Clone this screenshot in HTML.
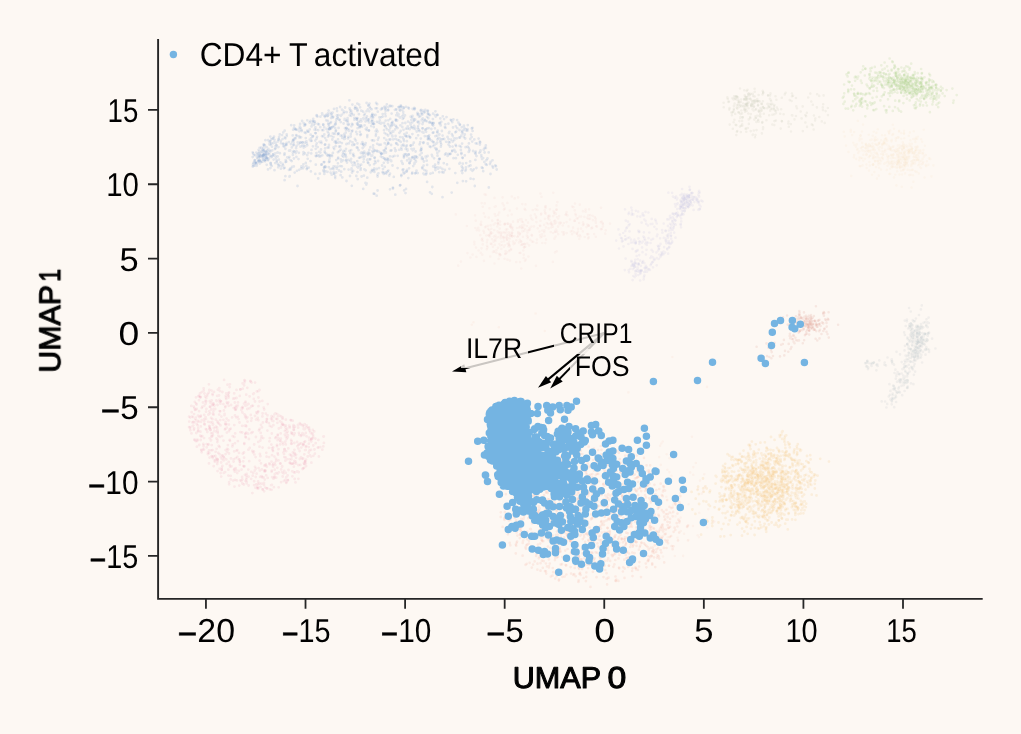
<!DOCTYPE html>
<html><head><meta charset="utf-8"><title>UMAP</title>
<style>html,body{margin:0;padding:0;background:#fdf8f3;}svg{display:block}text{font-family:"Liberation Sans",sans-serif;fill:#000000}</style>
</head><body>
<svg width="1021" height="734" viewBox="0 0 1021 734">
<rect width="1021" height="734" fill="#fdf8f3"/>
<g opacity="0.999">
<g id="faint">
<path d="M392.2 123.0h0M406.2 146.6h0M344.2 138.0h0M421.5 113.8h0M358.3 124.9h0M350.8 133.9h0M336.9 115.5h0M414.3 107.9h0M334.3 173.9h0M255.8 162.3h0M435.1 164.6h0M363.7 153.3h0M293.2 139.7h0M401.6 149.7h0M370.4 159.2h0M357.2 161.2h0M348.6 124.1h0M299.8 126.7h0M356.7 119.5h0M439.6 158.8h0M295.9 129.6h0M293.9 158.5h0M325.2 144.4h0M360.1 121.4h0M269.9 150.4h0M449.9 142.3h0M462.8 158.1h0M472.2 141.6h0M347.6 118.2h0M337.1 111.1h0M435.4 168.4h0M345.8 160.6h0M438.4 161.8h0M315.3 140.6h0M402.4 163.4h0M461.4 154.0h0M427.1 164.9h0M320.3 127.2h0M328.8 129.4h0M427.9 110.7h0M390.1 133.4h0M323.7 162.2h0M316.7 143.4h0M363.3 144.5h0M428.3 118.2h0M385.0 159.0h0M333.7 172.0h0M354.4 117.8h0M332.5 127.1h0M366.9 116.5h0M384.8 173.0h0M362.9 156.5h0M366.9 130.1h0M291.8 147.4h0M347.7 124.3h0M440.2 141.0h0M411.1 127.4h0M381.3 153.8h0M344.1 139.0h0M415.8 172.9h0M309.6 122.5h0M447.6 155.9h0M431.4 129.0h0M266.6 151.4h0M329.9 128.5h0M337.6 166.6h0M466.2 163.1h0M263.2 155.1h0M320.5 156.3h0M381.9 108.2h0M386.0 152.5h0M444.9 127.1h0M271.1 139.5h0M362.0 126.8h0M435.4 111.3h0M406.7 133.0h0M395.6 135.9h0M459.2 137.6h0M389.9 160.0h0M359.8 126.9h0M376.0 134.1h0M302.7 142.4h0M464.8 155.4h0M271.5 157.0h0M301.4 166.5h0M305.3 146.5h0M311.5 126.4h0M279.1 136.9h0M412.5 116.0h0M298.9 152.8h0M452.2 150.7h0M465.4 170.8h0M495.3 165.4h0M404.0 173.6h0M351.2 110.9h0M333.5 168.8h0M253.5 165.9h0M345.1 107.5h0M372.4 151.2h0M305.0 153.4h0M429.0 114.9h0M386.2 172.3h0M340.8 122.1h0M307.1 168.2h0M378.6 137.7h0M388.1 159.5h0M418.1 135.3h0M330.6 172.6h0M409.5 128.7h0M422.7 118.5h0M270.9 157.0h0M384.1 123.0h0M315.4 127.3h0M441.3 121.8h0M399.1 140.5h0M361.6 156.9h0M406.0 128.6h0M262.6 149.6h0M423.6 142.4h0M291.8 161.1h0M410.6 124.7h0M440.4 123.2h0M313.2 121.1h0M283.8 168.3h0M305.8 138.1h0M353.3 153.8h0M314.9 121.6h0M278.9 159.7h0M324.0 171.7h0M328.1 136.5h0M340.7 149.7h0M377.6 176.5h0M426.9 121.3h0M423.9 161.5h0M303.7 147.6h0M384.5 125.6h0M364.6 125.3h0M373.2 117.4h0M268.1 140.2h0M307.3 145.3h0M328.7 124.4h0M436.4 150.0h0M427.1 128.3h0M302.2 145.6h0M402.8 118.9h0M289.0 169.9h0M473.5 179.1h0M404.0 141.0h0M274.0 136.6h0M328.6 110.6h0M463.9 125.6h0M402.8 163.9h0M312.9 146.3h0M461.3 135.6h0M330.6 169.2h0M352.4 104.6h0M455.3 132.3h0M332.7 117.4h0M441.2 144.5h0M265.9 157.5h0M353.2 170.9h0M367.3 177.7h0M284.6 180.2h0M268.4 149.0h0M270.7 163.5h0M282.1 135.1h0M374.5 193.8h0M273.0 154.7h0M360.9 153.0h0M420.8 138.6h0M414.1 120.5h0M351.1 158.9h0M377.5 131.5h0M333.4 137.1h0M439.2 172.2h0M422.3 128.3h0M451.2 139.7h0M267.9 153.7h0M274.5 170.2h0M456.7 138.3h0M492.5 166.2h0M379.8 120.4h0M275.3 148.3h0M424.4 111.8h0M391.3 161.2h0M355.5 108.3h0M384.7 143.2h0M335.7 124.2h0M462.1 143.6h0M457.1 120.1h0M262.9 156.8h0M451.7 192.6h0M448.4 123.7h0M296.5 145.9h0M374.4 171.9h0M360.1 107.3h0M476.4 168.0h0M410.1 122.8h0M345.0 138.7h0M424.9 119.7h0M384.8 166.9h0M361.6 176.5h0M388.4 143.6h0M382.1 165.5h0M333.6 147.4h0M472.4 170.8h0M462.6 169.8h0M430.6 147.1h0M400.1 110.7h0M403.9 155.0h0M417.7 121.7h0M490.5 174.0h0M361.4 121.3h0M267.8 159.7h0M429.4 122.7h0M449.9 154.2h0M315.7 148.8h0M311.7 140.8h0M415.1 159.4h0M312.7 136.4h0M467.6 146.7h0M340.8 159.4h0M341.3 161.7h0M372.8 170.5h0M265.4 151.8h0M319.0 124.4h0M392.2 135.6h0M368.6 105.1h0M347.8 122.5h0M262.8 155.2h0M410.5 145.6h0M338.2 133.4h0M325.7 115.6h0M369.0 122.4h0M312.4 136.6h0M363.2 188.9h0M369.9 154.0h0M276.0 148.1h0M293.8 144.6h0M429.6 138.6h0M427.6 156.0h0M278.5 147.1h0M391.9 125.1h0M391.2 160.7h0M392.5 136.4h0M259.5 160.3h0M388.3 120.3h0M335.2 128.2h0M432.9 142.0h0M470.9 169.4h0M346.2 128.2h0M265.3 157.0h0M390.0 173.6h0M475.7 153.9h0M286.7 134.3h0M297.5 186.0h0M359.2 104.7h0M254.9 160.3h0M275.2 163.1h0M363.6 161.9h0M439.4 123.5h0M325.0 166.5h0M414.1 119.1h0M328.8 167.2h0M435.4 170.0h0M342.3 135.6h0M377.2 143.8h0M315.7 156.0h0M461.0 146.8h0M377.0 108.3h0M391.6 113.6h0M388.4 170.6h0M371.9 140.3h0M433.4 123.4h0M439.4 134.5h0M469.6 150.0h0M279.8 134.4h0M420.3 116.1h0M300.6 127.8h0M266.1 154.6h0M445.0 154.6h0M475.4 159.9h0M335.6 166.7h0M362.2 152.4h0M393.2 139.4h0M372.0 115.2h0M409.8 129.2h0M340.3 146.4h0M263.6 144.5h0M335.6 146.2h0M332.3 139.5h0M356.8 147.4h0M442.4 169.0h0M395.3 194.7h0M380.9 109.4h0" stroke="#4f7fc0" stroke-opacity="0.145" stroke-width="2.76" stroke-linecap="round" fill="none"/>
<path d="M412.1 173.7h0M289.4 156.9h0M263.3 154.6h0M426.5 173.2h0M393.9 124.6h0M328.4 114.9h0M427.8 113.7h0M409.0 135.9h0M332.4 127.1h0M401.1 106.3h0M357.5 172.1h0M270.4 168.1h0M351.8 185.8h0M365.6 121.4h0M272.0 146.7h0M324.9 144.8h0M280.8 140.8h0M432.3 187.0h0M406.3 154.5h0M390.6 106.0h0M403.4 169.4h0M276.8 161.8h0M368.0 119.4h0M482.1 159.0h0M425.5 120.9h0M312.0 123.9h0M355.2 106.7h0M368.3 163.1h0M372.3 155.4h0M469.0 151.8h0M374.1 140.6h0M286.3 144.3h0M318.2 178.5h0M353.8 114.8h0M370.4 147.2h0M319.8 173.7h0M269.3 154.7h0M431.8 193.8h0M301.4 129.9h0M275.3 153.4h0M414.6 156.5h0M349.6 108.3h0M328.8 133.6h0M485.8 145.5h0M270.2 141.4h0M316.4 153.1h0M332.5 168.3h0M385.2 113.7h0M357.0 123.4h0M310.5 121.0h0M380.9 156.4h0M321.1 141.6h0M327.6 147.6h0M376.1 103.0h0M483.2 158.1h0M397.5 139.9h0M438.2 138.0h0M303.6 167.2h0M455.5 151.9h0M451.3 120.5h0M431.5 123.0h0M410.9 160.5h0M352.7 124.6h0M354.9 139.0h0M371.2 126.1h0M418.1 126.1h0M327.9 115.7h0M323.3 124.9h0M283.2 165.6h0M316.7 115.9h0M346.7 143.8h0M386.3 173.6h0M373.1 140.3h0M264.7 159.0h0M333.4 133.6h0M468.7 151.9h0M341.2 171.7h0M327.5 171.8h0M303.0 168.3h0M423.4 173.6h0M481.8 167.5h0M268.0 169.4h0M329.3 128.9h0M296.6 151.3h0M460.9 149.9h0M317.7 147.1h0M289.7 176.2h0M394.5 155.9h0M424.1 174.3h0M480.4 151.5h0M347.7 120.4h0M413.6 157.0h0M424.8 136.2h0M252.7 166.6h0M412.7 144.8h0M374.2 170.1h0M373.2 152.4h0M284.7 167.8h0M372.3 119.7h0M312.7 121.7h0M399.6 109.7h0M289.5 176.7h0M294.0 128.0h0M372.0 170.0h0M261.6 155.0h0M387.0 129.3h0M423.6 165.6h0M255.3 163.1h0M421.9 158.9h0M342.2 155.6h0M403.5 172.2h0M329.3 155.9h0M381.8 153.8h0M336.0 130.4h0M392.8 131.1h0M405.3 123.0h0M270.9 145.0h0M403.2 111.9h0M346.4 144.2h0M384.6 150.6h0M326.2 120.3h0M407.7 126.5h0M264.2 155.9h0M351.6 168.4h0M466.2 130.4h0M486.8 164.9h0M337.6 117.3h0M465.9 169.3h0M462.8 167.9h0M422.6 159.2h0M325.1 148.4h0M310.5 161.1h0M333.8 173.6h0M399.9 185.5h0M294.0 139.8h0M363.8 159.1h0M472.6 130.9h0M266.2 153.7h0M392.5 121.8h0M458.5 122.7h0M459.9 124.4h0M355.1 165.1h0M336.1 142.6h0M299.5 128.6h0M273.3 138.2h0M319.6 142.0h0M481.6 157.2h0M364.4 169.3h0M293.6 151.1h0M293.8 166.4h0M407.7 128.7h0M275.5 146.1h0M316.1 129.6h0M403.5 129.8h0M352.7 165.3h0M272.2 150.4h0M420.2 142.2h0M315.8 133.2h0M375.6 108.3h0M371.5 155.9h0M266.1 152.2h0M303.4 164.5h0M360.9 134.2h0M419.9 154.9h0M344.2 111.7h0M387.6 159.8h0M328.0 155.5h0M385.6 110.8h0M395.6 109.6h0M465.9 167.4h0M354.5 144.4h0M258.4 161.5h0M389.2 139.6h0M319.2 156.4h0M263.3 150.3h0M465.8 129.3h0M338.5 115.1h0M382.6 172.2h0M448.7 142.1h0M347.7 129.1h0M421.7 112.5h0M455.3 173.1h0M294.9 129.0h0M259.1 156.9h0M322.0 136.2h0M330.9 128.5h0M253.2 153.5h0M358.2 164.2h0M391.1 145.0h0M424.7 120.5h0M439.5 138.2h0M351.4 169.8h0M282.0 166.1h0M340.9 115.8h0M400.8 141.9h0M341.6 114.8h0M477.1 143.6h0M440.7 125.4h0M305.8 162.9h0M413.4 128.4h0M421.1 109.9h0M302.1 121.0h0M350.3 153.2h0M264.2 145.0h0M376.7 195.7h0M416.1 156.4h0M332.8 133.3h0M345.5 155.3h0M296.8 136.0h0M437.5 155.7h0M403.3 144.7h0M286.3 161.7h0M270.1 155.6h0M266.6 147.1h0M480.5 150.3h0M393.3 131.7h0M371.9 115.6h0M324.1 167.2h0M455.8 126.3h0M456.2 131.6h0M366.5 119.8h0M384.4 158.6h0M416.7 131.5h0M302.3 142.5h0M262.6 154.9h0M268.8 158.7h0M298.6 144.2h0M331.4 114.1h0M480.2 142.4h0M359.8 165.9h0M486.4 160.2h0M394.9 109.8h0M365.7 170.3h0M305.3 125.1h0M417.4 113.0h0M358.9 114.2h0M462.4 157.6h0M391.5 150.3h0M357.6 128.2h0M253.4 162.9h0M316.0 145.7h0M319.4 155.5h0M263.0 159.7h0M399.4 132.8h0M388.1 135.5h0M483.2 171.2h0M405.7 148.9h0M260.2 161.4h0M442.1 172.2h0M463.9 130.1h0M266.0 159.8h0M343.0 152.9h0M273.2 154.2h0M367.9 152.6h0M446.5 117.1h0M493.1 167.7h0M408.8 154.3h0M462.9 181.1h0M484.3 161.9h0M295.7 153.0h0M404.9 172.6h0M357.3 103.6h0M410.9 145.5h0M331.4 155.2h0M380.7 123.7h0M403.9 157.5h0M325.9 171.4h0M295.6 138.3h0M446.1 141.8h0M350.2 141.2h0M406.0 136.1h0M341.9 166.3h0M292.1 167.0h0M268.1 160.3h0M437.1 135.6h0M342.5 110.1h0M428.3 136.5h0M444.2 139.0h0M276.4 145.6h0M488.8 187.5h0M297.7 142.5h0M342.0 109.7h0M401.3 176.0h0M406.9 141.2h0M313.8 124.9h0M381.6 123.0h0M331.7 174.7h0M455.6 145.0h0M280.9 168.7h0M307.3 130.7h0M354.9 163.4h0M374.8 157.6h0M485.9 148.0h0M385.7 108.6h0M404.3 134.2h0" stroke="#4f7fc0" stroke-opacity="0.145" stroke-width="2.76" stroke-linecap="round" fill="none"/>
<path d="M355.9 140.6h0M252.7 152.3h0M300.4 142.6h0M259.9 155.0h0M492.5 160.3h0M329.8 158.1h0M270.3 151.7h0M434.9 128.3h0M361.3 110.7h0M396.4 127.0h0M293.0 140.4h0M335.8 141.1h0M438.0 168.7h0M279.6 165.6h0M449.4 168.8h0M454.4 138.3h0M410.2 137.6h0M442.6 135.6h0M456.1 146.1h0M428.9 128.2h0M407.0 156.2h0M452.6 146.6h0M430.0 192.3h0M301.1 137.3h0M414.6 163.0h0M269.1 153.0h0M308.4 152.8h0M368.9 130.6h0M414.0 120.2h0M402.3 127.0h0M408.3 107.6h0M359.8 127.4h0M315.3 173.9h0M392.5 165.5h0M352.0 172.5h0M323.3 170.4h0M406.0 188.9h0M349.5 150.9h0M367.2 137.0h0M304.2 125.7h0M437.7 167.5h0M330.2 123.2h0M291.2 125.2h0M255.5 164.0h0M386.4 139.9h0M467.4 130.7h0M299.2 169.8h0M432.1 123.1h0M338.2 157.7h0M295.3 128.9h0M348.8 143.4h0M395.4 151.0h0M461.4 153.0h0M291.0 144.2h0M274.5 139.8h0M450.7 119.8h0M328.8 147.5h0M414.1 126.0h0M254.2 161.9h0M360.0 157.6h0M335.2 176.3h0M294.7 172.6h0M372.9 116.7h0M378.4 173.3h0M465.6 147.2h0M306.8 143.5h0M407.1 136.7h0M374.5 150.6h0M389.2 130.2h0M343.0 160.3h0M474.8 186.0h0M374.5 157.8h0M415.6 151.5h0M348.6 124.8h0M433.5 132.5h0M478.6 138.6h0M289.0 142.1h0M369.2 149.9h0M334.0 108.9h0M344.7 118.9h0M345.5 120.0h0M287.2 157.3h0M356.3 118.1h0M428.8 137.4h0M422.5 168.4h0M284.6 153.4h0M395.5 138.8h0M373.4 123.8h0M360.6 169.9h0M276.7 160.5h0M331.3 136.1h0M487.5 158.5h0M346.6 112.2h0M252.7 157.1h0M334.2 149.1h0M267.2 150.3h0M303.3 154.4h0M437.6 132.3h0M400.4 125.3h0M354.1 162.3h0M368.3 105.8h0M297.0 170.8h0M292.7 135.4h0M427.1 181.9h0M307.7 131.8h0M373.6 114.9h0M377.2 104.2h0M391.2 132.9h0M324.3 134.5h0M392.9 187.6h0M268.0 151.1h0M479.3 152.8h0M285.4 138.4h0M263.9 154.5h0M484.7 147.9h0M388.0 142.4h0M336.4 119.5h0M344.6 119.9h0M403.6 108.3h0M417.9 128.0h0M476.5 156.1h0M432.9 119.1h0M415.2 129.1h0M296.1 135.1h0M462.8 163.7h0M361.2 164.7h0M402.1 109.7h0M401.8 145.6h0M264.8 160.0h0M462.0 132.2h0M311.5 149.9h0M339.7 119.8h0M479.8 141.7h0M349.7 115.4h0M384.0 130.2h0M323.9 170.2h0M288.6 158.2h0M336.2 172.4h0M266.5 156.0h0M363.6 119.1h0M432.8 172.9h0M296.4 156.9h0M385.8 147.7h0M255.6 162.9h0M454.3 150.0h0M433.2 125.6h0M374.3 168.4h0M257.7 159.2h0M352.4 130.6h0M383.7 173.9h0M414.4 109.4h0M415.2 119.6h0M315.1 123.4h0M338.0 139.3h0M365.6 153.6h0M350.4 161.1h0M357.0 134.2h0M351.6 113.0h0M427.1 136.3h0M395.8 119.4h0M369.8 106.8h0M357.7 148.0h0M330.6 127.5h0M389.2 175.5h0M311.2 153.4h0M434.5 144.9h0M357.7 179.2h0M463.9 137.0h0M352.5 142.3h0M329.3 160.1h0M471.8 128.5h0M437.7 130.6h0M321.0 149.5h0M423.2 143.0h0M385.2 109.0h0M386.8 104.3h0M409.1 158.7h0M284.4 146.5h0M453.0 127.5h0M367.8 120.8h0M396.5 143.7h0M447.5 137.0h0M340.1 107.0h0M278.5 139.7h0M468.8 166.2h0M336.2 160.1h0M444.9 170.0h0M332.1 156.1h0M329.6 161.6h0M395.9 150.5h0M330.0 156.0h0M323.3 136.3h0M407.1 160.4h0M442.5 197.2h0M445.5 127.9h0M410.7 116.7h0M261.1 162.2h0M454.3 140.0h0M261.7 156.2h0M452.2 151.2h0M277.6 152.5h0M390.4 139.5h0M445.4 124.3h0M406.0 106.8h0M346.4 159.9h0M304.8 124.6h0M440.7 142.6h0M369.1 106.4h0M294.2 125.3h0M282.6 139.1h0M357.4 143.4h0M414.4 163.9h0M377.9 139.8h0M315.3 133.1h0M496.0 166.3h0M300.1 123.9h0M371.7 109.3h0M266.7 164.8h0M364.8 156.5h0M401.5 161.2h0M354.4 119.7h0M316.5 156.1h0M424.4 170.1h0M259.2 157.6h0M479.9 144.5h0M348.1 138.4h0M259.8 157.2h0M443.8 163.2h0M325.8 167.0h0M387.5 158.3h0M457.3 182.8h0M277.6 156.5h0M257.9 158.1h0M351.7 162.6h0M383.1 172.8h0M421.6 149.5h0M387.6 171.5h0M275.9 158.6h0M334.1 125.8h0M259.1 151.6h0M350.3 112.6h0M425.1 130.0h0M444.1 119.1h0M371.7 121.3h0M385.8 106.7h0M385.7 120.6h0M328.9 135.3h0M379.4 117.5h0M363.2 118.3h0M436.3 143.7h0M299.4 131.3h0M340.6 175.2h0M267.4 157.8h0M396.3 115.2h0M343.7 154.2h0M496.7 169.5h0M323.2 124.5h0M414.6 127.4h0M440.3 118.4h0M376.8 169.0h0M417.8 173.1h0M416.0 161.5h0M338.7 133.7h0M271.2 143.4h0M356.3 176.0h0M375.6 162.7h0M396.4 109.5h0M401.2 147.9h0M324.2 127.3h0M409.5 163.1h0M377.5 174.6h0M356.2 132.0h0M457.8 154.8h0M343.6 113.2h0M399.2 107.0h0M344.9 136.0h0M357.4 111.0h0M332.6 112.6h0M389.3 130.9h0M467.8 125.1h0M468.8 148.0h0M426.1 131.8h0M261.2 147.7h0M403.8 145.8h0M402.8 107.3h0M283.0 143.9h0M257.0 163.8h0M324.4 115.9h0M324.3 173.9h0M301.1 168.5h0M339.0 170.5h0M437.2 142.6h0M259.8 163.5h0M277.8 163.9h0M286.6 142.9h0" stroke="#4f7fc0" stroke-opacity="0.145" stroke-width="2.76" stroke-linecap="round" fill="none"/>
<path d="M257.3 155.6h0M470.6 178.7h0M322.3 155.3h0M437.3 114.9h0M258.6 149.8h0M490.0 164.1h0M348.9 130.9h0M299.6 137.7h0M322.3 114.4h0M396.1 143.1h0M317.5 116.6h0M367.3 135.1h0M289.1 150.7h0M429.2 135.3h0M419.2 131.1h0M475.7 151.6h0M429.7 146.4h0M262.8 158.4h0M371.4 171.7h0M357.3 166.8h0M390.5 150.7h0M369.0 130.4h0M400.4 185.1h0M402.5 169.8h0M422.5 124.0h0M415.2 173.4h0M265.3 151.9h0M387.9 162.5h0M423.5 132.7h0M435.0 115.2h0M403.9 107.7h0M374.1 164.2h0M422.4 132.0h0M435.7 116.6h0M419.6 131.2h0M381.1 153.7h0M383.8 162.8h0M319.1 151.8h0M325.2 138.1h0M336.8 108.4h0M413.9 149.0h0M354.0 156.2h0M432.7 132.8h0M425.9 129.4h0M347.0 162.5h0M357.4 124.5h0M430.4 173.7h0M437.3 152.9h0M286.5 145.1h0M261.6 151.9h0M342.2 137.9h0M264.4 152.7h0M407.5 150.6h0M328.9 126.4h0M388.3 109.8h0M327.9 113.4h0M470.5 165.4h0M320.4 152.6h0M448.2 153.9h0M417.7 114.9h0M388.3 143.7h0M263.2 148.0h0M452.8 136.0h0M356.7 108.1h0M351.9 131.5h0M348.6 169.6h0M353.7 144.9h0M320.4 116.7h0M322.0 130.1h0M273.6 159.6h0M404.0 156.3h0M335.9 121.8h0M365.8 129.0h0M259.1 161.2h0M417.2 157.5h0M406.8 171.5h0M473.1 151.0h0M373.6 193.7h0M258.2 153.4h0M433.1 113.7h0M396.0 120.4h0M435.3 167.0h0M420.9 149.6h0M397.7 155.8h0M365.5 182.9h0M327.2 155.3h0M270.6 163.0h0M412.7 150.3h0M383.6 153.2h0M318.2 130.2h0M305.7 133.1h0M317.9 124.0h0M427.0 116.8h0M363.0 144.0h0M395.8 125.9h0M366.3 184.6h0M402.1 116.3h0M265.9 157.6h0M448.9 133.0h0M300.5 146.7h0M433.0 146.1h0M359.1 125.4h0M354.9 108.5h0M328.2 123.6h0M379.1 144.9h0M453.5 158.2h0M274.9 149.1h0M290.5 169.7h0M262.3 157.1h0M453.4 119.5h0M270.7 164.8h0M407.4 149.3h0M426.7 160.7h0M377.6 190.5h0M308.8 167.6h0M448.5 144.6h0M285.4 176.2h0M426.0 174.5h0M373.2 123.8h0M339.1 146.7h0M378.1 161.0h0M390.2 127.8h0M337.8 134.3h0M434.1 158.3h0M338.0 158.6h0M259.9 155.2h0M275.5 156.3h0M340.7 135.7h0M439.0 159.2h0M264.3 148.5h0M310.8 140.9h0M357.5 118.1h0M402.5 123.2h0M462.7 133.3h0M442.8 116.3h0M301.8 131.0h0M337.7 118.5h0M317.6 155.4h0M405.2 154.1h0M393.8 176.9h0M314.0 121.6h0M265.3 154.3h0M437.4 139.5h0M367.8 162.4h0M308.6 131.7h0M485.7 164.2h0M360.8 119.3h0M391.4 125.9h0M385.6 116.2h0M383.7 150.4h0M304.8 142.7h0M464.8 134.5h0M366.6 103.0h0M305.2 124.1h0M402.6 137.3h0M464.4 128.0h0M401.4 174.9h0M392.7 156.7h0M259.6 148.3h0M459.5 130.0h0M360.6 125.7h0M307.7 158.8h0M365.7 143.1h0M274.4 142.5h0M294.6 151.6h0M275.7 143.0h0M431.6 140.6h0M307.3 120.3h0M393.0 188.5h0M448.9 154.1h0M350.7 136.5h0M391.5 123.5h0M310.9 171.4h0M273.2 143.2h0M400.1 117.5h0M382.7 116.6h0M331.1 118.0h0M376.9 121.8h0M262.6 157.4h0M431.8 154.8h0M266.7 158.3h0M311.0 138.5h0M439.1 151.1h0M397.6 128.1h0M321.3 164.7h0M472.5 127.8h0M266.4 154.3h0M398.5 116.1h0M303.7 123.2h0M400.5 107.2h0M313.2 118.9h0M350.0 176.0h0M324.7 151.5h0M263.4 154.9h0M441.9 131.0h0M412.4 134.1h0M282.7 164.0h0M397.6 168.1h0M280.4 162.5h0M371.0 117.2h0M388.0 124.2h0M284.4 154.9h0M326.5 129.0h0M411.5 148.8h0M377.0 150.7h0M398.6 114.3h0M429.8 121.9h0M397.2 120.5h0M272.5 138.6h0M346.5 120.8h0M260.6 156.2h0M366.8 127.9h0M343.5 150.9h0M488.7 152.4h0M309.7 129.4h0M285.5 162.0h0M438.4 163.5h0M432.3 156.3h0M290.2 150.5h0M412.3 157.2h0M422.8 128.3h0M348.5 136.8h0M403.9 117.7h0M259.6 148.0h0M384.2 106.9h0M346.6 127.9h0M462.1 131.0h0M285.7 160.1h0M349.2 129.9h0M292.9 154.9h0M386.5 134.2h0M482.8 168.1h0M428.0 138.9h0M274.2 155.9h0M425.6 156.7h0M343.4 156.8h0M344.9 136.8h0M327.5 116.1h0M379.0 168.1h0M326.5 154.0h0M264.7 160.3h0M265.9 152.5h0M408.3 178.1h0M254.7 160.2h0M339.2 119.8h0M313.0 136.2h0M303.9 145.6h0M369.5 103.6h0M333.2 117.0h0M410.0 137.2h0M346.5 181.0h0M378.5 151.5h0M364.9 113.8h0M322.1 113.3h0M314.6 129.7h0M352.2 145.1h0M366.6 183.3h0M339.4 151.1h0M358.6 150.2h0M277.9 141.4h0M317.1 136.8h0M363.1 111.7h0M358.0 167.5h0M414.9 108.6h0M338.2 142.7h0M264.5 154.7h0M383.0 169.1h0M370.7 172.3h0M255.3 155.3h0M441.5 139.3h0M256.3 152.6h0M359.0 157.8h0M443.6 172.5h0M326.7 114.3h0M461.8 127.2h0M435.2 148.2h0M369.0 119.5h0M368.0 154.9h0M397.2 112.8h0M416.2 138.2h0M375.0 160.9h0M339.9 142.2h0M412.3 172.7h0M264.1 150.6h0M253.0 164.5h0M306.3 165.9h0M334.7 133.9h0M426.0 157.4h0M309.8 139.7h0M343.6 123.5h0M449.4 131.8h0M412.7 109.0h0M437.1 132.1h0M465.2 138.5h0M316.8 115.2h0" stroke="#4f7fc0" stroke-opacity="0.145" stroke-width="2.76" stroke-linecap="round" fill="none"/>
<path d="M276.5 145.3h0M407.0 170.3h0M325.0 117.0h0M330.1 129.0h0M389.6 125.9h0M372.3 114.0h0M316.5 138.7h0M383.1 157.7h0M433.2 166.5h0M490.6 162.0h0M385.9 127.4h0M271.8 165.9h0M428.0 139.2h0M422.2 167.4h0M385.8 160.2h0M471.7 137.1h0M459.4 163.7h0M400.7 131.0h0M285.4 144.9h0M259.8 160.2h0M369.6 159.4h0M338.6 127.9h0M421.9 157.2h0M419.2 123.4h0M259.3 155.9h0M296.1 148.2h0M297.2 129.9h0M269.5 144.4h0M365.9 118.1h0M262.5 151.9h0M306.4 141.3h0M346.1 157.0h0M470.1 161.4h0M272.0 156.3h0M363.8 146.5h0M368.1 154.0h0M334.7 142.0h0M256.9 165.8h0M380.4 152.6h0M461.7 166.5h0M265.4 140.2h0M256.2 162.9h0M373.2 148.4h0M261.7 150.6h0M445.9 153.5h0M299.2 136.2h0M403.4 114.5h0M373.1 145.5h0M286.8 136.1h0M263.9 145.6h0M411.9 157.9h0M457.2 128.2h0M342.3 177.4h0M384.2 138.1h0M344.4 134.0h0M371.8 123.6h0M330.5 112.8h0M450.6 153.7h0M346.0 148.8h0M470.2 139.0h0M321.8 164.5h0M421.7 120.0h0M365.2 145.1h0M351.2 150.2h0M419.1 116.8h0M466.1 181.3h0M432.3 124.7h0M328.9 162.1h0M471.1 134.7h0M321.5 143.1h0M367.9 109.4h0M390.0 156.3h0M437.4 114.9h0M418.1 114.2h0M385.1 126.4h0M345.3 154.2h0M424.4 112.4h0M349.4 100.3h0M400.1 137.1h0M284.8 137.4h0M278.8 139.1h0M298.5 159.1h0M475.7 143.3h0M474.3 139.4h0M326.4 140.3h0M357.1 119.5h0M364.1 115.3h0M396.0 120.4h0M260.0 152.8h0M284.7 130.7h0M264.3 154.6h0M283.6 143.8h0M425.3 109.8h0M351.8 114.2h0M386.7 144.8h0M412.3 122.4h0M421.7 153.0h0M394.8 148.3h0M413.9 158.6h0M388.3 107.1h0M257.6 153.8h0M421.9 157.3h0M409.6 163.2h0M390.2 118.9h0M324.4 162.1h0M407.0 169.9h0M367.7 159.6h0M448.6 139.2h0M300.3 142.7h0M369.3 111.3h0M461.6 171.1h0M348.5 159.9h0M362.7 148.0h0M382.6 157.5h0M382.2 108.9h0M351.9 124.0h0M408.7 154.7h0M358.3 122.0h0M420.6 150.8h0M419.1 130.1h0M435.4 136.2h0M351.3 126.3h0M367.6 159.7h0M375.5 115.0h0M433.8 142.2h0M329.0 144.9h0M460.1 137.5h0M345.0 128.2h0M427.9 143.9h0M442.8 139.1h0M395.1 129.4h0M399.2 149.8h0M375.7 131.2h0M419.1 121.9h0M462.3 173.0h0M426.4 170.9h0M439.7 122.8h0M361.6 143.9h0M293.5 142.3h0M366.6 111.2h0M262.7 161.5h0M422.9 158.6h0M378.9 122.7h0M447.0 164.4h0M292.8 152.6h0M335.9 143.0h0M262.0 161.8h0M345.7 132.7h0M422.4 114.5h0M333.6 166.3h0M329.2 128.9h0M340.1 166.1h0M406.6 171.1h0M408.9 108.5h0M293.1 129.8h0M362.8 153.5h0M427.5 111.2h0M337.9 152.2h0M409.7 162.0h0M483.7 149.7h0M427.7 143.5h0M323.3 130.2h0M418.6 114.2h0M259.9 160.1h0M363.9 175.7h0M278.5 165.5h0M412.1 118.0h0M279.9 153.2h0M468.9 143.4h0M335.2 124.0h0M266.7 157.8h0M307.2 155.2h0M374.9 150.6h0M315.8 164.7h0M384.6 133.1h0M372.1 121.3h0M411.3 119.8h0M398.4 107.1h0M360.3 135.1h0M400.8 105.4h0M387.9 110.4h0M373.4 121.9h0M413.2 166.1h0M459.6 145.9h0M364.3 151.6h0M433.5 122.9h0M418.6 129.5h0M263.1 155.7h0M331.0 122.1h0M440.9 146.7h0M473.8 169.3h0M428.2 113.6h0M258.2 161.1h0M257.0 157.6h0M293.4 145.3h0M422.7 121.3h0M404.1 190.4h0M331.7 115.5h0M336.8 168.7h0M397.9 144.8h0M344.3 169.2h0M409.1 168.3h0M377.8 111.7h0M290.4 168.5h0M405.5 135.9h0M262.5 150.9h0M419.6 144.3h0M452.3 122.2h0M436.8 148.9h0M380.8 144.7h0M405.5 193.1h0M413.8 142.7h0M341.9 143.1h0M345.2 151.0h0M310.7 134.7h0M294.8 138.1h0M303.5 152.1h0M460.0 162.9h0M420.6 110.6h0M278.2 167.3h0M429.9 139.6h0M475.1 153.0h0M263.4 155.7h0M269.5 143.2h0M350.1 110.1h0M346.0 130.1h0M265.2 161.3h0M408.0 121.6h0M376.6 129.6h0M369.1 152.8h0M257.8 154.4h0M360.8 168.1h0M390.0 189.3h0M335.7 131.5h0M367.1 159.9h0M283.3 132.4h0M467.5 129.1h0M374.2 124.1h0M455.9 158.2h0M269.7 141.6h0M285.4 148.8h0M306.8 169.2h0M361.1 125.4h0M381.1 117.3h0M440.3 167.6h0M389.6 106.0h0M327.9 120.9h0M484.6 152.5h0M415.6 156.9h0M369.8 165.1h0M382.7 114.1h0M281.0 143.2h0M329.1 154.8h0M332.9 153.0h0M337.9 163.3h0M325.0 152.8h0M421.3 147.8h0M449.9 146.5h0M411.9 127.2h0M403.6 139.2h0M430.0 115.1h0M283.4 146.2h0M405.0 115.4h0M451.9 134.2h0M254.0 155.1h0M439.7 159.0h0M392.3 106.2h0M335.2 178.1h0M359.9 131.8h0M481.3 155.2h0M423.1 110.7h0M423.2 121.8h0M292.3 141.9h0M264.0 150.8h0M362.4 142.2h0M376.9 151.3h0M373.8 127.1h0M418.1 122.4h0M255.0 165.7h0M385.8 149.1h0M452.7 141.5h0M264.8 145.4h0M459.8 124.8h0M353.1 155.3h0M406.8 145.3h0M351.2 115.8h0M290.5 160.1h0M270.3 136.6h0M304.7 132.4h0M370.4 108.4h0M375.8 135.8h0M327.7 131.8h0M357.6 109.7h0M416.5 170.7h0M324.2 168.0h0" stroke="#4f7fc0" stroke-opacity="0.145" stroke-width="2.76" stroke-linecap="round" fill="none"/>
<path d="M219.7 411.1h0M251.1 478.8h0M313.4 455.8h0M196.8 409.0h0M212.7 458.0h0M264.0 482.9h0M261.7 476.1h0M299.8 459.0h0M237.8 416.8h0M285.9 425.6h0M276.0 459.0h0M309.4 430.4h0M297.1 442.0h0M277.3 467.8h0M213.7 466.2h0M225.2 407.4h0M217.5 471.1h0M228.7 395.8h0M315.7 443.2h0M281.2 416.4h0M251.2 471.8h0M307.7 456.5h0M264.8 479.6h0M199.0 400.2h0M274.5 414.3h0M287.9 480.2h0M258.5 406.2h0M306.6 425.4h0M273.4 425.2h0M245.1 417.1h0M235.0 415.4h0M250.4 381.5h0M287.9 435.2h0M251.2 420.8h0M231.1 405.0h0M308.9 443.7h0M225.6 421.9h0M235.0 443.2h0M267.8 404.1h0M223.8 457.0h0M303.7 429.0h0M241.4 410.0h0M285.8 472.8h0M285.9 429.7h0M200.8 415.7h0M306.0 459.6h0M191.7 412.2h0M259.0 430.4h0M229.0 431.2h0M237.2 473.0h0M291.1 440.0h0M201.0 421.8h0M303.9 463.1h0M291.3 455.1h0M288.3 448.4h0M256.1 419.6h0M219.5 399.9h0M310.0 455.5h0M200.7 440.0h0M313.3 445.5h0M260.4 440.6h0M304.9 429.0h0M221.0 401.3h0M305.1 461.4h0M273.4 416.8h0M273.2 447.4h0M284.2 470.8h0M253.8 398.9h0M222.4 392.0h0M201.8 420.1h0M244.4 382.6h0M228.4 475.6h0M267.3 488.3h0M294.9 472.5h0M217.5 405.0h0M261.0 424.9h0M241.8 408.6h0M239.0 452.9h0M264.3 465.6h0M314.9 453.7h0M292.4 476.3h0M235.0 479.9h0M237.8 405.6h0M303.9 435.0h0M246.6 473.9h0M268.9 447.8h0M311.3 441.6h0M298.4 465.2h0M272.1 477.2h0M213.1 413.7h0M289.8 427.4h0M198.9 395.7h0M214.0 391.8h0M220.3 420.1h0M274.5 477.5h0M241.7 408.0h0M207.6 394.1h0M258.0 484.0h0M209.9 406.7h0M225.2 423.9h0M208.1 444.9h0M212.4 419.2h0M210.5 422.3h0M205.1 396.5h0M271.7 426.8h0M219.7 447.0h0M220.4 403.7h0M265.2 470.5h0M200.8 426.4h0M297.4 446.2h0M244.5 414.4h0M242.6 383.4h0M303.2 458.5h0M266.6 456.7h0M284.0 453.9h0M194.1 428.3h0M280.2 440.6h0M285.4 479.8h0M194.3 422.4h0M217.5 459.5h0M272.0 418.1h0M300.5 424.4h0M211.1 433.3h0M304.3 464.0h0M199.1 411.2h0M230.0 466.7h0M283.4 452.6h0M217.5 421.5h0M238.5 419.1h0M296.0 457.8h0M277.4 422.8h0M235.5 408.5h0M255.9 437.0h0M201.6 452.3h0M259.6 460.6h0M256.8 488.2h0M262.6 489.4h0M239.0 470.8h0M205.6 403.8h0M296.1 454.8h0M236.5 450.7h0M311.2 456.6h0M224.6 414.0h0M283.7 473.4h0M221.8 467.8h0M255.5 487.7h0M280.2 444.4h0M282.6 424.0h0M212.9 435.2h0M212.7 395.1h0M223.4 404.1h0M192.4 422.4h0M229.6 439.9h0M303.9 428.3h0M305.8 446.8h0M205.8 429.1h0M196.8 424.0h0M226.3 459.4h0M214.4 405.5h0M224.5 415.2h0M198.0 415.6h0M236.8 407.4h0M242.7 388.7h0M221.2 462.5h0M201.2 436.6h0M215.6 451.8h0M298.4 448.4h0M295.6 461.6h0M275.5 413.4h0M242.2 432.5h0" stroke="#ea88a8" stroke-opacity="0.135" stroke-width="2.8" stroke-linecap="round" fill="none"/>
<path d="M206.6 429.6h0M298.5 444.8h0M278.5 460.4h0M281.1 482.2h0M198.6 396.4h0M189.2 421.6h0M204.3 423.9h0M276.1 418.8h0M225.6 454.1h0M304.1 442.1h0M215.2 409.0h0M284.1 425.2h0M252.9 405.8h0M205.6 417.1h0M260.4 456.2h0M228.3 402.4h0M289.2 425.7h0M234.4 468.9h0M323.8 436.4h0M318.9 456.5h0M220.8 401.1h0M236.3 470.1h0M190.0 427.2h0M230.0 440.8h0M267.0 418.8h0M271.9 484.8h0M248.5 404.0h0M214.9 461.7h0M322.3 449.7h0M244.0 403.6h0M273.0 451.1h0M191.3 405.9h0M240.3 480.3h0M219.1 423.8h0M206.6 444.1h0M204.3 405.8h0M308.9 437.6h0M221.4 416.6h0M195.9 417.7h0M242.4 483.5h0M233.1 480.6h0M252.4 493.1h0M253.9 451.5h0M282.4 472.3h0M209.0 463.4h0M312.5 438.5h0M262.8 489.3h0M277.0 446.2h0M313.0 434.9h0M217.8 432.9h0M254.8 470.5h0M302.0 425.0h0M308.2 428.2h0M202.5 406.6h0M195.7 441.1h0M204.0 449.6h0M271.9 448.1h0M301.0 457.2h0M212.9 404.8h0M311.0 433.2h0M229.8 464.9h0M289.5 426.3h0M234.9 471.7h0M254.1 481.2h0M221.8 469.9h0M234.2 393.4h0M280.1 463.3h0M189.1 416.7h0M222.6 455.5h0M271.1 485.1h0M260.1 476.9h0M246.2 394.7h0M282.0 472.1h0M285.5 427.4h0M266.3 452.8h0M323.9 442.9h0M269.9 489.4h0M218.3 452.9h0M303.0 425.9h0M309.2 429.0h0M197.8 439.9h0M232.7 444.5h0M287.2 428.7h0M229.0 392.4h0M252.7 475.7h0M202.4 436.1h0M303.3 443.9h0M237.9 441.1h0M227.2 448.8h0M314.3 431.4h0M215.3 455.9h0M252.7 432.1h0M226.8 402.5h0M323.4 436.6h0M266.7 488.3h0M257.5 486.7h0M247.3 387.8h0M285.8 436.7h0M236.2 417.3h0M261.6 436.1h0M219.2 414.6h0M217.5 459.1h0M248.9 439.0h0M285.8 444.4h0M276.2 437.2h0M265.5 465.5h0M310.3 432.1h0M227.7 395.2h0M294.9 454.1h0M225.8 395.8h0M261.8 469.5h0M311.0 449.9h0M215.7 427.2h0M311.3 439.4h0M231.5 466.3h0M262.9 422.5h0M217.6 461.8h0M212.4 422.4h0M277.6 440.2h0M206.0 418.9h0M290.0 462.7h0M209.4 426.6h0M272.3 448.4h0M229.6 429.3h0M301.3 435.1h0M213.8 408.9h0M291.0 420.2h0M215.6 460.1h0M264.3 470.5h0M212.3 456.7h0M246.9 405.0h0M259.9 470.6h0M216.0 426.6h0M306.5 436.3h0M240.4 389.4h0M293.0 463.6h0M208.2 421.8h0M269.8 464.3h0M245.3 402.9h0M259.6 483.5h0M232.7 436.2h0M293.9 466.7h0M299.9 423.2h0M195.2 418.8h0M293.9 435.3h0M241.6 469.6h0M271.8 470.6h0M244.3 443.2h0M209.3 390.0h0M194.4 439.7h0M242.3 479.4h0M208.9 384.3h0M212.0 436.5h0M197.8 425.4h0M223.4 419.8h0M305.1 461.7h0M255.8 468.7h0M274.8 474.2h0M304.1 467.8h0M251.7 418.3h0M276.2 473.1h0M222.1 436.1h0M259.5 390.0h0M258.4 391.2h0M256.2 484.4h0M245.4 405.7h0M208.0 452.4h0M266.2 475.3h0M217.4 442.1h0M244.1 385.4h0" stroke="#ea88a8" stroke-opacity="0.135" stroke-width="2.8" stroke-linecap="round" fill="none"/>
<path d="M217.3 429.9h0M218.7 446.0h0M211.1 450.3h0M261.2 438.2h0M211.1 439.9h0M302.5 433.2h0M235.2 433.4h0M287.6 475.5h0M284.4 449.2h0M243.2 461.3h0M204.2 419.1h0M314.5 449.5h0M283.1 424.7h0M299.4 434.9h0M286.2 477.3h0M280.5 463.7h0M278.6 438.4h0M210.9 440.6h0M293.4 426.7h0M285.1 442.0h0M291.4 459.3h0M246.3 426.3h0M210.2 406.9h0M234.0 469.9h0M210.7 429.9h0M277.2 414.1h0M293.7 429.6h0M217.1 427.6h0M278.0 454.7h0M209.4 428.9h0M201.6 450.4h0M203.7 445.4h0M194.8 401.8h0M194.9 440.1h0M301.3 447.6h0M255.0 401.5h0M298.7 472.2h0M235.7 458.2h0M277.8 473.5h0M264.5 471.6h0M295.5 482.4h0M282.2 466.2h0M274.5 476.7h0M298.0 424.9h0M302.5 469.0h0M226.7 463.9h0M255.7 477.0h0M214.6 460.4h0M276.2 477.7h0M217.7 431.4h0M193.0 417.1h0M280.7 433.4h0M207.3 432.0h0M294.3 443.0h0M272.1 420.5h0M212.3 405.2h0M211.1 417.9h0M229.0 453.5h0M207.1 395.9h0M216.3 400.3h0M285.8 419.7h0M194.0 414.1h0M273.9 487.2h0M278.9 472.3h0M258.0 412.1h0M196.7 439.8h0M198.8 421.7h0M209.8 401.2h0M245.6 480.9h0M228.7 461.9h0M234.3 425.1h0M203.7 388.3h0M262.2 477.4h0M277.8 435.4h0M257.7 488.1h0M320.3 447.1h0M272.7 465.0h0M234.5 486.6h0M295.0 426.7h0M249.2 461.2h0M291.7 456.6h0M206.4 408.9h0M260.7 432.9h0M282.1 466.7h0M279.3 415.7h0M193.8 406.6h0M248.3 469.6h0M213.1 403.5h0M280.0 421.3h0M225.6 424.4h0M217.6 440.0h0M225.9 397.6h0M223.8 472.9h0M299.6 443.9h0M196.6 404.5h0M219.3 388.1h0M301.0 436.0h0M287.6 437.4h0M292.5 433.4h0M273.3 421.1h0M245.0 380.8h0M248.6 485.5h0M257.7 418.0h0M219.9 436.9h0M242.1 425.8h0M217.9 389.7h0M224.3 458.1h0M305.8 449.9h0M220.5 425.4h0M259.9 453.9h0M230.7 479.4h0M252.2 451.0h0M242.1 476.9h0M309.5 440.2h0M312.3 433.3h0M282.5 418.9h0M305.1 441.5h0M216.7 401.1h0M284.3 457.1h0M277.0 445.0h0M226.9 432.6h0M235.2 409.7h0M200.6 397.3h0M211.6 400.5h0M306.5 427.1h0M200.7 416.6h0M294.7 433.3h0M262.6 447.6h0M239.9 461.7h0M224.0 457.7h0M203.0 402.5h0M305.0 450.1h0M257.2 413.4h0M269.3 463.4h0M269.4 441.3h0M318.7 447.3h0M220.9 457.2h0M281.4 422.3h0M210.0 413.3h0M245.5 433.4h0M225.1 472.1h0M291.2 463.9h0M244.1 457.7h0M200.3 435.7h0M277.3 419.2h0M247.3 409.0h0M283.2 444.4h0M235.0 407.6h0M294.7 479.0h0M190.4 430.3h0M265.3 487.6h0M303.1 445.3h0M298.0 471.7h0M239.5 422.5h0M242.8 408.2h0M203.6 446.4h0M246.6 475.8h0M198.1 431.4h0M297.2 471.5h0M244.3 466.1h0M197.0 441.0h0M285.4 441.6h0M278.0 416.2h0M222.0 455.8h0M215.8 419.7h0M306.1 466.1h0M305.9 463.6h0M219.6 468.8h0M266.8 419.5h0M265.8 413.6h0" stroke="#ea88a8" stroke-opacity="0.135" stroke-width="2.8" stroke-linecap="round" fill="none"/>
<path d="M190.0 428.2h0M242.4 412.5h0M220.3 411.3h0M200.4 431.7h0M211.6 456.1h0M234.8 402.5h0M226.2 393.3h0M302.1 458.8h0M218.0 422.9h0M244.0 452.5h0M228.2 449.6h0M249.4 408.3h0M285.8 457.6h0M213.5 414.7h0M228.5 420.4h0M197.6 421.0h0M277.8 434.6h0M198.2 428.2h0M273.2 464.0h0M277.7 453.2h0M221.2 476.6h0M244.2 466.7h0M294.5 452.8h0M203.0 449.4h0M213.6 403.9h0M268.9 423.1h0M239.8 464.7h0M226.6 418.6h0M237.4 450.1h0M285.3 460.7h0M283.9 481.0h0M250.8 415.0h0M227.9 445.1h0M266.8 422.0h0M288.5 470.0h0M201.2 449.8h0M284.7 449.3h0M286.5 482.0h0M298.4 478.8h0M250.5 380.9h0M234.2 451.4h0M200.2 397.3h0M204.7 424.5h0M293.9 427.9h0M205.4 401.0h0M291.7 441.3h0M254.1 485.1h0M282.6 442.6h0M247.5 421.6h0M229.6 387.1h0M210.7 403.0h0M193.9 429.8h0M249.7 448.0h0M263.3 438.1h0M287.9 480.1h0M212.5 393.8h0M191.8 416.7h0M225.5 428.7h0M217.2 464.0h0M221.7 469.7h0M291.4 432.4h0M209.3 453.1h0M244.9 474.8h0M292.2 471.3h0M189.0 427.1h0M201.8 407.9h0M245.5 401.7h0M228.6 397.6h0M284.3 450.7h0M318.4 439.9h0M212.8 424.8h0M317.8 447.7h0M240.4 389.4h0M271.6 471.8h0M236.5 398.0h0M213.4 411.3h0M232.1 417.4h0M240.0 461.7h0M271.5 461.6h0M308.8 452.5h0M256.6 473.7h0M190.3 417.5h0M226.8 427.6h0M267.7 477.9h0M271.6 489.8h0M246.7 483.3h0M204.2 421.2h0M216.6 448.8h0M249.4 429.4h0M228.3 469.7h0M293.9 430.0h0M228.7 405.8h0M292.7 420.7h0M246.3 479.4h0M221.9 459.0h0M248.4 449.7h0M228.4 393.3h0M255.6 457.1h0M214.5 430.9h0M196.9 446.7h0M247.4 417.3h0M293.7 472.2h0M255.0 416.0h0M309.0 427.3h0M303.6 425.1h0M256.8 391.4h0M227.5 403.5h0M291.7 443.9h0M267.4 430.6h0M311.3 438.6h0M245.9 437.4h0M272.7 450.1h0M199.3 445.0h0M304.7 424.1h0M195.4 409.4h0M238.7 459.3h0M208.5 444.2h0M211.4 436.3h0M274.6 463.0h0M284.8 434.7h0M274.7 469.7h0M219.5 401.7h0M255.0 466.8h0M231.0 458.4h0M262.0 427.4h0M258.1 411.3h0M294.3 461.0h0M225.6 450.1h0M286.6 433.1h0M213.1 424.4h0M200.0 393.4h0M309.4 450.6h0M235.8 468.1h0M294.2 463.2h0M246.3 432.6h0M300.2 464.9h0M243.9 484.5h0M196.0 420.3h0M264.2 409.5h0M266.9 466.7h0M262.6 413.5h0M225.5 406.2h0M289.8 463.0h0M233.2 398.7h0M206.2 398.2h0M246.7 481.7h0M273.1 466.7h0M287.0 459.2h0M215.6 431.4h0M208.9 392.6h0M265.5 471.0h0M196.3 433.0h0M264.1 491.3h0M258.4 397.5h0M289.4 459.3h0M193.3 421.9h0M290.7 420.1h0M211.7 445.1h0M305.0 461.1h0M223.5 440.6h0M274.4 456.6h0M209.9 428.0h0M304.2 463.8h0M258.3 441.9h0M229.1 482.2h0M281.0 427.5h0M298.2 427.7h0M262.4 416.4h0M258.6 468.1h0" stroke="#ea88a8" stroke-opacity="0.135" stroke-width="2.8" stroke-linecap="round" fill="none"/>
<path d="M282.7 476.5h0M233.7 459.5h0M282.7 417.5h0M251.2 406.5h0M227.2 451.8h0M234.6 398.4h0M291.1 443.4h0M271.8 433.5h0M313.2 437.0h0M223.7 460.4h0M260.5 486.9h0M199.4 417.0h0M251.3 433.0h0M204.2 414.8h0M292.1 463.7h0M311.4 462.7h0M248.2 433.7h0M207.9 454.2h0M224.1 379.9h0M263.7 407.6h0M301.0 443.3h0M219.6 454.3h0M212.6 433.0h0M296.1 463.5h0M267.5 415.3h0M305.8 433.0h0M204.0 438.1h0M281.9 424.9h0M256.3 412.5h0M213.7 456.1h0M271.4 444.6h0M235.9 409.8h0M203.7 390.6h0M262.3 400.9h0M263.6 477.4h0M226.6 424.3h0M273.5 478.7h0M261.0 463.3h0M269.8 438.2h0M193.3 425.6h0M233.6 461.5h0M254.3 454.4h0M209.9 428.4h0M218.3 435.8h0M239.2 485.6h0M286.6 439.0h0M239.8 395.9h0M253.9 393.3h0M293.6 425.2h0M306.3 446.1h0M217.1 395.8h0M233.7 408.1h0M276.2 461.0h0M244.4 380.2h0M251.6 382.6h0M209.0 450.4h0M206.7 447.3h0M289.9 454.6h0M244.2 444.1h0M248.6 476.7h0M236.1 405.8h0M269.9 425.9h0M206.2 401.5h0M204.4 393.5h0M240.4 432.1h0M234.4 436.9h0M244.6 425.8h0M278.5 449.2h0M294.2 455.7h0M255.1 382.6h0M299.6 451.0h0M261.7 483.7h0M254.2 444.5h0M200.3 396.6h0M315.4 438.6h0M258.3 488.6h0M192.6 426.2h0M227.5 384.7h0M312.8 430.0h0M259.6 429.0h0M311.4 439.2h0M210.3 430.2h0M230.7 428.7h0M242.8 453.7h0M206.0 411.7h0M194.3 408.2h0M245.8 425.5h0M203.3 444.0h0M253.3 472.9h0M271.0 418.8h0M209.6 457.6h0M308.7 447.1h0M258.4 488.4h0M237.3 456.9h0M236.5 389.9h0M211.1 409.5h0M241.4 481.0h0M229.9 384.3h0M209.2 411.3h0M286.2 482.9h0M236.9 480.4h0M213.9 428.0h0M264.0 485.1h0M220.6 473.0h0M195.0 409.9h0M278.6 487.3h0M269.1 457.1h0M209.6 438.3h0M245.8 415.8h0M219.0 395.5h0M238.0 402.4h0M294.4 449.8h0M284.9 431.1h0M286.1 451.2h0M271.6 416.2h0M245.5 436.9h0M224.9 429.4h0M253.1 452.7h0M298.9 432.8h0M222.4 465.9h0M223.9 410.5h0M258.3 420.2h0M252.0 405.8h0M275.2 464.9h0M246.7 477.6h0M245.2 434.3h0M228.9 424.6h0M302.8 444.3h0M280.4 441.3h0M259.5 446.7h0M266.2 421.6h0M208.4 414.7h0M196.0 403.3h0M265.9 464.3h0M196.0 397.3h0M287.6 431.7h0M291.8 433.8h0M259.6 401.5h0M211.6 390.6h0M249.6 396.4h0M258.1 481.4h0M323.3 446.4h0M198.1 430.5h0M303.3 468.3h0M230.7 475.9h0M253.2 394.1h0M201.8 392.1h0M191.5 433.4h0M216.5 438.5h0M272.0 455.2h0M292.9 452.5h0M243.2 466.1h0M242.7 406.8h0M280.9 438.7h0M226.2 399.0h0M229.1 484.3h0M304.3 454.3h0M217.5 460.2h0M209.4 425.8h0M275.3 438.0h0M239.6 459.6h0M219.9 391.0h0M212.6 450.1h0M232.4 446.4h0M303.7 444.4h0M281.1 469.4h0M216.1 458.1h0M246.3 418.4h0M278.8 428.5h0" stroke="#ea88a8" stroke-opacity="0.135" stroke-width="2.8" stroke-linecap="round" fill="none"/>
<path d="M485.1 227.3h0M506.3 232.4h0M581.1 228.7h0M522.3 228.2h0M508.7 243.8h0M521.3 268.5h0M520.1 219.4h0M575.0 203.6h0M583.8 224.3h0M549.6 216.5h0M476.4 256.9h0M566.7 233.1h0M588.5 219.0h0M493.9 236.6h0M572.1 206.5h0M550.8 223.7h0M506.6 236.9h0M486.3 235.5h0M601.0 229.2h0M551.4 224.6h0M488.7 217.6h0M548.8 217.5h0M506.9 239.9h0M490.6 232.1h0M552.8 226.8h0M521.5 219.2h0M516.9 208.6h0M588.1 238.5h0M491.6 244.2h0M497.3 226.5h0M509.6 246.6h0M536.6 242.9h0M562.4 232.0h0M499.7 228.6h0M508.8 232.3h0M541.3 213.5h0M527.2 243.6h0M499.4 253.8h0M532.8 210.1h0M521.8 221.4h0M574.5 220.7h0M519.5 253.0h0M556.2 222.4h0M522.5 244.7h0M579.3 238.9h0M498.8 233.1h0M504.6 258.8h0M555.8 223.0h0M545.0 212.6h0M503.6 238.6h0M508.3 246.3h0M524.6 208.9h0M528.1 222.7h0M484.6 194.3h0M610.0 223.7h0M490.6 225.4h0M502.1 245.0h0M545.2 206.8h0M549.6 219.8h0M586.5 227.1h0M537.4 209.9h0M494.7 244.9h0M587.4 224.5h0M482.7 244.4h0M567.4 215.4h0M507.3 229.3h0M545.3 243.1h0M556.2 209.8h0M487.5 247.4h0M490.8 233.6h0M528.0 236.8h0M540.6 237.3h0M517.0 228.0h0M596.9 226.7h0M503.8 205.6h0M555.2 220.7h0M511.1 249.0h0M525.0 260.9h0M546.1 239.7h0M478.2 227.9h0M584.4 216.9h0M563.9 223.0h0M577.9 218.3h0M563.5 234.7h0M511.7 234.9h0M507.4 259.7h0M519.0 242.4h0M523.3 250.5h0M531.2 218.3h0M498.0 223.3h0M514.4 236.2h0M513.5 244.1h0" stroke="#e07878" stroke-opacity="0.055" stroke-width="2.7" stroke-linecap="round" fill="none"/>
<path d="M484.1 232.9h0M530.7 215.6h0M529.1 230.2h0M504.5 233.1h0M541.0 214.7h0M509.0 244.7h0M475.7 220.7h0M566.6 222.1h0M508.0 223.8h0M498.1 224.3h0M602.9 224.4h0M480.3 235.2h0M482.7 240.9h0M514.9 243.2h0M573.1 227.7h0M500.5 245.5h0M506.8 235.2h0M553.6 211.1h0M592.6 215.8h0M523.0 222.1h0M555.4 230.6h0M487.4 239.8h0M553.1 216.2h0M509.8 210.6h0M559.1 216.1h0M484.0 260.9h0M595.8 222.8h0M519.2 234.9h0M558.2 234.2h0M536.4 222.1h0M505.9 229.7h0M536.1 218.1h0M589.1 209.3h0M482.7 206.8h0M489.4 208.3h0M601.6 221.5h0M555.5 231.6h0M491.4 228.8h0M536.0 265.9h0M518.1 235.9h0M568.5 226.4h0M558.0 226.7h0M576.7 233.4h0M520.0 262.1h0M501.3 248.9h0M522.9 236.8h0M521.1 241.4h0M500.1 221.6h0M490.8 243.7h0M505.4 253.5h0M510.1 226.2h0M503.9 209.6h0M512.2 236.2h0M499.7 255.5h0M574.7 210.4h0M503.3 237.3h0M501.4 233.6h0M570.0 219.5h0M594.8 217.2h0M591.4 228.4h0M556.0 229.9h0M556.2 229.7h0M602.9 226.5h0M576.7 218.5h0M554.5 223.7h0M488.1 228.8h0M499.4 244.0h0M555.6 236.6h0M553.1 233.0h0M522.4 244.2h0M531.5 226.6h0M529.6 227.8h0M553.3 192.8h0M509.9 250.0h0M496.5 250.1h0M556.8 209.7h0M480.6 224.4h0M542.3 230.5h0M511.0 250.0h0M507.5 243.7h0M520.0 233.5h0M518.3 233.6h0M556.7 251.3h0M481.7 203.1h0M585.6 211.8h0M595.6 221.1h0M514.7 198.4h0M476.0 247.6h0M544.4 230.4h0M495.4 241.0h0M556.5 205.4h0M525.4 209.9h0" stroke="#e07878" stroke-opacity="0.055" stroke-width="2.7" stroke-linecap="round" fill="none"/>
<path d="M485.1 216.8h0M494.8 214.0h0M534.0 226.4h0M588.7 237.3h0M558.2 218.5h0M581.1 216.5h0M552.9 261.9h0M587.3 217.9h0M560.7 222.9h0M583.0 222.4h0M502.6 203.4h0M540.4 193.6h0M572.1 234.2h0M512.1 228.1h0M532.0 235.7h0M525.5 204.4h0M521.5 227.4h0M486.0 194.9h0M575.9 215.4h0M483.8 213.3h0M554.7 214.1h0M578.0 236.0h0M579.5 216.5h0M511.4 227.9h0M544.1 224.9h0M551.0 223.2h0M483.5 230.9h0M578.1 228.8h0M602.7 223.1h0M511.9 232.7h0M544.2 232.2h0M501.5 241.8h0M566.1 214.2h0M517.3 237.1h0M494.5 197.9h0M580.5 236.5h0M460.9 261.6h0M507.5 223.7h0M503.7 236.9h0M582.8 231.3h0M510.6 224.2h0M494.2 230.1h0M529.9 229.6h0M498.0 247.8h0M505.0 224.3h0M506.9 252.4h0M525.3 246.6h0M497.5 231.4h0M495.6 239.1h0M519.8 239.8h0M498.3 237.0h0M521.0 241.5h0M496.4 237.7h0M507.1 239.4h0M495.8 206.3h0M475.4 228.0h0M540.5 220.8h0M510.0 235.5h0M474.4 244.3h0M520.2 226.6h0M510.8 236.0h0M520.4 252.9h0M482.3 238.6h0M523.6 257.9h0M509.5 245.5h0M557.0 217.1h0M555.2 212.9h0M488.7 235.7h0M524.2 230.9h0M517.5 237.0h0M555.8 213.9h0M503.7 232.0h0M530.3 239.9h0M534.8 214.3h0M588.8 225.6h0M470.4 257.5h0M573.4 207.2h0M545.6 208.0h0M494.7 206.8h0M484.7 203.4h0M508.2 238.2h0M505.5 251.1h0M546.0 227.4h0M605.7 230.3h0M551.2 222.3h0M527.6 238.3h0M495.5 215.8h0M587.2 234.2h0M455.8 214.4h0M510.6 232.9h0M600.8 222.3h0M492.0 239.1h0" stroke="#e07878" stroke-opacity="0.055" stroke-width="2.7" stroke-linecap="round" fill="none"/>
<path d="M552.2 224.7h0M481.1 221.9h0M570.8 231.6h0M482.3 254.7h0M537.3 205.7h0M507.9 215.5h0M466.9 226.0h0M519.8 233.8h0M532.6 219.8h0M504.9 245.3h0M497.9 219.8h0M560.3 222.8h0M505.4 254.0h0M559.2 222.9h0M480.8 252.9h0M508.5 234.6h0M518.0 220.2h0M504.9 223.7h0M474.3 241.9h0M540.2 226.1h0M501.2 232.6h0M490.2 256.5h0M503.9 246.9h0M525.0 229.0h0M565.6 214.8h0M498.1 214.9h0M512.1 233.2h0M523.9 247.4h0M486.8 249.3h0M504.8 208.7h0M458.2 265.7h0M522.1 225.3h0M492.9 246.8h0M524.2 224.9h0M579.8 204.7h0M574.8 220.9h0M493.6 251.4h0M525.8 259.5h0M542.3 243.0h0M548.6 228.4h0M524.5 243.9h0M500.2 224.8h0M577.9 231.6h0M509.1 251.2h0M527.4 232.6h0M545.6 213.7h0M509.8 238.6h0M555.1 232.0h0M531.6 234.9h0M487.9 225.8h0M510.1 235.7h0M499.2 212.5h0M566.6 212.2h0M499.8 232.1h0M544.6 235.9h0M588.3 215.4h0M487.0 245.8h0M536.1 216.5h0M500.7 238.3h0M490.6 233.8h0M481.5 248.3h0M547.9 216.2h0M492.2 220.7h0M585.6 209.7h0M494.5 263.5h0M496.5 252.9h0M535.5 209.3h0M595.7 218.8h0M510.9 225.6h0M549.9 209.3h0M559.6 222.5h0M526.0 220.1h0M476.8 230.2h0M522.3 204.1h0M557.0 231.8h0M472.6 254.6h0M492.9 252.1h0M467.4 253.1h0M481.3 224.9h0M500.8 235.3h0M533.2 241.9h0M490.0 236.4h0M559.6 224.2h0M601.0 207.8h0M582.8 225.2h0M562.7 225.5h0M500.7 255.0h0M523.1 227.1h0M527.4 230.5h0M512.3 227.3h0M546.7 223.1h0M518.1 197.4h0" stroke="#e07878" stroke-opacity="0.055" stroke-width="2.7" stroke-linecap="round" fill="none"/>
<path d="M510.3 227.1h0M491.3 232.6h0M497.9 223.2h0M574.3 232.3h0M544.7 210.4h0M497.6 220.4h0M511.8 196.5h0M499.7 254.0h0M588.3 234.2h0M505.9 237.9h0M594.1 234.1h0M551.1 227.5h0M512.7 229.9h0M504.4 224.3h0M605.2 233.7h0M511.7 214.5h0M494.1 240.5h0M532.0 241.5h0M554.2 221.2h0M539.5 231.6h0M498.6 258.9h0M512.1 236.4h0M521.0 245.0h0M526.9 226.0h0M479.1 230.4h0M555.0 252.4h0M516.3 240.3h0M519.2 227.5h0M478.6 250.5h0M539.9 225.5h0M579.7 235.1h0M548.2 224.1h0M550.8 232.1h0M548.0 218.6h0M509.1 241.5h0M494.5 251.7h0M537.7 228.3h0M513.1 241.6h0M554.0 212.8h0M528.4 256.6h0M481.7 239.6h0M595.8 236.8h0M509.9 260.6h0M507.4 202.9h0M502.6 197.3h0M584.7 237.0h0M557.4 202.1h0M590.0 218.7h0M489.2 230.0h0M523.7 254.7h0M516.2 262.1h0M475.1 215.3h0M486.0 226.5h0M501.3 236.2h0M504.0 241.2h0M529.1 245.4h0M601.8 228.9h0M536.9 239.6h0M540.1 235.2h0M577.1 234.0h0M493.5 241.7h0M492.3 233.0h0M572.4 230.9h0M545.8 206.1h0M518.2 232.1h0M592.9 220.2h0M590.2 215.2h0M554.4 238.7h0M564.0 233.6h0M583.0 211.2h0M596.1 226.1h0M564.1 232.3h0M522.4 231.4h0M524.4 247.2h0M524.7 244.0h0M526.8 235.6h0M541.5 196.8h0M542.0 234.3h0M588.5 225.8h0M493.7 224.6h0M542.0 236.5h0M575.4 213.8h0M495.5 235.6h0M495.3 223.3h0M517.9 222.0h0M579.1 223.0h0M488.8 235.0h0M549.2 215.6h0M513.1 221.7h0M544.9 218.8h0M486.9 242.3h0M592.2 227.7h0" stroke="#e07878" stroke-opacity="0.055" stroke-width="2.7" stroke-linecap="round" fill="none"/>
<path d="M648.5 238.2h0M644.5 268.1h0M629.7 224.2h0M623.2 233.0h0M684.2 199.7h0M659.7 245.6h0M666.9 235.6h0M656.6 229.1h0M683.9 197.7h0M697.5 199.4h0M698.4 194.9h0M679.9 205.7h0M675.4 220.3h0M665.7 231.2h0M692.9 199.7h0M670.9 232.8h0M628.5 214.1h0M683.7 203.4h0M682.5 197.3h0M658.9 249.0h0M681.2 214.8h0M634.5 262.9h0M662.7 254.1h0M638.2 211.6h0M635.8 276.0h0M667.2 248.5h0M686.8 206.0h0M683.6 197.8h0M678.5 214.9h0M634.2 264.4h0M636.7 256.0h0M687.5 205.7h0M661.8 253.9h0M654.4 226.8h0M629.0 272.3h0M687.4 201.8h0M643.7 279.4h0M646.8 245.0h0M625.2 236.0h0M660.5 243.9h0M644.2 272.1h0M639.2 255.1h0M682.9 199.1h0M642.1 247.4h0M682.3 206.6h0M694.4 202.1h0M625.2 239.5h0M637.8 263.8h0M635.8 270.7h0M684.0 201.1h0M699.6 209.1h0M650.5 243.0h0M638.8 232.2h0M697.7 202.4h0M632.4 264.4h0M688.8 195.5h0M645.9 254.5h0M656.4 252.4h0M658.1 250.5h0M668.7 230.6h0M684.0 198.5h0M631.4 265.9h0M683.9 201.6h0M680.8 201.5h0M638.6 271.6h0M673.8 227.4h0M637.3 216.3h0M663.6 254.3h0M655.3 219.7h0M648.4 212.5h0M643.1 261.1h0M692.6 193.0h0M651.6 249.9h0M671.1 235.6h0M621.9 241.4h0M646.2 267.8h0M638.3 275.1h0M666.0 241.3h0M640.5 271.7h0M638.4 265.0h0M664.1 247.2h0M683.5 214.4h0M693.6 209.9h0M702.6 201.5h0M669.9 227.9h0M634.7 277.1h0M652.2 262.4h0" stroke="#9a9cd8" stroke-opacity="0.1" stroke-width="2.7" stroke-linecap="round" fill="none"/>
<path d="M665.6 230.5h0M674.8 197.8h0M647.9 225.5h0M638.9 263.9h0M628.4 244.0h0M681.3 202.6h0M640.2 216.6h0M674.5 214.7h0M674.0 218.9h0M654.5 259.2h0M689.9 189.6h0M645.5 211.9h0M680.4 195.1h0M698.6 202.3h0M635.8 242.6h0M646.5 249.8h0M672.9 228.6h0M634.7 266.5h0M685.3 208.8h0M644.4 237.8h0M657.4 234.5h0M675.0 204.1h0M683.9 200.0h0M691.0 202.4h0M670.8 236.0h0M628.7 270.2h0M677.2 209.1h0M688.5 207.1h0M700.7 206.5h0M691.2 193.3h0M634.8 267.1h0M633.2 276.0h0M683.0 210.6h0M677.5 215.0h0M640.2 270.7h0M667.2 219.4h0M667.3 249.4h0M685.1 198.9h0M683.7 208.5h0M637.8 268.1h0M633.3 214.4h0M632.6 280.1h0M625.3 230.9h0M619.0 248.5h0M658.5 246.8h0M644.4 275.4h0M656.9 236.2h0M686.6 195.5h0M685.2 195.5h0M670.7 243.9h0M668.0 235.9h0M684.1 194.7h0M687.3 199.5h0M672.9 229.7h0M691.5 195.4h0M689.9 195.0h0M652.4 223.9h0M637.5 268.8h0M681.3 221.4h0M686.8 196.8h0M639.7 242.0h0M685.0 198.0h0M621.0 237.9h0M671.2 227.7h0M641.6 222.6h0M634.1 267.7h0M684.6 194.2h0M680.9 206.9h0M687.4 203.0h0M690.3 205.3h0M650.7 224.1h0M701.4 200.6h0M644.4 238.8h0M689.0 196.9h0M637.4 267.3h0M674.7 214.3h0M670.0 223.8h0M686.7 198.4h0M676.7 204.5h0M663.7 223.6h0M684.0 199.4h0M616.2 240.6h0M653.2 257.5h0M682.5 204.9h0M668.9 247.7h0M649.3 232.5h0M637.7 259.2h0" stroke="#9a9cd8" stroke-opacity="0.1" stroke-width="2.7" stroke-linecap="round" fill="none"/>
<path d="M675.7 213.1h0M680.1 209.1h0M683.8 200.1h0M666.5 240.5h0M680.7 204.6h0M642.2 262.6h0M689.7 190.0h0M683.0 207.7h0M651.3 239.8h0M650.6 265.2h0M633.1 264.2h0M625.8 220.6h0M687.2 196.4h0M641.8 270.5h0M653.0 267.3h0M645.7 270.3h0M653.0 251.7h0M680.1 216.3h0M626.3 228.3h0M650.4 258.0h0M673.0 196.6h0M689.5 186.8h0M665.7 240.4h0M647.1 271.6h0M639.5 231.7h0M688.5 197.8h0M672.2 221.4h0M676.1 196.5h0M684.4 204.4h0M690.5 201.3h0M636.6 250.9h0M676.9 199.5h0M633.0 269.1h0M645.8 271.7h0M635.5 262.8h0M685.9 200.2h0M674.2 232.7h0M672.1 192.8h0M630.9 242.6h0M662.1 230.0h0M643.9 232.3h0M621.9 238.7h0M684.9 198.0h0M684.8 198.4h0M667.9 225.9h0M635.4 271.4h0M675.5 206.6h0M682.0 193.9h0M644.4 219.6h0M649.9 269.9h0M623.5 246.4h0M682.7 197.8h0M635.1 262.4h0M684.5 211.1h0M631.4 260.8h0M668.5 242.9h0M635.6 273.9h0M683.5 199.8h0M648.1 269.7h0M688.2 207.2h0M689.1 203.2h0M632.5 248.9h0M659.0 248.8h0M677.3 198.3h0M635.2 259.9h0M676.8 217.1h0M640.1 280.5h0M645.1 240.1h0M668.2 253.7h0M638.8 263.8h0M640.3 273.8h0M674.3 223.5h0M681.9 214.5h0M645.6 220.8h0M662.4 232.7h0M683.0 195.5h0M672.5 213.7h0M691.3 200.0h0M680.7 224.8h0M681.9 211.3h0M682.3 205.6h0M631.9 213.3h0M628.7 225.4h0M691.8 192.8h0M676.4 198.0h0M645.3 267.9h0M681.9 205.3h0" stroke="#9a9cd8" stroke-opacity="0.1" stroke-width="2.7" stroke-linecap="round" fill="none"/>
<path d="M629.0 212.6h0M671.1 229.9h0M680.6 200.2h0M673.3 213.9h0M684.8 211.1h0M662.5 253.6h0M689.0 197.4h0M625.7 239.4h0M642.8 241.6h0M633.9 240.5h0M630.4 268.8h0M671.1 218.3h0M666.4 243.3h0M641.7 270.6h0M637.8 250.2h0M642.7 213.3h0M625.0 209.3h0M640.9 265.8h0M631.3 207.7h0M663.8 237.9h0M639.3 244.0h0M684.2 198.5h0M633.0 242.4h0M692.6 205.4h0M687.1 194.6h0M638.3 230.5h0M672.8 220.9h0M681.3 208.5h0M668.4 192.7h0M661.2 255.3h0M633.8 265.6h0M686.3 198.9h0M681.8 198.5h0M682.1 189.0h0M619.9 234.7h0M671.1 225.0h0M699.9 209.1h0M680.9 207.3h0M671.2 238.7h0M668.3 243.1h0M672.2 241.4h0M695.7 199.0h0M685.5 202.5h0M682.5 201.8h0M694.6 197.6h0M643.4 236.6h0M660.3 257.1h0M634.4 239.7h0M672.7 217.2h0M693.0 197.2h0M663.5 251.7h0M698.3 209.8h0M699.8 192.5h0M669.6 243.4h0M672.8 223.1h0M638.4 238.4h0M646.2 223.8h0M687.1 196.8h0M673.8 225.8h0M642.5 252.2h0M632.0 210.4h0M644.0 215.5h0M629.4 237.5h0M640.5 272.8h0M696.3 200.0h0M699.1 190.9h0M648.7 269.1h0M673.6 225.2h0M680.7 224.1h0M665.6 238.6h0M665.1 252.6h0M689.1 195.0h0M677.5 212.6h0M646.5 242.3h0M631.6 261.9h0M641.9 242.7h0M653.1 238.8h0M686.1 207.5h0M659.3 254.5h0M618.4 229.4h0M635.8 251.6h0M695.1 197.1h0M635.5 243.3h0M668.8 219.5h0M682.3 213.3h0M689.7 200.7h0M689.1 204.7h0" stroke="#9a9cd8" stroke-opacity="0.1" stroke-width="2.7" stroke-linecap="round" fill="none"/>
<path d="M656.8 223.5h0M661.6 252.3h0M689.3 204.4h0M627.9 221.7h0M625.6 258.6h0M637.4 271.2h0M696.7 197.9h0M640.5 270.3h0M688.7 196.2h0M640.1 260.6h0M651.2 263.8h0M685.6 202.9h0M687.3 201.5h0M627.0 227.4h0M687.2 203.4h0M681.0 227.3h0M634.7 266.8h0M629.5 231.4h0M684.4 204.8h0M635.7 263.8h0M632.5 265.7h0M676.2 213.9h0M681.2 218.5h0M644.4 263.1h0M689.3 200.5h0M686.8 204.6h0M691.1 198.2h0M635.6 243.2h0M691.0 203.3h0M699.1 196.7h0M647.8 242.8h0M635.9 210.8h0M637.9 270.5h0M661.2 255.5h0M693.0 199.8h0M651.4 256.3h0M675.3 220.7h0M645.9 265.9h0M636.0 241.6h0M668.6 234.1h0M658.7 259.0h0M679.7 208.3h0M655.9 221.4h0M675.7 224.7h0M631.0 239.7h0M651.7 218.9h0M684.1 196.0h0M672.0 242.8h0M670.0 217.2h0M653.9 259.9h0M693.9 197.2h0M657.9 245.8h0M690.7 197.8h0M669.0 241.0h0M660.1 238.3h0M646.6 267.2h0M669.3 246.9h0M656.8 258.2h0M642.6 215.3h0M681.6 201.4h0M696.9 199.6h0M688.3 206.1h0M680.5 207.0h0M642.7 262.6h0M697.1 199.9h0M699.0 201.3h0M622.7 240.9h0M631.7 214.8h0M699.4 204.7h0M677.8 203.4h0M639.6 241.4h0M635.3 264.5h0M643.9 276.9h0M654.2 260.1h0M627.6 238.1h0M652.8 261.8h0M698.8 192.7h0M684.4 208.1h0M656.7 265.3h0M670.1 215.9h0M683.0 204.1h0M668.0 237.8h0M677.5 215.9h0M697.3 200.7h0M675.5 237.7h0M624.8 270.1h0M645.3 243.5h0" stroke="#9a9cd8" stroke-opacity="0.1" stroke-width="2.7" stroke-linecap="round" fill="none"/>
<path d="M733.6 122.3h0M800.7 111.5h0M822.8 107.4h0M757.7 101.0h0M760.3 114.1h0M758.1 104.9h0M740.4 113.9h0M741.4 110.5h0M823.2 104.2h0M746.3 131.8h0M773.9 109.4h0M723.6 102.7h0M769.2 115.2h0M780.7 128.6h0M745.6 97.4h0M746.0 103.8h0M802.8 131.1h0M745.4 96.7h0M733.2 111.8h0M744.9 98.7h0M748.3 95.9h0M774.4 121.1h0M756.1 109.0h0M742.3 125.5h0M750.7 99.8h0M770.0 104.0h0M753.4 103.7h0M732.4 98.2h0M772.3 108.9h0M723.7 107.3h0M734.6 103.5h0M748.5 96.1h0M756.4 121.9h0M748.7 102.4h0M778.1 109.6h0M762.5 94.5h0M756.0 117.6h0M738.4 99.9h0M770.5 93.4h0M753.2 101.2h0M750.0 98.8h0M742.2 124.3h0M757.1 115.8h0M736.4 99.4h0M758.2 119.7h0M770.2 110.8h0M789.7 100.1h0M732.8 128.8h0M752.1 101.8h0M758.6 95.0h0M782.0 121.3h0M746.2 99.1h0M746.6 110.9h0M775.0 110.5h0M748.0 103.0h0M736.8 96.2h0M750.9 93.9h0M750.7 131.1h0M755.5 116.3h0M791.0 131.5h0" stroke="#8c9c74" stroke-opacity="0.085" stroke-width="2.6" stroke-linecap="round" fill="none"/>
<path d="M781.7 121.1h0M742.0 113.4h0M744.2 99.8h0M811.8 124.4h0M741.5 106.3h0M763.1 107.4h0M735.5 96.5h0M754.7 102.8h0M817.1 94.2h0M733.9 105.9h0M766.4 120.3h0M745.0 111.8h0M736.8 97.2h0M754.5 100.2h0M781.8 97.8h0M828.0 115.1h0M769.9 98.7h0M732.5 112.5h0M807.0 126.9h0M750.3 118.3h0M750.8 114.1h0M744.7 95.4h0M736.4 125.3h0M756.5 130.1h0M757.9 105.6h0M729.2 109.6h0M761.9 133.4h0M781.2 109.2h0M763.8 113.7h0M761.8 103.9h0M754.3 119.6h0M763.1 93.0h0M755.6 118.0h0M742.5 117.4h0M770.6 99.7h0M757.2 99.1h0M774.0 106.3h0M751.0 104.9h0M744.5 106.0h0M775.8 110.8h0M745.8 105.0h0M825.6 111.1h0M808.2 97.5h0M791.9 93.5h0M747.9 105.6h0M759.0 110.3h0M768.9 106.9h0M792.0 96.3h0M733.9 108.9h0M759.7 101.4h0M738.5 112.2h0M757.1 101.1h0M733.6 99.4h0M752.1 105.0h0M774.3 125.1h0M734.1 98.7h0M772.4 124.5h0M821.8 121.4h0M727.4 97.4h0M753.1 95.9h0" stroke="#8c9c74" stroke-opacity="0.085" stroke-width="2.6" stroke-linecap="round" fill="none"/>
<path d="M770.3 107.2h0M738.6 101.5h0M762.9 101.3h0M735.2 98.7h0M738.0 97.2h0M745.7 99.4h0M771.1 101.2h0M740.6 105.1h0M748.3 113.5h0M764.5 108.2h0M733.9 110.2h0M753.7 110.4h0M791.6 101.0h0M772.4 103.9h0M815.1 120.5h0M813.6 129.5h0M746.4 128.5h0M810.3 93.6h0M739.4 121.1h0M741.0 102.0h0M736.3 135.1h0M747.8 128.0h0M729.6 108.1h0M797.0 108.2h0M746.8 106.2h0M731.9 115.3h0M755.4 109.7h0M812.8 125.3h0M734.0 96.2h0M768.2 95.3h0M815.3 118.6h0M819.3 117.0h0M768.6 106.0h0M755.5 135.1h0M744.2 109.5h0M739.9 104.7h0M770.8 109.0h0M752.7 134.9h0M772.4 114.7h0M753.7 107.1h0M796.3 106.4h0M760.3 111.6h0M735.2 113.9h0M773.9 108.6h0M752.5 109.2h0M759.3 112.0h0M731.4 112.5h0M767.3 108.2h0M739.9 126.6h0M752.7 93.8h0M753.0 134.6h0M743.2 103.5h0M783.6 114.2h0M744.0 99.1h0M823.0 110.1h0M742.9 117.3h0M747.5 103.0h0M751.2 106.3h0M747.5 89.7h0M775.5 96.2h0" stroke="#8c9c74" stroke-opacity="0.085" stroke-width="2.6" stroke-linecap="round" fill="none"/>
<path d="M774.4 114.3h0M788.5 121.6h0M740.0 88.5h0M823.6 95.4h0M788.4 123.5h0M737.3 131.0h0M761.5 109.5h0M754.6 88.7h0M767.6 103.7h0M744.3 90.2h0M750.1 117.1h0M728.4 102.0h0M740.3 118.0h0M738.3 105.1h0M827.9 108.0h0M746.9 104.1h0M785.6 92.8h0M759.4 115.8h0M740.5 117.0h0M767.5 104.0h0M763.0 129.1h0M752.3 103.8h0M746.6 98.0h0M758.6 111.2h0M754.7 101.6h0M743.1 106.3h0M776.0 113.1h0M761.5 103.7h0M816.9 107.4h0M746.7 100.2h0M729.7 124.6h0M735.6 124.8h0M762.7 90.9h0M764.0 108.0h0M737.3 108.6h0M744.8 110.0h0M739.3 102.0h0M738.8 107.1h0M748.2 94.2h0M748.7 119.4h0M727.8 99.1h0M802.7 106.4h0M741.2 125.7h0M741.1 99.5h0M763.1 127.4h0M762.4 122.1h0M774.5 105.1h0M742.1 120.9h0M746.6 97.1h0M744.2 107.4h0M736.1 96.5h0M819.2 95.9h0M739.7 106.6h0M749.0 93.7h0M794.5 119.4h0M806.1 116.3h0M745.5 128.8h0M812.8 104.8h0M762.8 106.7h0M776.4 99.7h0" stroke="#8c9c74" stroke-opacity="0.085" stroke-width="2.6" stroke-linecap="round" fill="none"/>
<path d="M737.0 105.0h0M768.0 95.5h0M760.5 108.1h0M750.0 95.1h0M734.4 119.7h0M801.6 118.4h0M746.3 97.3h0M754.7 91.8h0M771.2 104.7h0M760.5 116.7h0M776.9 107.6h0M751.1 104.5h0M748.9 123.9h0M745.5 104.4h0M754.0 106.3h0M805.4 122.5h0M780.2 113.7h0M784.8 94.4h0M763.2 92.3h0M770.1 95.5h0M753.8 130.5h0M736.7 105.8h0M738.8 112.5h0M792.3 115.4h0M755.6 100.6h0M729.0 101.5h0M751.9 106.0h0M788.8 126.7h0M748.1 99.0h0M752.6 100.8h0M796.0 116.0h0M740.9 132.1h0M796.0 98.0h0M750.4 98.8h0M805.4 115.1h0M762.1 122.7h0M758.1 120.7h0M757.1 101.4h0M745.7 108.9h0M791.9 115.3h0M751.3 105.8h0M748.5 108.3h0M748.5 93.5h0M738.4 102.8h0M736.7 107.7h0M761.6 110.8h0M758.6 121.8h0M790.9 124.1h0M755.0 137.3h0M813.9 115.5h0M793.0 95.7h0M806.9 112.7h0M811.3 101.5h0M736.8 131.7h0M754.7 96.5h0M775.9 120.5h0M746.7 91.0h0M758.5 101.1h0M746.4 105.2h0M824.7 122.9h0" stroke="#8c9c74" stroke-opacity="0.085" stroke-width="2.6" stroke-linecap="round" fill="none"/>
<path d="M858.1 93.8h0M855.9 77.0h0M882.1 85.5h0M874.9 79.8h0M930.1 75.4h0M925.8 95.8h0M940.8 90.4h0M918.2 91.7h0M919.7 91.5h0M896.2 76.0h0M903.5 70.9h0M922.5 91.5h0M929.0 79.1h0M858.2 76.5h0M907.1 84.6h0M888.0 83.1h0M903.9 75.9h0M870.0 93.9h0M894.1 89.2h0M889.9 87.6h0M897.4 77.5h0M914.7 108.1h0M905.3 90.0h0M915.2 86.3h0M865.7 93.8h0M894.5 65.0h0M916.4 106.9h0M913.0 74.9h0M903.4 103.1h0M912.6 83.6h0M925.7 94.9h0M917.1 77.6h0M897.2 80.8h0M891.7 90.5h0M909.3 83.2h0M872.0 79.4h0M931.2 87.8h0M929.3 80.2h0M916.1 81.2h0M888.1 70.8h0M921.7 73.6h0M860.7 104.5h0M915.5 83.1h0M901.3 77.8h0M884.9 84.7h0M911.8 91.8h0M900.4 79.2h0M933.7 96.1h0M883.4 73.0h0M896.6 89.7h0M905.3 81.3h0M849.5 82.0h0M922.4 89.5h0M882.5 87.3h0M939.3 102.6h0M898.3 71.7h0M915.8 102.4h0M903.5 89.0h0M862.7 69.8h0M935.2 84.9h0M844.7 101.7h0M919.7 90.7h0M896.9 79.0h0M876.6 78.6h0M931.6 96.7h0M926.7 95.8h0M902.1 85.8h0M851.7 105.8h0M860.8 102.9h0M891.2 78.2h0M904.3 75.2h0M885.8 74.6h0M873.2 110.1h0M906.1 66.3h0M913.9 105.3h0M914.2 88.5h0M907.9 87.3h0M908.6 83.4h0M917.7 73.2h0M926.5 97.2h0M912.7 88.8h0M918.0 78.6h0M901.1 82.4h0M915.3 79.0h0M920.9 88.2h0M854.3 94.2h0M914.5 92.9h0M956.7 95.1h0M921.7 77.9h0M936.8 94.0h0M885.5 77.9h0M891.9 86.5h0M921.2 83.4h0M869.4 78.7h0M901.9 82.4h0M932.4 104.4h0M901.8 77.8h0M925.7 89.0h0M894.4 80.1h0M940.9 86.9h0M916.0 89.3h0M854.2 89.3h0M911.5 92.0h0M923.0 92.0h0M897.5 86.1h0M929.0 84.6h0M859.6 100.5h0M870.5 80.0h0M897.4 85.6h0M910.2 81.8h0M921.3 87.1h0M870.6 71.2h0M866.6 84.5h0M893.9 81.6h0M911.2 63.7h0M886.7 110.3h0M916.8 94.1h0M924.5 77.3h0M883.6 94.4h0M884.8 68.6h0M942.5 88.4h0M915.1 78.9h0M896.2 72.9h0M930.9 88.3h0M889.4 84.1h0M910.7 77.6h0M884.0 88.1h0M907.7 74.0h0M860.3 93.8h0M898.6 69.1h0" stroke="#7fbd55" stroke-opacity="0.135" stroke-width="2.7" stroke-linecap="round" fill="none"/>
<path d="M871.2 105.0h0M876.7 96.9h0M908.6 86.8h0M851.2 107.1h0M892.9 83.5h0M930.9 86.9h0M926.9 94.1h0M907.1 82.6h0M905.4 82.9h0M912.1 97.0h0M926.0 102.6h0M916.4 85.0h0M919.9 105.6h0M926.9 105.5h0M902.5 82.0h0M894.5 81.8h0M908.1 66.8h0M903.6 96.0h0M939.3 95.7h0M921.4 86.2h0M855.6 96.1h0M926.4 91.2h0M888.9 79.4h0M889.8 77.4h0M923.6 86.7h0M907.9 78.7h0M894.7 92.0h0M860.7 99.2h0M909.7 78.1h0M894.8 81.4h0M917.2 83.3h0M901.0 80.2h0M888.2 82.7h0M875.1 72.6h0M896.1 75.5h0M901.1 111.7h0M920.1 82.5h0M913.4 90.7h0M879.8 76.5h0M899.1 88.7h0M915.4 104.6h0M936.0 88.0h0M903.9 88.6h0M926.8 82.0h0M871.1 80.7h0M855.1 80.8h0M936.3 85.0h0M921.5 83.4h0M899.3 100.4h0M872.1 84.3h0M878.8 77.5h0M912.5 85.9h0M913.0 96.4h0M932.0 93.6h0M880.6 73.3h0M846.5 74.4h0M929.8 80.0h0M858.0 92.9h0M861.2 93.6h0M946.6 90.1h0M899.6 86.3h0M872.0 86.4h0M918.4 89.4h0M909.1 93.7h0M845.7 108.6h0M925.5 97.3h0M888.6 82.6h0M906.4 86.4h0M932.9 81.1h0M938.7 97.4h0M883.3 76.8h0M842.8 97.8h0M889.0 77.2h0M884.0 81.2h0M873.4 86.6h0M897.4 77.8h0M885.8 81.6h0M912.9 80.2h0M932.7 91.9h0M907.0 83.9h0M877.8 83.7h0M929.2 73.9h0M905.9 80.2h0M905.0 87.0h0M924.2 98.7h0M899.9 80.7h0M940.9 90.8h0M848.8 72.5h0M926.2 85.0h0M853.2 110.3h0M926.3 95.5h0M915.6 89.0h0M908.0 82.8h0M901.6 83.7h0M878.2 76.4h0M869.2 74.7h0M911.1 94.6h0M880.8 76.7h0M912.7 78.7h0M909.4 85.5h0M886.9 84.2h0M892.5 79.7h0M937.3 90.5h0M897.3 82.2h0M904.9 79.8h0M894.2 90.0h0M932.3 82.1h0M909.4 69.7h0M909.2 87.5h0M900.7 76.1h0M898.0 85.2h0M881.3 65.3h0M907.0 88.0h0M911.5 91.3h0M896.2 86.0h0M892.1 84.9h0M872.5 97.8h0M931.8 80.6h0M876.7 88.1h0M914.7 72.0h0M896.6 84.5h0M861.0 100.4h0M928.4 93.7h0M926.4 83.7h0M894.3 83.6h0M922.8 88.8h0M888.4 93.3h0M911.7 79.5h0M911.8 83.5h0M916.5 93.5h0" stroke="#7fbd55" stroke-opacity="0.135" stroke-width="2.7" stroke-linecap="round" fill="none"/>
<path d="M901.5 78.5h0M920.1 104.0h0M914.9 83.7h0M910.5 85.7h0M917.3 81.0h0M880.5 72.0h0M891.6 69.6h0M898.6 86.0h0M899.8 74.3h0M851.1 89.3h0M908.7 81.6h0M944.7 96.1h0M843.4 103.9h0M923.5 87.5h0M917.6 86.2h0M921.8 79.1h0M915.6 83.6h0M906.9 98.7h0M854.0 93.5h0M936.2 84.6h0M905.5 80.4h0M889.7 73.9h0M917.2 89.2h0M910.5 81.0h0M938.2 107.2h0M862.0 99.2h0M915.8 108.3h0M921.2 82.1h0M895.8 71.9h0M864.8 75.5h0M859.6 101.7h0M907.3 90.7h0M910.0 93.0h0M953.6 100.5h0M907.7 76.2h0M899.0 110.6h0M893.1 79.7h0M917.9 89.1h0M861.8 82.9h0M855.3 99.2h0M857.4 93.9h0M953.2 102.8h0M902.8 79.2h0M893.5 77.9h0M904.3 82.8h0M891.5 85.9h0M899.3 78.4h0M904.4 74.8h0M894.7 66.4h0M933.0 101.7h0M873.6 90.8h0M928.9 88.7h0M917.4 81.5h0M848.2 92.1h0M909.7 100.4h0M882.5 86.7h0M894.1 82.5h0M916.1 79.3h0M932.5 93.4h0M913.0 93.8h0M882.2 86.3h0M936.2 98.2h0M862.9 94.3h0M920.8 86.8h0M913.8 78.3h0M862.3 98.0h0M855.6 105.9h0M952.4 88.6h0M890.3 81.4h0M875.8 80.9h0M881.1 75.7h0M923.5 87.7h0M919.4 83.6h0M904.3 68.4h0M906.1 91.4h0M936.3 99.6h0M909.3 90.2h0M896.7 77.1h0M915.5 94.4h0M889.5 86.5h0M849.4 82.1h0M916.5 95.5h0M935.8 86.3h0M892.8 62.2h0M898.4 76.5h0M896.2 73.5h0M848.2 72.9h0M857.4 78.7h0M860.9 80.7h0M891.7 87.0h0M867.0 104.6h0M927.4 93.0h0M881.0 84.1h0M894.3 67.6h0M863.2 66.3h0M870.3 68.6h0M867.2 108.4h0M899.6 85.0h0M910.6 88.7h0M915.1 91.7h0M897.8 79.6h0M901.4 67.5h0M853.1 101.2h0M890.0 95.9h0M869.9 88.2h0M855.0 106.3h0M912.7 75.7h0M900.6 88.4h0M928.5 85.3h0M892.2 78.8h0M880.3 81.9h0M874.4 110.2h0M884.1 106.2h0M893.2 77.7h0M903.8 83.7h0M871.9 103.3h0M884.6 62.5h0M903.3 87.2h0M925.8 82.5h0M854.3 95.6h0M901.1 91.3h0M889.1 81.8h0M907.2 88.2h0M899.6 85.5h0M933.8 98.7h0M848.4 81.6h0M914.1 84.1h0M908.0 79.3h0M882.4 69.7h0M865.9 101.6h0" stroke="#7fbd55" stroke-opacity="0.135" stroke-width="2.7" stroke-linecap="round" fill="none"/>
<path d="M905.1 84.2h0M921.4 79.2h0M907.1 92.0h0M903.6 79.8h0M904.1 80.7h0M875.0 77.5h0M901.1 92.8h0M874.1 85.6h0M881.8 96.4h0M865.3 68.8h0M929.7 90.2h0M920.2 98.3h0M918.7 90.2h0M847.6 76.4h0M864.8 101.1h0M901.0 89.1h0M854.8 77.4h0M860.7 72.3h0M905.3 78.7h0M900.2 83.0h0M904.7 91.0h0M895.8 85.4h0M926.2 83.1h0M874.8 66.9h0M855.5 76.6h0M928.6 95.4h0M892.3 93.1h0M895.5 75.7h0M912.6 94.1h0M929.5 88.2h0M894.2 68.3h0M915.0 91.4h0M904.8 71.0h0M916.2 91.9h0M911.5 78.5h0M886.4 112.5h0M937.8 103.6h0M901.7 86.7h0M922.2 85.7h0M922.3 80.7h0M911.4 86.0h0M844.1 84.5h0M932.2 87.8h0M886.0 74.0h0M894.6 80.0h0M899.4 82.0h0M919.1 87.7h0M938.6 89.1h0M909.1 84.7h0M931.0 94.6h0M915.5 84.8h0M887.6 78.4h0M904.2 82.8h0M844.2 93.3h0M848.2 89.5h0M923.8 98.1h0M923.4 96.5h0M920.9 101.5h0M933.1 99.3h0M933.8 81.9h0M909.6 93.0h0M917.7 93.2h0M894.5 73.1h0M869.6 88.4h0M926.2 83.1h0M915.5 89.5h0M905.1 81.1h0M906.8 95.0h0M929.9 112.2h0M920.3 82.0h0M907.1 82.0h0M904.8 83.5h0M871.9 67.9h0M862.3 102.4h0M874.7 102.4h0M884.1 73.7h0M912.5 85.0h0M913.9 77.9h0M903.7 81.7h0M912.8 87.8h0M891.8 92.5h0M906.7 85.7h0M942.6 93.4h0M922.0 73.0h0M918.6 100.5h0M921.5 96.9h0M904.5 93.2h0M888.1 79.8h0M904.3 78.0h0M871.5 86.7h0M919.4 91.6h0M905.2 78.0h0M865.2 95.1h0M904.4 82.7h0M910.3 77.2h0M883.2 78.9h0M920.0 90.1h0M895.0 84.9h0M907.8 76.7h0M901.9 89.7h0M920.6 92.1h0M904.1 87.7h0M867.6 86.3h0M906.9 81.8h0M936.5 104.8h0M923.0 86.1h0M909.6 80.4h0M879.3 81.6h0M902.3 78.6h0M914.9 74.0h0M936.4 87.9h0M924.2 95.9h0M936.6 93.1h0M914.8 91.7h0M923.1 105.4h0M885.7 110.4h0M899.9 87.7h0M897.4 92.7h0M921.1 97.9h0M927.6 90.3h0M877.8 80.6h0M905.7 72.5h0M906.3 78.7h0M857.4 97.5h0M861.6 98.8h0M913.5 95.8h0M908.2 90.4h0M866.4 93.9h0M895.2 67.0h0M862.1 106.7h0" stroke="#7fbd55" stroke-opacity="0.135" stroke-width="2.7" stroke-linecap="round" fill="none"/>
<path d="M852.0 85.6h0M888.2 81.9h0M886.7 80.2h0M888.1 85.2h0M869.7 74.1h0M911.8 86.3h0M921.1 69.0h0M900.6 85.4h0M913.8 75.5h0M934.5 96.4h0M934.9 90.3h0M905.3 89.7h0M928.9 81.9h0M892.3 83.2h0M932.8 85.8h0M856.4 103.8h0M905.9 79.2h0M918.0 81.3h0M901.7 80.6h0M871.8 81.5h0M920.9 77.6h0M903.6 82.0h0M898.0 69.2h0M876.3 109.1h0M910.5 86.9h0M930.5 98.5h0M911.4 97.6h0M865.3 68.7h0M887.5 85.2h0M922.1 95.1h0M870.0 76.7h0M848.3 90.7h0M902.7 86.7h0M881.7 84.9h0M916.6 90.6h0M891.2 82.8h0M889.6 77.8h0M901.2 92.8h0M905.5 92.5h0M891.1 85.9h0M929.7 87.3h0M895.5 83.8h0M924.1 99.1h0M887.1 66.3h0M867.7 105.7h0M922.8 78.7h0M901.2 86.4h0M868.8 93.2h0M913.5 89.1h0M917.0 86.4h0M904.3 83.8h0M898.4 74.8h0M909.9 68.0h0M861.1 103.6h0M888.2 81.0h0M891.6 70.7h0M912.9 87.6h0M897.1 88.3h0M877.2 90.9h0M873.3 103.6h0M843.8 96.5h0M929.9 92.0h0M899.1 101.5h0M865.3 116.3h0M893.2 89.7h0M884.7 92.3h0M913.7 90.3h0M928.3 90.2h0M895.0 107.1h0M902.1 71.6h0M888.5 74.9h0M870.0 102.7h0M904.1 74.9h0M880.4 100.4h0M932.4 89.2h0M882.8 76.7h0M906.3 80.9h0M879.3 72.0h0M895.2 100.7h0M919.2 78.0h0M936.7 95.8h0M934.6 98.5h0M902.6 83.3h0M889.3 106.9h0M859.8 105.9h0M890.0 92.9h0M878.1 74.8h0M921.2 84.3h0M916.8 80.6h0M890.9 78.3h0M910.9 81.2h0M901.1 83.3h0M920.9 91.4h0M912.0 78.0h0M909.5 92.5h0M907.1 84.5h0M876.8 72.9h0M873.6 81.2h0M920.1 84.0h0M890.2 90.8h0M906.5 76.8h0M848.1 108.7h0M915.3 81.4h0M892.8 110.9h0M908.9 83.7h0M906.7 83.3h0M872.6 77.6h0M883.8 95.0h0M892.2 61.4h0M895.7 73.7h0M894.7 81.7h0M877.1 77.4h0M896.0 84.3h0M888.0 99.3h0M889.6 58.5h0M905.2 84.7h0M903.2 90.3h0M931.7 87.3h0M899.8 88.9h0M915.5 82.2h0M899.8 82.5h0M921.5 89.2h0M879.3 72.8h0M921.2 87.1h0M897.9 108.5h0M925.6 87.8h0M905.1 87.6h0M916.8 99.1h0M908.8 83.0h0M894.3 82.1h0" stroke="#7fbd55" stroke-opacity="0.135" stroke-width="2.7" stroke-linecap="round" fill="none"/>
<path d="M904.1 152.8h0M869.4 162.1h0M887.0 140.9h0M869.1 144.0h0M879.9 147.0h0M877.0 178.6h0M923.1 152.7h0M902.2 149.4h0M882.0 147.9h0M862.1 131.5h0M881.2 140.3h0M882.3 145.2h0M875.4 144.1h0M859.4 140.5h0M882.0 135.3h0M925.8 155.1h0M875.2 161.2h0M873.0 164.4h0M904.4 165.0h0M867.8 150.1h0M908.7 153.6h0M903.9 147.9h0M876.6 152.7h0M917.7 136.8h0M909.3 149.8h0M874.6 138.3h0M855.9 146.8h0M889.0 132.4h0M915.9 149.8h0M869.6 145.9h0M916.8 158.3h0M854.1 155.1h0M854.1 132.1h0M865.8 145.4h0M853.9 157.4h0M901.3 158.4h0M909.8 132.4h0M887.5 162.3h0M881.0 160.9h0M901.2 158.8h0M891.2 155.5h0M896.2 152.3h0M905.1 173.4h0M915.2 139.5h0M896.7 168.2h0M890.7 158.2h0M885.5 138.5h0M856.2 159.1h0M907.8 151.3h0M887.2 140.2h0M894.7 166.8h0M912.7 163.2h0M873.0 158.3h0M931.5 176.4h0M912.0 170.0h0M889.9 147.9h0M901.0 170.8h0M884.2 144.0h0M898.4 156.6h0M909.2 150.6h0M904.8 159.0h0M857.2 150.0h0M917.8 150.2h0M890.3 168.8h0M904.0 130.8h0M890.2 130.5h0M891.4 166.4h0M871.7 139.6h0M909.3 156.2h0M886.5 144.4h0M910.4 140.2h0M892.8 124.7h0M900.2 156.8h0M889.0 156.0h0M898.8 151.2h0M877.4 160.7h0M875.4 137.4h0M913.7 160.0h0M899.0 160.9h0M930.2 158.9h0M880.4 163.5h0M924.6 177.5h0M868.9 170.6h0M891.7 150.7h0M911.9 149.0h0M859.3 151.3h0M921.1 139.3h0M897.1 163.9h0M922.8 163.6h0M916.7 171.9h0M913.7 131.3h0M871.3 153.4h0M878.7 143.3h0M893.3 134.1h0M893.1 157.7h0M878.5 148.3h0M870.2 140.1h0M883.9 141.1h0" stroke="#ecc48c" stroke-opacity="0.07" stroke-width="2.6" stroke-linecap="round" fill="none"/>
<path d="M918.5 157.1h0M900.4 153.2h0M895.7 138.2h0M904.7 152.9h0M900.3 147.5h0M909.2 151.4h0M863.3 160.7h0M875.0 160.9h0M923.0 154.0h0M917.5 147.6h0M909.7 152.2h0M887.3 156.2h0M911.5 161.5h0M911.3 146.3h0M896.8 161.3h0M916.3 156.6h0M888.8 145.9h0M899.6 145.3h0M892.9 154.5h0M889.2 163.9h0M876.0 167.1h0M896.5 148.8h0M917.1 155.5h0M851.3 175.9h0M890.3 173.8h0M864.6 151.3h0M863.1 124.6h0M868.7 151.6h0M858.3 153.0h0M898.2 150.9h0M860.7 157.9h0M897.8 145.5h0M901.9 174.5h0M892.0 160.8h0M907.6 149.7h0M846.1 145.6h0M910.0 151.6h0M907.5 159.0h0M873.0 150.0h0M891.6 164.0h0M918.8 173.4h0M904.1 148.3h0M929.0 158.4h0M904.6 146.9h0M903.4 170.0h0M918.3 165.3h0M933.3 165.4h0M860.9 148.1h0M879.4 150.3h0M886.8 169.9h0M870.1 151.3h0M873.7 131.7h0M928.4 164.8h0M893.8 150.3h0M899.4 174.5h0M857.5 148.8h0M898.4 161.4h0M887.5 165.7h0M913.2 162.6h0M897.7 159.2h0M881.9 157.6h0M850.9 129.9h0M869.6 156.1h0M906.1 158.1h0M897.1 164.9h0M863.4 154.8h0M922.1 141.7h0M906.8 163.1h0M881.1 154.0h0M879.6 142.5h0M886.5 154.3h0M901.3 138.7h0M900.0 168.1h0M903.6 156.7h0M873.1 146.4h0M911.1 164.5h0M912.1 153.1h0M891.2 154.9h0M908.2 156.8h0M898.3 162.3h0M912.6 169.8h0M920.4 150.3h0M905.0 158.6h0M898.9 161.8h0M890.5 149.0h0M918.7 159.8h0M883.7 142.5h0M915.9 137.9h0M915.0 151.4h0M877.9 161.2h0M913.7 160.4h0M906.0 162.0h0M874.0 147.9h0M894.4 163.4h0M906.3 145.5h0M883.3 151.4h0M909.6 143.9h0M856.7 144.4h0" stroke="#ecc48c" stroke-opacity="0.07" stroke-width="2.6" stroke-linecap="round" fill="none"/>
<path d="M913.3 139.0h0M907.5 161.8h0M919.1 164.2h0M911.3 166.3h0M912.5 164.2h0M902.4 148.7h0M890.7 147.5h0M901.9 156.5h0M914.8 163.4h0M898.1 163.1h0M870.5 150.3h0M921.4 164.2h0M902.0 160.6h0M902.9 170.3h0M926.3 166.3h0M899.5 162.9h0M893.3 146.4h0M898.2 160.6h0M897.6 156.9h0M870.0 145.4h0M893.9 161.5h0M854.4 145.1h0M896.5 162.6h0M919.4 161.8h0M913.0 175.3h0M897.1 155.4h0M850.8 131.7h0M899.8 165.1h0M906.9 159.1h0M921.0 168.0h0M887.9 148.9h0M904.9 154.7h0M888.2 157.1h0M876.5 144.8h0M909.7 149.5h0M876.4 132.8h0M906.1 164.8h0M888.5 131.3h0M909.9 170.2h0M912.2 148.7h0M917.5 159.8h0M872.5 143.6h0M882.4 144.3h0M920.2 167.3h0M922.6 158.9h0M872.8 164.8h0M899.1 131.6h0M881.1 169.6h0M862.2 142.9h0M915.0 162.9h0M879.1 143.9h0M904.1 145.1h0M897.3 163.9h0M902.6 155.5h0M900.7 159.7h0M898.3 164.2h0M878.0 157.3h0M891.0 149.4h0M905.5 166.2h0M866.4 154.9h0M894.0 128.8h0M872.3 146.7h0M852.1 135.1h0M889.2 133.6h0M900.7 163.6h0M923.4 150.0h0M868.7 157.2h0M874.9 150.0h0M859.4 157.5h0M865.6 148.0h0M866.5 164.5h0M874.6 140.4h0M891.5 141.4h0M883.4 154.6h0M857.9 120.9h0M892.3 134.9h0M876.2 157.3h0M913.4 152.9h0M907.9 165.4h0M895.3 174.7h0M862.3 158.2h0M908.6 150.4h0M902.4 145.6h0M878.3 164.6h0M915.8 149.6h0M904.3 155.2h0M884.1 143.1h0M903.5 156.5h0M898.3 148.9h0M908.8 135.8h0M905.6 160.9h0M904.4 161.9h0M865.7 143.7h0M859.1 160.2h0M899.3 159.9h0M885.2 149.7h0M862.5 147.1h0M907.5 160.8h0" stroke="#ecc48c" stroke-opacity="0.07" stroke-width="2.6" stroke-linecap="round" fill="none"/>
<path d="M903.4 144.0h0M914.1 156.3h0M899.8 166.9h0M868.0 147.7h0M872.8 135.7h0M893.0 164.5h0M924.9 145.8h0M865.0 158.8h0M911.9 143.7h0M872.0 174.8h0M898.6 137.2h0M865.6 148.3h0M867.0 145.4h0M902.4 150.5h0M915.4 147.0h0M909.5 146.0h0M891.7 139.9h0M900.9 162.7h0M915.0 151.8h0M889.2 174.0h0M886.3 138.3h0M879.8 160.0h0M903.3 158.4h0M920.0 151.2h0M893.1 157.5h0M921.3 160.9h0M859.6 166.0h0M915.0 154.0h0M910.8 174.8h0M900.0 153.0h0M907.1 146.7h0M901.5 166.6h0M899.5 158.9h0M878.6 162.7h0M843.8 131.8h0M908.7 152.2h0M904.4 169.0h0M877.7 129.3h0M915.9 155.2h0M904.3 166.4h0M889.8 149.5h0M898.5 161.4h0M915.6 151.5h0M904.0 133.1h0M919.4 152.7h0M911.4 148.6h0M915.6 160.3h0M853.3 142.8h0M905.5 163.4h0M877.3 139.5h0M893.8 154.5h0M862.6 165.4h0M869.8 165.5h0M917.1 139.0h0M895.8 150.9h0M877.8 154.9h0M890.3 163.0h0M926.9 161.2h0M924.9 145.8h0M911.6 150.9h0M866.1 144.5h0M907.6 169.8h0M906.4 157.4h0M899.9 153.8h0M899.0 156.9h0M915.1 171.2h0M906.1 159.7h0M906.4 158.3h0M874.5 152.5h0M892.2 167.0h0M882.9 159.3h0M901.8 186.7h0M860.3 135.6h0M896.9 167.0h0M921.3 152.9h0M910.1 150.4h0M911.9 147.9h0M903.1 146.0h0M877.5 145.2h0M915.5 152.3h0M925.8 164.9h0M900.9 152.9h0M892.0 162.2h0M874.5 156.8h0M915.3 157.2h0M882.5 143.8h0M898.9 154.9h0M923.3 162.1h0M904.7 164.2h0M903.2 164.7h0M879.7 158.5h0M890.3 161.9h0M905.3 155.3h0M905.5 150.6h0M889.7 163.0h0M904.3 138.3h0M909.2 157.9h0M885.0 135.2h0" stroke="#ecc48c" stroke-opacity="0.07" stroke-width="2.6" stroke-linecap="round" fill="none"/>
<path d="M899.1 130.8h0M913.4 181.7h0M901.8 146.2h0M861.7 139.0h0M897.7 137.7h0M916.8 147.1h0M911.7 161.2h0M917.6 159.9h0M860.5 166.3h0M882.0 151.5h0M876.6 153.7h0M898.3 162.8h0M895.8 140.6h0M907.8 153.2h0M862.3 150.4h0M868.7 134.7h0M901.7 166.7h0M895.3 158.2h0M866.6 168.0h0M904.1 162.7h0M897.3 154.3h0M882.5 157.7h0M904.4 159.3h0M896.9 150.7h0M892.8 166.9h0M883.0 154.5h0M904.4 152.0h0M884.1 163.8h0M913.0 152.8h0M884.9 142.6h0M916.8 160.2h0M870.3 155.8h0M913.8 153.5h0M896.4 185.4h0M894.0 177.4h0M905.9 163.4h0M848.5 151.9h0M862.7 146.7h0M911.6 187.6h0M867.8 146.1h0M918.9 152.9h0M885.4 151.0h0M899.2 148.1h0M879.0 167.8h0M901.3 133.1h0M884.7 139.2h0M873.5 164.6h0M860.7 135.6h0M909.2 175.1h0M924.0 156.6h0M884.8 151.7h0M873.0 156.1h0M844.7 136.4h0M872.9 149.1h0M887.9 160.9h0M902.8 142.2h0M887.9 158.9h0M915.4 142.0h0M891.3 162.6h0M911.9 150.8h0M909.3 152.5h0M904.9 160.8h0M873.5 158.1h0M873.4 155.4h0M897.0 137.8h0M866.6 151.4h0M909.0 152.1h0M904.0 133.8h0M918.3 154.4h0M901.9 153.3h0M874.4 172.1h0M902.9 157.0h0M913.7 157.1h0M904.4 165.0h0M892.7 147.0h0M894.8 150.9h0M899.6 167.0h0M897.2 171.2h0M898.9 163.5h0M902.1 167.2h0M904.0 147.5h0M878.8 175.6h0M898.1 153.5h0M917.4 146.4h0M885.8 139.9h0M866.6 154.2h0M903.3 153.9h0M894.7 151.5h0M885.5 162.9h0M906.7 163.2h0M870.9 146.4h0M923.7 129.8h0M906.5 156.7h0M887.8 158.9h0M875.5 140.1h0M859.6 138.4h0M892.3 155.3h0M868.6 151.3h0" stroke="#ecc48c" stroke-opacity="0.07" stroke-width="2.6" stroke-linecap="round" fill="none"/>
<path d="M801.3 326.6h0M791.2 336.7h0M819.2 331.3h0M819.0 324.5h0M793.9 323.9h0M807.5 319.0h0M793.9 327.4h0M819.5 338.4h0M795.9 316.3h0M809.0 331.0h0M808.3 324.5h0M809.8 326.2h0M793.7 336.0h0M823.8 312.1h0M806.6 324.2h0M810.0 316.6h0M792.0 339.0h0M817.1 325.0h0M811.3 318.5h0M789.9 333.7h0M806.9 333.7h0M800.3 330.7h0M809.5 319.5h0M790.1 338.2h0M802.4 322.3h0M789.7 335.9h0M810.5 316.8h0M811.4 326.9h0M811.0 325.6h0M800.6 330.3h0M803.6 325.8h0M819.5 319.8h0M799.3 311.0h0M813.9 316.0h0M795.4 327.9h0M816.8 326.7h0M828.5 319.6h0M791.5 320.4h0M806.4 319.1h0M808.2 327.5h0M826.3 320.3h0M797.9 322.3h0M808.8 315.7h0M797.8 321.5h0M797.0 323.1h0" stroke="#d8806e" stroke-opacity="0.14" stroke-width="2.6" stroke-linecap="round" fill="none"/>
<path d="M814.5 321.0h0M804.1 340.2h0M763.5 356.8h0M805.2 321.3h0M789.6 324.8h0M807.5 321.9h0M809.8 322.3h0M780.0 356.4h0M810.5 322.6h0M802.7 322.4h0M798.6 332.6h0M806.6 324.0h0M814.8 329.7h0M815.6 338.8h0M793.4 335.0h0M797.2 327.8h0M818.6 320.6h0M787.1 315.5h0M806.0 315.9h0M806.0 318.5h0M801.3 324.3h0M809.2 334.6h0M824.6 328.5h0M797.0 319.1h0M825.2 319.4h0M796.1 340.3h0M792.9 320.4h0M773.0 356.0h0M822.2 322.4h0M810.0 324.6h0M792.7 320.8h0M802.8 343.3h0M801.2 317.2h0M802.6 318.5h0M826.7 326.6h0M813.2 327.2h0M804.3 323.5h0M811.2 318.9h0M823.3 313.0h0M818.8 324.1h0M817.3 340.5h0M809.3 326.4h0M802.2 322.3h0M824.3 313.1h0M838.1 324.7h0" stroke="#d8806e" stroke-opacity="0.14" stroke-width="2.6" stroke-linecap="round" fill="none"/>
<path d="M803.1 324.9h0M791.7 322.8h0M802.5 330.1h0M790.4 323.5h0M782.8 344.0h0M805.7 334.2h0M803.3 328.4h0M811.8 323.6h0M771.4 358.3h0M803.1 328.1h0M810.1 323.1h0M791.9 321.5h0M769.4 357.0h0M810.0 328.2h0M797.8 340.6h0M811.6 324.8h0M823.3 331.0h0M827.8 318.9h0M767.1 356.1h0M807.1 329.9h0M784.3 355.4h0M809.0 327.8h0M799.0 314.9h0M813.1 323.9h0M793.0 339.3h0M796.9 326.0h0M811.0 328.7h0M781.1 344.8h0M809.5 330.6h0M828.8 337.6h0M803.9 323.3h0M804.4 316.9h0M783.9 339.9h0M811.0 315.1h0M799.1 318.9h0M805.4 325.6h0M811.8 320.7h0M816.4 324.2h0M808.0 324.5h0M824.2 329.3h0M791.5 347.1h0M799.0 340.4h0M805.6 318.8h0M803.6 320.6h0M815.0 320.7h0" stroke="#d8806e" stroke-opacity="0.14" stroke-width="2.6" stroke-linecap="round" fill="none"/>
<path d="M820.6 326.0h0M790.3 319.0h0M810.6 323.5h0M806.2 331.7h0M826.5 331.8h0M789.7 320.2h0M807.7 326.7h0M811.7 321.5h0M804.9 335.2h0M828.6 312.3h0M771.0 349.9h0M813.1 324.1h0M809.9 322.5h0M804.0 312.4h0M787.7 324.6h0M790.6 349.0h0M802.4 324.8h0M812.7 317.8h0M810.2 320.8h0M794.5 343.3h0M785.0 350.9h0M815.7 325.2h0M766.5 343.4h0M793.6 341.8h0M808.0 326.0h0M792.8 326.8h0M823.2 313.8h0M812.6 328.6h0M827.5 334.1h0M804.0 329.2h0M821.5 334.0h0M811.4 317.4h0M799.8 330.7h0M810.1 321.3h0M813.7 329.9h0M817.7 320.7h0M756.6 346.8h0M816.2 331.1h0M800.3 318.0h0M799.9 315.5h0M801.8 324.2h0M808.3 324.7h0M823.9 315.8h0M801.3 317.8h0M798.5 317.1h0" stroke="#d8806e" stroke-opacity="0.14" stroke-width="2.6" stroke-linecap="round" fill="none"/>
<path d="M805.6 326.4h0M812.5 325.1h0M820.1 323.6h0M805.0 321.5h0M816.5 325.1h0M808.9 324.5h0M809.7 321.3h0M801.2 318.3h0M812.2 327.2h0M817.6 326.7h0M788.3 351.8h0M815.9 306.2h0M814.5 320.7h0M819.9 329.7h0M815.9 322.9h0M807.1 320.6h0M807.3 317.4h0M800.0 324.6h0M810.8 324.0h0M823.2 323.4h0M808.1 320.6h0M808.7 318.1h0M812.5 327.3h0M806.8 325.1h0M811.6 327.7h0M795.4 337.8h0M799.6 312.7h0M808.4 328.8h0M783.0 317.3h0M802.3 325.4h0M788.7 343.9h0M826.5 322.9h0M768.4 347.7h0M774.6 342.9h0M790.4 328.7h0M799.4 314.1h0M808.9 330.0h0M771.7 352.1h0M799.5 331.6h0M808.2 327.1h0M801.4 326.2h0M805.8 322.9h0M795.8 322.1h0M814.4 329.4h0M801.1 322.7h0" stroke="#d8806e" stroke-opacity="0.14" stroke-width="2.6" stroke-linecap="round" fill="none"/>
<path d="M916.5 344.1h0M913.9 374.8h0M912.1 328.5h0M912.2 368.5h0M919.3 329.4h0M913.3 334.5h0M914.9 349.6h0M909.0 340.4h0M921.9 341.1h0M927.3 340.6h0M915.0 345.5h0M904.4 367.3h0M904.1 332.3h0M916.9 330.2h0M891.8 398.2h0M917.8 341.9h0M890.4 399.4h0M922.8 339.9h0M891.7 404.3h0M904.8 360.7h0M910.8 361.8h0M896.4 391.4h0M925.0 349.9h0M908.1 373.5h0M919.0 334.7h0M884.7 362.6h0M929.1 332.7h0M911.7 335.0h0M927.5 322.3h0M920.7 327.7h0M917.3 348.0h0M909.3 368.5h0M884.5 364.7h0M925.1 322.1h0M918.6 327.6h0M909.2 325.3h0M868.3 367.5h0M927.1 339.7h0M891.9 401.6h0M877.7 366.0h0M905.6 366.0h0M912.8 337.6h0M907.4 380.3h0M909.3 324.4h0M918.5 349.5h0M926.2 349.6h0M928.8 323.0h0M892.2 361.4h0M917.7 336.9h0M911.1 335.6h0M901.6 373.5h0M895.5 395.5h0M919.7 341.8h0M915.6 360.6h0M925.5 354.7h0M919.2 346.0h0M870.8 364.1h0M907.2 344.5h0M915.5 346.3h0M917.6 328.1h0M928.6 317.6h0M929.1 349.8h0M915.3 346.2h0M914.9 321.1h0M914.6 363.9h0M917.4 348.3h0M915.9 318.5h0M903.4 378.3h0M866.1 363.1h0M877.4 364.6h0M926.1 334.2h0M920.6 349.8h0M915.2 330.8h0M887.2 403.9h0M912.6 325.4h0M922.9 351.9h0M894.9 387.9h0M919.9 345.6h0M920.6 338.3h0M899.6 381.9h0M918.1 339.8h0" stroke="#9fb0b6" stroke-opacity="0.125" stroke-width="2.7" stroke-linecap="round" fill="none"/>
<path d="M918.5 352.1h0M896.9 392.9h0M889.9 394.9h0M919.0 332.2h0M891.7 400.4h0M903.2 375.6h0M923.4 338.9h0M876.5 364.9h0M920.5 343.2h0M911.6 333.2h0M895.8 378.7h0M917.3 354.4h0M913.3 353.8h0M919.9 347.5h0M905.4 381.3h0M928.0 333.5h0M917.7 357.4h0M915.0 356.2h0M907.4 361.2h0M894.8 389.9h0M911.0 357.9h0M921.8 305.4h0M912.0 352.7h0M906.9 321.3h0M912.1 367.3h0M916.6 351.6h0M918.4 341.2h0M918.1 348.0h0M921.0 357.4h0M899.1 391.7h0M891.6 359.5h0M911.1 350.6h0M907.7 360.0h0M915.1 371.6h0M921.3 327.6h0M915.9 327.5h0M907.2 376.5h0M907.7 386.5h0M916.9 332.7h0M911.0 383.3h0M914.9 353.5h0M909.6 371.6h0M903.9 364.3h0M921.2 340.0h0M922.0 327.1h0M914.1 357.2h0M920.2 326.9h0M913.7 335.7h0M919.6 334.7h0M917.6 326.3h0M907.7 355.5h0M924.7 344.7h0M913.7 321.3h0M908.4 347.3h0M912.4 329.2h0M922.3 342.2h0M905.0 376.7h0M919.0 335.6h0M918.1 352.9h0M917.7 341.6h0M911.2 349.5h0M913.7 331.1h0M917.1 337.0h0M915.7 355.3h0M904.7 366.7h0M891.8 359.3h0M910.4 326.3h0M912.8 361.8h0M907.3 343.8h0M915.4 342.7h0M917.2 343.8h0M922.0 328.3h0M919.0 315.0h0M913.9 331.6h0M912.0 351.2h0M879.3 360.4h0M928.4 333.7h0M914.2 360.5h0M908.6 346.4h0M873.8 362.5h0" stroke="#9fb0b6" stroke-opacity="0.125" stroke-width="2.7" stroke-linecap="round" fill="none"/>
<path d="M916.9 344.0h0M900.9 379.4h0M920.1 333.1h0M914.7 347.6h0M893.0 389.2h0M894.5 373.0h0M908.1 328.5h0M909.0 358.3h0M926.3 347.0h0M904.6 391.0h0M896.1 396.9h0M902.2 395.2h0M906.8 359.0h0M914.0 366.2h0M894.2 407.2h0M865.2 363.2h0M924.8 334.2h0M910.6 340.3h0M905.1 370.8h0M911.2 366.9h0M917.7 327.5h0M927.8 335.7h0M919.8 333.9h0M910.1 349.0h0M915.1 330.4h0M893.2 385.7h0M907.3 344.2h0M928.0 333.0h0M872.7 363.6h0M912.9 369.5h0M913.5 339.3h0M905.1 383.1h0M910.0 361.4h0M893.4 398.4h0M918.5 342.6h0M914.8 338.5h0M896.1 402.0h0M918.0 354.4h0M923.5 322.8h0M914.6 357.8h0M919.5 353.2h0M920.8 345.8h0M918.4 355.9h0M907.4 374.5h0M916.2 350.2h0M907.5 387.7h0M908.8 353.1h0M913.4 384.2h0M867.1 366.4h0M899.3 374.3h0M908.8 364.8h0M896.5 351.8h0M911.0 323.3h0M868.0 369.1h0M920.1 332.9h0M905.7 326.0h0M912.6 341.7h0M919.8 351.3h0M922.6 344.1h0M911.1 326.6h0M916.9 333.4h0M932.1 338.7h0M921.6 337.6h0M915.7 335.5h0M867.2 361.1h0M908.9 355.5h0M908.7 353.2h0M911.0 354.1h0M925.0 340.9h0M926.2 326.1h0M917.4 330.4h0M912.9 351.1h0M915.4 341.0h0M892.6 393.6h0M919.5 357.8h0M914.9 351.5h0M899.0 387.1h0M892.3 363.3h0M904.5 350.4h0M917.5 327.5h0" stroke="#9fb0b6" stroke-opacity="0.125" stroke-width="2.7" stroke-linecap="round" fill="none"/>
<path d="M892.6 395.2h0M921.3 337.2h0M912.1 356.6h0M897.8 392.5h0M917.7 341.5h0M918.1 347.8h0M913.8 333.4h0M917.4 333.6h0M900.5 382.5h0M891.7 361.3h0M906.5 382.8h0M921.3 354.9h0M914.1 350.2h0M897.0 381.8h0M911.0 330.9h0M910.8 337.9h0M919.6 346.0h0M900.0 354.4h0M907.5 373.0h0M909.5 327.7h0M906.4 366.0h0M909.1 308.0h0M913.3 356.7h0M919.6 332.3h0M899.7 379.6h0M910.6 336.7h0M915.9 353.1h0M903.5 383.5h0M927.6 349.1h0M896.4 375.9h0M916.7 346.7h0M901.7 362.1h0M918.0 325.9h0M900.5 382.2h0M916.8 340.0h0M912.0 344.8h0M894.0 364.7h0M917.4 358.8h0M907.4 337.7h0M920.9 309.4h0M907.1 388.0h0M924.8 333.6h0M916.9 335.9h0M867.3 360.9h0M890.4 390.9h0M911.7 333.9h0M923.9 343.7h0M905.0 345.8h0M926.4 324.9h0M923.8 336.3h0M896.7 374.6h0M912.5 343.2h0M911.3 333.3h0M903.7 385.2h0M926.5 319.3h0M893.8 386.1h0M908.9 352.8h0M871.7 363.0h0M922.9 343.6h0M910.6 323.7h0M927.5 340.2h0M922.1 362.5h0M929.1 352.0h0M920.9 350.6h0M906.9 366.8h0M918.9 348.0h0M912.8 320.2h0M888.8 396.5h0M926.5 339.0h0M895.0 398.1h0M923.1 335.8h0M915.1 356.7h0M905.3 362.4h0M927.7 327.2h0M923.3 327.3h0M871.6 366.0h0M907.6 380.1h0M918.1 343.1h0M923.5 340.3h0M910.1 334.5h0" stroke="#9fb0b6" stroke-opacity="0.125" stroke-width="2.7" stroke-linecap="round" fill="none"/>
<path d="M895.4 369.7h0M917.5 342.0h0M899.9 392.6h0M916.1 355.8h0M905.6 355.6h0M897.6 372.1h0M925.8 349.2h0M919.9 329.2h0M924.5 333.8h0M926.3 341.5h0M905.4 379.8h0M914.5 353.4h0M881.7 401.4h0M917.0 333.7h0M902.4 369.1h0M911.9 324.7h0M867.7 362.5h0M873.9 362.6h0M901.1 380.0h0M921.6 342.9h0M916.4 347.3h0M904.8 320.6h0M917.2 338.0h0M917.9 356.0h0M913.0 336.0h0M909.7 341.9h0M910.8 311.5h0M898.9 380.5h0M917.3 352.6h0M908.7 349.0h0M899.1 373.8h0M910.9 348.9h0M921.7 345.9h0M922.4 333.1h0M910.7 329.6h0M921.7 336.9h0M889.4 384.2h0M921.0 324.0h0M904.5 379.7h0M907.7 338.9h0M912.2 336.6h0M866.2 366.4h0M904.9 334.9h0M912.4 340.9h0M894.4 388.6h0M886.4 407.5h0M912.6 355.9h0M885.9 365.4h0M905.7 372.0h0M918.3 338.8h0M898.4 388.6h0M913.9 352.1h0M906.9 319.5h0M903.5 381.8h0M912.4 345.8h0M919.7 340.6h0M892.4 399.2h0M917.2 333.1h0M915.8 349.7h0M921.9 346.5h0M914.3 359.8h0M935.4 348.5h0M907.8 381.9h0M913.8 351.5h0M919.8 341.7h0M913.1 337.9h0M876.4 370.3h0M916.4 325.9h0M909.6 326.2h0M921.1 338.9h0M921.3 325.4h0M887.5 357.5h0M901.5 385.8h0M912.1 355.1h0M912.8 332.2h0M885.1 401.5h0M903.4 368.7h0M868.5 362.9h0M917.1 351.7h0M906.1 356.1h0" stroke="#9fb0b6" stroke-opacity="0.125" stroke-width="2.7" stroke-linecap="round" fill="none"/>
<path d="M734.2 490.8h0M766.4 527.3h0M767.7 459.6h0M751.4 477.4h0M738.4 494.1h0M738.7 459.6h0M731.5 479.1h0M795.5 506.1h0M779.3 501.0h0M761.1 488.2h0M829.0 461.6h0M721.6 495.8h0M748.7 444.9h0M743.7 504.0h0M774.9 494.0h0M732.8 504.5h0M745.0 483.5h0M739.7 474.5h0M797.1 448.5h0M759.7 475.3h0M793.8 460.0h0M766.0 497.2h0M782.2 505.2h0M798.1 509.0h0M741.7 478.8h0M766.0 484.1h0M725.4 482.2h0M758.5 509.7h0M763.7 495.9h0M743.6 489.4h0M779.6 508.0h0M722.6 501.6h0M739.7 522.7h0M723.1 466.0h0M748.7 480.4h0M765.2 500.2h0M734.6 478.7h0M782.2 502.0h0M809.5 480.6h0M788.1 472.4h0M794.5 503.4h0M756.2 460.1h0M739.6 507.7h0M738.9 497.3h0M779.0 520.4h0M811.7 472.5h0M761.1 466.2h0M779.4 503.1h0M781.3 434.8h0M785.2 523.7h0M792.7 464.7h0M775.1 488.4h0M720.5 536.5h0M787.9 476.7h0M758.5 494.6h0M745.6 485.7h0M780.5 462.0h0M755.1 500.8h0M743.5 472.4h0M786.1 474.2h0M773.5 471.8h0M741.9 486.9h0M787.7 489.6h0M810.2 480.5h0M799.4 489.2h0M739.7 507.3h0M731.8 503.5h0M797.4 495.7h0M804.7 501.3h0M776.7 461.1h0M805.2 466.4h0M722.6 513.1h0M800.6 504.9h0M797.4 474.0h0M766.6 448.4h0M722.4 472.4h0M758.4 499.2h0M797.0 484.9h0M780.9 496.9h0M745.5 497.9h0M738.1 496.7h0M786.1 455.7h0M757.7 489.9h0M791.7 492.7h0M804.5 485.0h0M784.4 459.9h0M810.6 459.4h0M764.5 486.7h0M781.6 492.1h0M722.3 501.4h0M749.6 490.9h0M747.5 482.3h0M791.3 495.6h0M731.2 493.3h0M815.4 474.9h0M751.3 493.5h0M750.8 484.3h0M802.9 468.7h0M752.3 490.2h0M757.8 475.2h0M771.4 454.0h0M753.5 468.2h0M765.9 479.7h0M753.8 461.5h0M780.5 507.4h0M776.6 458.3h0M728.4 468.1h0M790.0 501.3h0M734.2 471.8h0M736.7 475.9h0M765.6 482.0h0M723.3 506.3h0M745.8 467.3h0M788.5 513.8h0M792.1 504.4h0M778.1 502.2h0M751.6 473.0h0M762.9 492.1h0M757.8 503.0h0M757.2 472.5h0M803.2 501.9h0M746.0 522.0h0M782.1 479.4h0M753.8 468.6h0M792.7 484.5h0M748.1 499.9h0M739.2 512.5h0M772.5 475.1h0M811.4 477.6h0M761.8 477.7h0M727.0 471.1h0M781.2 490.4h0M780.4 481.6h0M763.5 477.5h0M756.3 488.9h0M720.6 499.8h0M762.1 466.0h0M738.6 470.9h0M782.7 471.7h0M762.7 510.2h0M747.0 490.0h0M747.3 502.8h0M718.8 509.6h0M734.5 480.3h0M727.0 476.2h0M763.5 481.8h0M749.2 458.9h0M724.0 506.1h0M786.4 451.9h0M753.2 454.5h0M746.3 498.2h0M780.4 507.3h0M764.3 468.1h0M768.1 479.1h0M759.8 458.6h0M795.8 473.6h0M705.4 486.3h0M754.4 453.0h0M749.5 497.0h0M772.2 484.1h0M767.1 520.4h0M746.6 526.9h0M814.8 483.8h0M763.7 480.6h0M761.9 505.4h0M776.7 493.5h0M776.9 496.1h0M735.8 464.5h0M765.9 500.5h0M772.0 468.2h0M770.3 473.9h0M789.7 467.7h0M765.7 476.3h0M736.6 511.0h0M747.5 480.2h0M762.5 502.4h0M771.0 460.0h0M806.1 474.8h0M765.0 459.3h0M800.7 513.5h0M761.2 482.9h0M749.6 470.2h0M749.6 501.9h0M751.5 489.1h0M770.2 472.7h0M779.1 486.9h0M771.9 476.4h0M773.9 504.4h0M802.4 496.4h0M804.1 466.8h0M708.6 504.6h0M738.5 496.1h0M763.7 481.8h0M739.9 454.0h0M794.4 493.2h0M783.0 495.1h0M743.1 492.6h0M798.1 488.7h0M750.7 496.8h0M764.6 523.8h0M794.9 504.3h0M731.4 459.6h0M787.0 486.2h0M770.7 487.6h0M748.0 473.2h0M760.8 494.1h0M772.8 502.0h0M786.7 455.8h0M738.3 464.1h0M770.1 486.9h0M799.9 482.4h0M788.1 494.1h0M761.5 481.4h0M767.9 454.1h0M782.0 481.4h0M766.6 483.9h0M784.7 437.8h0M758.3 509.6h0M796.5 498.1h0M764.2 512.2h0M791.8 507.2h0M768.7 487.2h0M744.2 519.0h0M765.0 464.0h0M718.5 522.5h0M723.5 523.8h0M777.5 487.4h0M748.0 482.6h0M751.1 484.3h0M761.6 479.1h0M770.2 488.6h0M762.2 502.2h0M740.3 459.7h0M779.5 486.9h0M787.3 491.1h0M779.9 498.1h0M730.8 485.3h0M762.0 495.8h0M781.0 515.6h0M765.3 491.2h0M772.4 479.3h0M779.9 486.1h0M755.2 468.2h0M760.1 504.0h0M778.3 462.4h0M709.9 505.9h0M777.5 513.6h0M756.6 474.3h0M706.7 488.4h0M761.1 468.4h0M793.8 478.9h0M796.0 497.7h0M763.7 468.4h0M768.6 487.5h0M767.1 515.1h0M746.6 470.0h0M715.6 483.6h0M761.6 511.2h0M753.3 453.6h0" stroke="#f3bf66" stroke-opacity="0.165" stroke-width="2.8" stroke-linecap="round" fill="none"/>
<path d="M810.7 481.0h0M784.4 484.6h0M770.4 499.1h0M735.2 507.3h0M766.8 480.6h0M815.3 480.5h0M803.4 513.3h0M795.4 519.8h0M732.7 487.6h0M768.4 503.8h0M774.6 439.9h0M765.5 496.5h0M771.3 512.9h0M801.8 483.4h0M782.8 476.6h0M747.7 533.8h0M771.9 487.0h0M809.8 484.0h0M799.9 487.9h0M760.6 496.3h0M774.1 508.3h0M778.9 469.0h0M723.8 471.1h0M761.4 464.8h0M744.9 465.7h0M748.3 490.3h0M760.4 470.7h0M784.1 475.9h0M797.3 453.9h0M727.7 480.8h0M783.5 496.5h0M695.4 513.9h0M810.1 471.6h0M778.7 460.1h0M757.2 474.6h0M739.6 501.6h0M772.0 476.2h0M762.2 501.2h0M808.2 462.3h0M701.1 534.7h0M742.0 481.3h0M729.5 499.1h0M725.1 468.6h0M753.5 467.7h0M746.1 490.0h0M751.0 482.0h0M788.0 442.3h0M779.3 469.0h0M769.9 493.2h0M740.0 494.1h0M782.1 471.1h0M773.2 484.8h0M751.8 474.1h0M784.7 477.8h0M769.3 517.4h0M731.9 477.1h0M722.5 499.4h0M775.8 457.8h0M730.1 506.9h0M799.6 460.4h0M729.1 489.6h0M726.8 480.8h0M788.6 472.5h0M774.5 485.1h0M788.6 487.7h0M778.6 516.4h0M731.4 489.6h0M773.1 474.3h0M762.8 462.5h0M770.0 501.3h0M736.5 459.6h0M754.9 527.8h0M769.4 488.8h0M727.3 483.1h0M766.9 514.5h0M780.1 525.3h0M787.1 491.4h0M787.1 489.5h0M740.3 502.7h0M786.4 519.7h0M730.2 467.9h0M742.1 508.1h0M762.9 517.2h0M728.4 481.6h0M740.7 489.0h0M769.2 459.0h0M706.3 501.7h0M817.6 475.7h0M799.2 481.1h0M738.4 506.5h0M789.2 482.7h0M735.3 480.2h0M742.0 517.7h0M796.8 446.3h0M788.4 490.3h0M762.2 455.3h0M782.5 492.4h0M763.0 500.0h0M722.7 471.6h0M776.5 511.4h0M751.7 498.5h0M757.7 476.3h0M765.4 468.9h0M786.0 454.6h0M785.5 453.1h0M771.6 522.5h0M798.5 514.1h0M767.1 500.4h0M729.7 520.3h0M779.9 470.2h0M731.4 485.7h0M775.1 472.4h0M755.9 482.9h0M768.7 468.1h0M787.8 456.0h0M767.1 478.4h0M729.2 476.4h0M788.0 477.5h0M798.3 508.0h0M798.1 461.0h0M789.4 479.2h0M738.5 477.4h0M769.1 480.7h0M763.4 487.1h0M792.6 466.4h0M784.6 486.7h0M727.6 454.2h0M780.9 496.1h0M765.2 486.2h0M748.4 476.6h0M766.4 501.9h0M778.1 498.4h0M753.7 493.3h0M800.9 463.8h0M780.7 455.9h0M738.4 460.4h0M801.4 504.0h0M764.6 500.0h0M754.6 535.0h0M758.7 481.9h0M763.8 515.8h0M744.3 463.7h0M778.5 449.9h0M785.0 478.9h0M780.9 479.1h0M751.4 481.7h0M758.0 516.9h0M777.9 490.7h0M733.1 466.0h0M752.8 479.0h0M795.4 471.6h0M784.4 514.7h0M725.6 489.3h0M754.7 485.2h0M766.0 528.6h0M778.4 482.8h0M776.1 522.8h0M748.1 467.9h0M789.8 447.3h0M785.4 448.0h0M731.3 507.9h0M750.6 460.6h0M745.3 471.9h0M753.1 510.9h0M725.2 477.8h0M781.3 470.9h0M778.2 475.7h0M787.7 473.2h0M749.1 479.1h0M740.9 503.4h0M784.6 504.0h0M709.6 492.3h0M779.3 491.3h0M771.6 496.8h0M773.3 509.6h0M738.8 475.1h0M750.9 528.6h0M749.0 506.8h0M784.4 440.0h0M772.7 507.9h0M764.5 507.8h0M759.3 515.6h0M738.2 510.3h0M758.0 528.4h0M752.1 479.2h0M730.9 515.2h0M762.6 478.3h0M734.0 498.5h0M741.9 456.6h0M776.2 471.0h0M719.6 501.4h0M782.8 470.8h0M767.1 468.1h0M739.4 499.1h0M764.4 492.4h0M763.7 496.1h0M749.5 471.8h0M795.3 514.9h0M751.9 441.6h0M750.2 474.7h0M759.3 467.5h0M782.5 451.5h0M749.3 497.1h0M775.8 488.6h0M773.8 455.6h0M781.5 472.0h0M787.6 455.1h0M752.7 472.6h0M768.6 472.6h0M820.2 458.8h0M744.3 484.3h0M782.3 476.7h0M740.7 475.4h0M804.6 475.5h0M768.5 481.1h0M789.9 477.7h0M746.2 504.7h0M759.5 478.1h0M748.5 482.8h0M793.4 501.1h0M734.6 500.6h0M757.1 479.8h0M731.4 476.3h0M764.1 482.0h0M768.6 482.0h0M755.2 478.1h0M777.1 492.0h0M767.1 497.4h0M774.2 461.5h0M757.4 492.2h0M775.1 501.0h0M732.3 497.7h0M781.6 518.1h0M780.2 506.2h0M771.6 484.6h0M738.1 478.3h0M766.4 462.8h0M787.7 519.7h0M774.4 463.3h0M730.8 501.2h0M744.3 456.9h0M726.4 500.1h0M793.9 503.7h0M757.0 486.9h0M808.2 483.2h0M781.4 470.9h0M798.4 463.0h0M762.8 498.9h0M787.4 484.5h0M781.5 482.1h0M761.8 461.9h0M763.6 497.5h0M757.2 480.4h0M777.6 483.4h0M764.4 510.6h0M760.2 473.4h0M789.2 454.2h0M761.4 453.5h0M795.5 513.8h0" stroke="#f3bf66" stroke-opacity="0.165" stroke-width="2.8" stroke-linecap="round" fill="none"/>
<path d="M748.1 453.2h0M747.3 474.8h0M763.1 484.1h0M762.8 471.9h0M745.5 463.4h0M784.7 452.7h0M765.1 480.9h0M723.2 479.7h0M808.2 486.9h0M774.5 524.9h0M731.5 515.4h0M728.4 524.4h0M747.3 508.7h0M724.9 467.3h0M707.1 521.1h0M753.9 517.0h0M752.9 457.4h0M744.6 495.4h0M782.0 471.3h0M771.5 504.6h0M757.7 490.9h0M775.7 461.7h0M726.9 476.0h0M774.6 472.5h0M753.4 490.8h0M776.5 472.4h0M756.0 488.6h0M786.7 484.2h0M735.1 485.3h0M796.3 470.5h0M784.7 493.1h0M731.9 471.5h0M779.9 436.8h0M737.1 501.9h0M790.6 499.6h0M725.2 463.8h0M755.9 469.4h0M765.1 518.6h0M808.8 476.2h0M742.8 478.5h0M786.9 488.8h0M795.6 488.5h0M765.7 467.8h0M797.4 507.2h0M798.4 498.7h0M768.9 524.5h0M760.7 476.2h0M758.3 503.2h0M729.4 455.7h0M763.9 526.3h0M768.6 487.8h0M779.1 464.2h0M736.0 512.4h0M753.2 471.2h0M759.9 492.5h0M787.8 529.4h0M762.5 481.0h0M782.0 518.7h0M804.5 510.2h0M784.0 487.0h0M761.4 527.4h0M752.8 513.4h0M750.0 445.0h0M774.8 481.5h0M765.9 511.6h0M732.0 495.3h0M797.9 477.6h0M786.3 479.2h0M779.4 489.8h0M703.2 488.4h0M780.8 476.1h0M746.6 480.1h0M800.5 487.0h0M780.5 504.9h0M746.6 482.0h0M755.3 484.0h0M756.9 501.5h0M763.9 488.2h0M758.7 501.2h0M787.3 484.0h0M777.0 448.0h0M748.9 490.2h0M764.6 495.9h0M737.6 460.4h0M752.4 472.9h0M743.9 485.2h0M778.5 456.7h0M747.5 476.6h0M749.4 476.8h0M774.7 476.9h0M797.3 463.1h0M712.4 517.5h0M759.1 517.5h0M768.1 461.6h0M799.8 482.3h0M782.3 494.3h0M798.9 475.8h0M756.7 477.0h0M703.7 491.8h0M742.3 517.0h0M766.6 478.4h0M796.4 488.9h0M760.4 525.1h0M766.8 466.9h0M757.2 494.7h0M783.1 465.9h0M782.2 465.6h0M721.9 478.9h0M750.4 490.6h0M795.1 495.5h0M770.7 449.8h0M795.7 503.0h0M755.7 444.3h0M781.6 500.6h0M692.4 509.5h0M789.3 457.0h0M722.4 469.8h0M726.7 499.7h0M751.6 481.4h0M741.3 503.9h0M765.7 518.6h0M741.1 494.6h0M782.1 489.7h0M792.7 459.9h0M773.0 510.6h0M785.4 492.4h0M742.4 500.3h0M747.9 484.3h0M762.5 496.0h0M780.5 473.5h0M777.6 458.2h0M770.9 496.1h0M770.5 506.9h0M792.1 519.4h0M795.3 476.2h0M765.9 456.2h0M784.8 504.1h0M793.9 453.0h0M740.7 518.0h0M780.6 459.2h0M760.2 485.2h0M706.5 519.9h0M816.5 495.4h0M794.5 449.3h0M761.5 495.1h0M773.3 450.5h0M748.1 467.1h0M743.8 506.7h0M757.0 515.6h0M801.8 488.8h0M748.3 482.2h0M778.2 507.7h0M769.6 512.9h0M741.0 482.5h0M778.1 462.4h0M753.5 484.8h0M768.3 475.0h0M743.5 497.1h0M742.6 502.2h0M731.3 476.0h0M768.1 520.2h0M751.9 470.6h0M754.3 485.7h0M791.6 500.8h0M775.9 461.7h0M782.0 483.8h0M762.9 465.2h0M779.9 488.4h0M787.6 481.3h0M768.1 485.2h0M720.9 480.4h0M808.8 462.9h0M755.2 513.2h0M792.6 488.5h0M739.1 475.4h0M755.8 477.3h0M753.9 451.3h0M773.1 501.6h0M739.2 504.5h0M725.0 472.3h0M775.5 484.9h0M802.6 464.3h0M731.4 496.6h0M737.0 493.3h0M772.4 495.5h0M795.2 459.9h0M762.1 479.7h0M808.0 485.9h0M777.8 462.9h0M805.5 489.6h0M802.5 504.6h0M746.1 521.7h0M797.8 444.2h0M767.6 489.3h0M732.3 512.0h0M749.4 511.8h0M761.6 482.5h0M798.3 488.9h0M767.4 492.3h0M801.9 504.3h0M804.1 494.6h0M757.6 478.0h0M768.4 489.2h0M746.6 482.8h0M779.0 497.3h0M781.0 504.7h0M766.2 451.1h0M750.8 490.8h0M760.3 481.9h0M764.2 504.8h0M778.0 493.2h0M753.5 506.3h0M748.5 487.8h0M738.6 485.1h0M788.9 444.7h0M771.0 479.3h0M782.3 513.6h0M737.4 511.8h0M768.5 510.2h0M731.4 457.2h0M753.7 512.1h0M764.7 477.4h0M750.2 475.2h0M790.0 467.1h0M777.2 481.4h0M754.9 521.3h0M751.9 468.4h0M778.5 526.9h0M772.0 486.5h0M750.9 482.7h0M778.1 458.1h0M754.5 505.4h0M791.4 459.0h0M741.8 491.2h0M763.1 493.9h0M768.2 488.1h0M742.6 469.8h0M753.4 482.6h0M760.4 442.7h0M751.7 465.8h0M743.7 485.5h0M738.1 463.2h0M804.0 480.6h0M724.6 494.2h0M769.0 454.0h0M730.7 535.1h0M810.2 455.2h0M741.9 497.2h0M748.4 502.6h0M749.1 488.7h0M734.1 495.1h0M725.8 478.0h0M785.4 510.3h0M750.5 494.4h0M762.0 474.8h0M793.8 509.9h0M736.4 479.6h0M768.2 480.2h0M764.9 442.3h0" stroke="#f3bf66" stroke-opacity="0.165" stroke-width="2.8" stroke-linecap="round" fill="none"/>
<path d="M703.0 478.5h0M752.7 468.9h0M737.0 505.3h0M753.9 513.7h0M786.0 499.7h0M767.6 463.4h0M735.6 513.9h0M748.7 455.0h0M796.5 491.0h0M753.9 471.5h0M756.0 512.7h0M785.8 474.3h0M750.0 446.7h0M756.2 462.6h0M771.7 468.8h0M766.4 469.5h0M732.3 465.2h0M792.0 460.1h0M756.2 481.5h0M691.6 491.9h0M738.0 493.7h0M783.2 498.8h0M735.1 459.1h0M786.2 435.3h0M790.8 481.8h0M750.3 491.6h0M796.3 470.2h0M767.9 500.8h0M743.1 479.4h0M771.0 437.0h0M757.8 475.4h0M760.9 472.0h0M780.3 499.8h0M769.6 475.0h0M750.9 510.4h0M763.3 475.4h0M811.7 494.7h0M769.3 474.2h0M776.7 459.9h0M739.5 508.5h0M767.4 491.7h0M760.9 483.2h0M802.5 507.8h0M761.3 474.4h0M768.2 473.1h0M744.8 516.8h0M766.2 481.3h0M790.9 498.7h0M734.2 515.5h0M742.1 487.5h0M766.7 447.6h0M786.5 470.9h0M753.0 480.6h0M779.5 485.1h0M734.3 484.3h0M764.0 466.6h0M771.6 511.5h0M745.5 500.2h0M728.4 473.5h0M773.2 489.6h0M777.4 455.3h0M737.1 505.4h0M750.0 500.3h0M780.1 504.6h0M758.3 479.2h0M755.7 493.4h0M795.4 506.7h0M760.6 485.6h0M811.2 484.9h0M751.9 466.4h0M787.4 508.8h0M770.1 477.2h0M774.4 471.8h0M801.0 450.1h0M745.7 488.4h0M765.9 456.8h0M779.9 488.7h0M772.7 505.8h0M766.2 531.8h0M750.5 449.1h0M766.0 530.0h0M737.4 480.5h0M774.0 467.7h0M775.7 487.5h0M779.3 507.9h0M777.1 509.8h0M721.8 481.7h0M793.0 506.1h0M777.1 510.4h0M759.4 528.6h0M774.2 475.4h0M784.9 471.9h0M771.2 456.6h0M776.8 525.1h0M770.1 464.3h0M751.2 470.8h0M754.4 473.7h0M804.6 478.8h0M786.5 451.1h0M776.3 463.0h0M757.9 478.0h0M775.2 464.9h0M801.1 470.4h0M798.5 474.3h0M767.5 498.2h0M809.6 469.0h0M801.1 492.7h0M766.8 491.3h0M781.7 485.7h0M769.9 509.2h0M743.4 519.1h0M774.9 494.4h0M748.0 482.4h0M768.8 500.9h0M771.5 497.0h0M770.5 478.3h0M800.4 450.9h0M772.8 473.4h0M715.8 501.5h0M751.8 478.1h0M794.6 477.4h0M782.8 478.0h0M758.1 482.8h0M764.9 507.4h0M797.1 452.2h0M716.5 476.8h0M742.1 528.6h0M753.7 454.8h0M746.4 458.5h0M749.1 518.3h0M744.5 470.0h0M763.4 473.3h0M773.7 471.2h0M738.4 476.1h0M780.8 460.9h0M749.7 498.3h0M764.6 500.6h0M695.7 498.7h0M781.8 486.7h0M748.3 460.6h0M739.3 505.4h0M751.8 483.0h0M780.1 504.8h0M723.0 476.2h0M741.7 461.4h0M797.6 510.1h0M751.1 508.3h0M747.0 488.6h0M789.7 444.0h0M769.6 495.0h0M765.2 462.3h0M763.6 486.5h0M767.6 503.4h0M743.5 489.0h0M770.8 475.6h0M760.9 476.2h0M763.2 488.4h0M762.9 487.8h0M761.5 483.6h0M734.0 460.0h0M807.0 456.0h0M765.0 516.3h0M798.1 472.3h0M750.3 506.8h0M726.0 488.0h0M725.4 513.2h0M740.5 468.0h0M804.0 466.8h0M792.6 470.8h0M791.8 471.6h0M737.3 500.1h0M703.5 501.2h0M767.4 483.0h0M774.9 483.9h0M772.9 495.2h0M806.2 503.7h0M782.7 479.6h0M772.8 491.1h0M771.1 494.5h0M784.2 502.2h0M763.0 516.8h0M719.5 493.5h0M724.2 536.3h0M769.5 484.5h0M778.6 489.4h0M747.3 456.8h0M752.6 488.6h0M744.7 481.7h0M732.8 456.9h0M780.2 501.1h0M738.8 487.3h0M795.8 509.9h0M796.1 493.5h0M745.6 483.9h0M762.1 472.9h0M748.1 475.8h0M782.9 472.6h0M785.7 465.8h0M800.8 501.0h0M791.1 473.7h0M776.0 461.9h0M764.3 467.1h0M775.0 499.4h0M787.4 498.2h0M758.7 507.9h0M756.2 492.2h0M779.2 450.9h0M748.1 475.0h0M769.3 482.1h0M737.4 524.6h0M768.2 471.1h0M757.7 453.1h0M788.3 487.2h0M707.5 521.4h0M813.8 476.5h0M715.7 475.8h0M798.9 492.4h0M795.2 461.5h0M796.3 487.7h0M781.5 473.5h0M767.2 464.3h0M785.1 455.6h0M796.9 455.0h0M791.6 480.8h0M745.2 492.9h0M750.2 506.8h0M748.1 509.2h0M776.5 502.2h0M785.1 435.9h0M739.7 459.8h0M764.8 498.4h0M729.2 480.7h0M770.7 486.4h0M757.3 483.6h0M719.4 509.0h0M756.2 496.9h0M782.6 490.7h0M767.8 468.6h0M712.3 526.1h0M785.2 444.7h0M782.2 467.9h0M756.2 469.5h0M724.7 495.8h0M753.9 494.1h0M760.5 506.0h0M744.2 490.4h0M772.7 471.2h0M772.6 491.7h0M771.7 493.8h0M723.8 476.4h0M732.0 487.5h0M759.7 472.3h0M782.1 468.0h0M747.8 523.4h0M792.3 463.5h0M712.3 520.6h0M743.8 495.7h0M737.7 493.9h0" stroke="#f3bf66" stroke-opacity="0.165" stroke-width="2.8" stroke-linecap="round" fill="none"/>
<path d="M779.9 465.1h0M774.6 483.8h0M783.3 489.9h0M727.6 511.7h0M773.6 456.7h0M784.5 442.1h0M782.3 496.7h0M741.3 462.0h0M783.6 455.3h0M762.3 510.0h0M765.7 504.3h0M770.0 497.0h0M777.5 498.9h0M741.9 469.7h0M754.7 477.3h0M745.1 501.6h0M802.3 480.0h0M799.7 449.5h0M752.7 501.3h0M799.1 482.6h0M723.4 480.6h0M791.1 458.0h0M721.6 529.1h0M747.1 518.6h0M769.7 482.3h0M765.3 494.9h0M780.7 483.7h0M801.4 510.2h0M774.3 501.7h0M772.7 477.4h0M767.8 464.1h0M732.7 496.0h0M784.1 473.8h0M796.9 507.0h0M743.7 480.8h0M731.1 507.7h0M755.3 453.9h0M778.1 491.8h0M772.7 471.5h0M778.4 464.1h0M731.8 485.4h0M768.1 449.7h0M737.8 504.6h0M738.5 507.6h0M749.5 456.8h0M746.9 479.4h0M807.0 481.7h0M729.5 497.2h0M782.1 485.2h0M745.3 521.2h0M775.8 488.7h0M734.3 492.9h0M778.3 477.1h0M778.7 520.3h0M774.7 468.8h0M814.1 474.5h0M737.8 498.6h0M697.5 489.8h0M758.8 449.6h0M740.6 489.9h0M747.2 519.9h0M771.1 481.3h0M762.9 461.1h0M719.9 496.8h0M765.3 470.4h0M773.1 491.7h0M766.7 492.8h0M729.7 479.9h0M811.3 478.6h0M745.9 514.6h0M726.0 499.8h0M725.1 471.7h0M759.7 522.2h0M794.0 451.2h0M773.1 457.7h0M754.8 474.2h0M763.0 458.4h0M742.3 476.0h0M757.7 505.0h0M758.0 489.7h0M747.0 475.8h0M744.1 486.2h0M744.0 469.9h0M775.0 503.9h0M784.6 479.8h0M699.1 504.0h0M731.3 487.6h0M795.9 503.0h0M774.9 499.4h0M792.4 486.4h0M800.9 476.7h0M757.0 501.7h0M734.4 504.3h0M725.6 517.9h0M756.1 465.2h0M765.3 505.9h0M731.5 506.7h0M783.7 503.3h0M774.1 506.7h0M779.5 508.7h0M712.1 523.3h0M753.4 462.9h0M723.1 499.8h0M747.4 483.3h0M780.9 510.2h0M723.6 475.8h0M737.6 478.5h0M772.6 507.5h0M764.5 454.7h0M755.6 471.9h0M767.0 476.1h0M742.0 535.7h0M766.7 485.5h0M789.4 495.7h0M773.8 488.8h0M769.5 458.5h0M778.3 476.3h0M768.3 462.8h0M781.4 478.3h0M789.4 488.0h0M782.8 507.1h0M785.7 508.9h0M770.7 453.2h0M771.5 495.3h0M763.2 468.6h0M788.8 513.1h0M770.3 476.4h0M730.9 493.0h0M727.7 481.9h0M758.0 467.6h0M752.2 475.6h0M785.1 480.9h0M742.2 456.6h0M790.8 482.5h0M783.3 492.1h0M782.3 478.8h0M710.1 490.7h0M768.3 496.4h0M769.5 493.0h0M798.5 465.2h0M778.1 508.5h0M781.4 507.5h0M789.7 454.9h0M758.5 476.2h0M766.5 491.2h0M785.1 488.4h0M728.7 487.8h0M754.3 486.2h0M766.0 479.2h0M795.3 512.4h0M771.4 490.3h0M766.0 485.9h0M770.4 491.2h0M787.3 493.5h0M772.0 483.4h0M768.7 500.9h0M774.4 455.0h0M732.7 481.6h0M776.8 485.5h0M753.8 471.2h0M805.8 507.1h0M714.6 507.3h0M739.1 501.8h0M757.9 474.8h0M783.6 486.2h0M746.6 462.8h0M698.1 486.7h0M782.1 438.9h0M797.1 464.9h0M797.3 473.3h0M751.9 524.9h0M777.6 488.5h0M721.4 487.1h0M762.1 516.2h0M737.0 498.7h0M741.9 485.8h0M794.9 471.6h0M760.6 465.0h0M768.1 495.2h0M768.0 469.0h0M767.1 463.5h0M756.4 483.5h0M776.4 493.7h0M767.0 501.4h0M749.7 481.0h0M777.9 478.1h0M779.7 495.3h0M804.6 506.2h0M783.3 483.7h0M751.8 484.4h0M776.6 471.8h0M698.9 494.1h0M778.1 490.9h0M744.8 482.6h0M773.8 457.2h0M756.2 491.6h0M765.9 490.4h0M772.9 473.8h0M758.1 494.6h0M779.1 452.1h0M761.7 486.4h0M743.3 506.4h0M751.9 463.8h0M744.3 531.5h0M755.3 456.5h0M779.9 513.6h0M806.3 461.1h0M786.9 492.4h0M722.8 500.7h0M773.0 467.4h0M741.5 505.2h0M784.8 458.6h0M814.8 488.5h0M781.4 481.2h0M729.6 495.2h0M731.1 491.4h0M795.8 465.6h0M795.7 480.2h0M725.0 475.7h0M767.4 478.3h0M743.5 450.6h0M753.4 473.4h0M753.4 476.9h0M723.9 496.4h0M765.5 477.2h0M745.4 495.6h0M763.1 465.7h0M782.3 484.7h0M773.9 492.8h0M780.4 513.1h0M766.9 491.3h0M744.9 486.4h0M801.9 492.4h0M773.1 488.6h0M768.9 466.3h0M768.4 512.6h0M771.4 455.5h0M782.0 432.2h0M797.9 481.2h0M765.1 494.9h0M748.6 456.3h0M764.9 491.8h0M768.8 472.0h0M747.3 480.1h0M764.5 512.6h0M769.3 470.0h0M764.0 514.6h0M772.9 478.7h0M738.0 495.5h0M771.0 476.1h0M777.0 511.1h0M800.1 483.6h0M780.8 476.8h0M798.2 477.5h0M779.7 435.1h0M782.6 431.2h0M785.6 485.1h0M746.5 497.5h0" stroke="#f3bf66" stroke-opacity="0.165" stroke-width="2.8" stroke-linecap="round" fill="none"/>
<path d="M520.4 509.8h0M584.1 528.0h0M645.8 563.5h0M581.1 490.2h0M521.3 518.8h0M587.0 494.3h0M555.2 572.4h0M596.9 509.4h0M639.0 505.1h0M636.9 455.5h0M539.7 508.4h0M577.5 549.3h0M568.5 484.5h0M677.5 513.6h0M590.5 504.0h0M678.0 540.4h0M599.0 481.5h0M598.3 546.5h0M650.9 516.5h0M551.5 508.8h0M561.9 460.0h0M618.5 544.1h0M558.8 549.9h0M502.6 526.9h0M625.0 520.3h0M649.8 526.6h0M559.5 500.3h0M569.4 531.5h0M617.0 550.7h0M580.6 574.8h0M545.3 515.5h0M607.7 535.7h0M595.6 552.3h0M578.6 521.0h0M616.6 547.1h0M659.3 536.4h0M588.2 495.7h0M645.0 513.0h0M523.0 490.8h0M530.4 490.0h0M578.7 580.3h0M658.3 534.8h0M521.2 523.3h0M654.0 557.3h0M650.0 535.1h0M558.8 498.2h0M612.5 543.3h0M537.5 563.7h0M631.3 523.4h0M563.2 481.2h0M640.3 510.4h0M605.6 538.0h0M667.6 525.2h0M533.7 465.7h0M542.6 532.6h0M617.9 466.7h0M657.0 532.4h0M584.1 537.2h0M650.6 547.9h0M545.8 528.1h0M622.9 542.3h0M544.6 528.6h0M646.2 480.0h0M596.5 496.8h0M643.4 521.5h0M618.5 509.0h0M548.8 470.0h0M554.9 560.1h0M638.8 471.6h0M526.7 497.7h0M544.0 515.9h0M562.2 557.0h0M559.3 518.1h0M547.9 515.9h0M571.2 477.3h0M517.1 541.6h0M586.0 473.1h0M680.3 496.2h0M618.7 503.0h0M600.0 570.8h0M538.8 487.3h0M566.7 476.9h0M544.8 478.4h0M635.9 530.9h0M530.9 485.8h0M587.4 502.7h0M586.3 498.0h0M585.4 505.6h0M651.5 527.4h0M543.0 537.1h0M558.9 580.6h0M629.8 511.6h0M653.4 528.0h0M629.0 514.2h0M641.5 537.9h0M597.1 539.0h0M571.3 552.5h0M603.4 483.9h0M652.7 547.7h0M592.5 543.3h0M637.1 527.1h0M554.7 543.2h0M525.5 485.7h0M570.5 541.3h0M567.6 549.0h0M556.6 461.9h0M547.9 546.6h0M568.2 507.0h0M624.6 503.4h0M541.5 555.8h0M589.8 547.1h0M628.6 458.5h0M650.2 465.3h0M528.3 518.2h0M620.2 510.4h0M533.1 564.6h0M508.5 530.5h0M647.7 561.2h0M661.9 495.1h0M565.2 499.8h0M666.5 541.7h0M518.2 509.1h0M553.2 487.5h0M585.5 471.1h0M565.3 557.7h0M620.5 534.8h0M513.6 509.0h0M612.7 555.3h0M540.2 543.6h0M567.0 535.2h0M584.0 546.8h0M587.9 522.8h0M661.1 542.4h0M519.2 493.4h0M539.2 508.6h0M636.1 527.3h0M674.6 527.7h0M550.8 576.5h0M628.0 488.9h0M558.1 517.5h0M552.5 488.8h0M600.4 525.9h0M550.5 512.6h0M569.9 506.8h0M603.0 502.0h0M622.9 571.5h0M593.5 481.7h0M609.9 542.9h0M607.6 532.0h0M529.2 498.2h0M621.5 539.2h0M523.8 505.9h0M631.6 503.4h0M554.0 546.6h0M586.4 572.5h0M540.5 570.7h0M584.8 494.0h0M602.6 489.2h0M615.1 468.3h0M614.5 536.7h0M504.4 519.8h0M566.4 574.5h0M518.2 502.5h0M620.4 462.8h0M623.2 523.0h0M645.1 544.8h0M571.1 573.6h0M637.7 477.0h0M528.0 494.8h0M609.7 531.1h0M613.4 459.7h0M651.5 528.6h0M568.5 536.1h0M612.5 509.7h0M627.8 468.5h0M619.5 478.4h0M618.0 520.0h0M586.5 534.2h0M582.8 521.4h0M661.3 552.5h0M582.4 454.0h0M538.3 514.2h0M640.2 487.6h0M614.2 484.4h0M591.4 540.3h0M652.5 497.3h0M627.2 472.1h0M576.8 472.5h0M619.2 514.7h0M623.2 567.2h0M635.9 503.4h0M618.6 546.9h0M609.7 519.3h0M667.4 521.8h0M647.8 511.6h0M568.7 524.2h0M636.3 464.9h0M582.4 527.7h0M591.1 492.0h0M632.9 503.8h0M563.9 483.6h0M668.3 528.0h0M656.1 552.0h0M651.8 499.1h0M629.1 460.4h0M664.2 562.4h0M552.9 486.4h0M673.6 531.8h0M594.7 533.4h0M606.5 520.4h0M557.1 464.1h0M678.7 508.5h0M570.9 529.9h0M615.5 580.7h0M566.0 465.9h0M618.3 545.6h0M588.3 494.1h0M519.5 514.1h0M548.0 487.9h0M570.0 513.2h0M610.2 541.1h0M612.8 539.1h0M587.9 502.6h0M601.1 540.0h0M634.5 560.3h0M519.9 485.9h0M544.5 478.5h0M569.7 512.1h0M593.4 536.6h0M597.9 533.2h0M588.0 521.9h0M590.4 503.2h0M608.3 498.2h0M536.2 515.3h0M594.3 468.0h0M672.6 507.5h0M614.6 482.4h0M637.6 468.8h0M639.3 523.9h0M622.9 509.0h0M574.2 574.0h0M629.7 513.8h0M650.8 500.8h0M530.2 492.7h0M574.5 463.4h0M607.6 506.1h0M563.0 504.1h0M516.6 532.5h0M615.4 522.5h0M539.4 461.4h0M616.3 495.7h0M621.1 530.1h0M547.1 513.5h0M531.1 546.2h0M604.7 565.6h0M564.5 514.9h0M615.3 553.6h0M623.3 498.6h0M649.5 483.8h0M509.8 530.5h0M626.4 558.2h0M605.2 548.9h0M542.6 504.3h0M519.4 510.1h0M590.4 532.2h0M542.3 541.1h0M589.5 479.4h0M562.4 482.2h0M607.6 505.1h0M552.6 535.7h0M579.0 556.7h0M671.7 546.2h0M639.2 464.8h0M547.7 493.1h0M648.1 512.9h0M579.9 481.2h0M618.8 452.8h0M572.5 539.0h0M638.9 549.7h0M660.6 550.0h0M521.4 531.4h0M615.9 515.6h0M557.6 537.7h0M612.1 494.1h0M658.5 514.8h0M601.4 454.4h0M582.4 553.4h0M584.2 470.4h0M608.3 553.0h0M605.3 471.8h0M534.1 549.3h0M580.7 559.5h0M608.9 565.8h0M663.0 491.5h0M624.2 489.7h0M607.3 560.6h0M594.4 538.0h0M510.3 545.3h0M576.4 545.3h0M567.3 534.2h0" stroke="#f29a84" stroke-opacity="0.15" stroke-width="2.7" stroke-linecap="round" fill="none"/>
<path d="M592.5 552.9h0M648.5 559.3h0M626.6 519.2h0M598.0 527.7h0M660.6 528.2h0M539.6 530.5h0M606.2 464.9h0M544.4 511.2h0M638.7 464.4h0M587.0 474.5h0M609.0 565.6h0M643.0 467.9h0M597.2 473.8h0M615.0 537.1h0M605.3 495.5h0M569.6 465.5h0M594.9 485.9h0M610.4 480.5h0M655.2 567.1h0M519.9 528.7h0M608.2 550.4h0M622.6 490.3h0M664.7 534.3h0M561.5 456.7h0M628.1 455.2h0M622.1 549.4h0M555.1 546.9h0M552.7 520.7h0M531.2 490.5h0M620.2 471.9h0M643.7 510.2h0M626.2 487.9h0M662.6 536.5h0M528.9 475.0h0M625.8 555.0h0M544.1 495.2h0M586.2 576.9h0M615.3 560.0h0M610.1 482.6h0M538.5 510.3h0M590.2 536.7h0M573.1 450.6h0M632.3 542.8h0M596.7 499.7h0M601.5 521.1h0M571.5 508.7h0M535.9 476.1h0M570.8 522.3h0M545.9 563.5h0M608.2 546.0h0M585.1 480.2h0M632.6 462.8h0M568.4 467.1h0M641.5 465.7h0M544.9 514.9h0M602.7 552.4h0M595.2 539.4h0M615.1 454.8h0M624.9 537.3h0M509.7 505.1h0M536.3 550.3h0M575.8 510.3h0M642.8 518.1h0M568.1 489.2h0M582.2 458.1h0M578.8 493.5h0M649.6 528.3h0M525.8 491.5h0M581.4 513.8h0M538.1 512.5h0M613.1 468.9h0M580.3 535.6h0M641.9 520.4h0M602.8 506.2h0M657.6 496.2h0M581.2 530.3h0M517.1 496.1h0M585.2 502.2h0M648.4 533.7h0M578.9 519.8h0M667.7 540.6h0M617.3 507.0h0M579.4 500.2h0M602.5 459.3h0M590.7 534.8h0M556.6 459.3h0M635.3 567.7h0M635.7 496.6h0M543.3 541.2h0M588.1 533.2h0M551.4 501.7h0M587.7 463.6h0M607.2 547.0h0M637.3 477.4h0M575.6 476.3h0M554.1 477.3h0M627.4 519.7h0M645.2 516.9h0M581.6 559.3h0M638.2 508.3h0M607.8 547.8h0M517.6 493.3h0M619.0 488.0h0M563.8 462.2h0M576.8 531.6h0M666.2 481.7h0M603.1 566.4h0M583.9 534.9h0M581.7 493.3h0M583.6 578.0h0M561.8 478.4h0M594.8 500.3h0M584.0 528.7h0M585.9 507.8h0M614.3 484.6h0M569.8 522.3h0M610.1 560.9h0M602.4 488.1h0M635.0 478.4h0M608.7 469.5h0M618.3 499.9h0M592.6 492.4h0M600.4 558.6h0M678.7 508.3h0M550.5 500.2h0M541.7 539.7h0M605.8 462.7h0M638.0 481.8h0M635.9 490.6h0M627.8 533.3h0M646.4 567.3h0M570.1 539.5h0M586.2 533.6h0M571.0 515.5h0M664.3 516.7h0M555.7 546.7h0M564.9 499.1h0M616.4 579.5h0M550.4 547.8h0M520.1 534.3h0M533.7 495.8h0M667.8 514.2h0M656.5 531.1h0M638.0 569.9h0M650.3 523.0h0M619.2 542.7h0M645.2 507.5h0M647.7 505.4h0M639.4 562.1h0M570.6 567.1h0M620.0 547.3h0M601.4 505.5h0M600.8 494.9h0M647.4 514.2h0M573.6 552.8h0M560.6 513.1h0M619.6 463.4h0M621.6 538.3h0M604.4 554.9h0M560.3 550.8h0M612.9 544.4h0M581.4 526.6h0M651.3 555.8h0M568.2 560.5h0M624.7 523.1h0M643.1 468.7h0M618.7 524.1h0M525.5 547.2h0M594.6 486.1h0M545.5 521.5h0M665.3 540.1h0M650.8 474.1h0M654.8 545.3h0M611.2 478.4h0M538.8 558.3h0M645.0 490.9h0M657.0 542.6h0M619.2 568.3h0M648.8 549.4h0M662.7 496.2h0M601.5 544.3h0M527.2 539.2h0M581.3 485.5h0M602.0 476.2h0M615.2 492.2h0M601.8 494.8h0M584.9 506.1h0M652.6 552.2h0M534.9 519.4h0M534.8 481.8h0M673.4 546.3h0M671.3 508.2h0M589.2 475.6h0M562.7 483.1h0M650.5 534.5h0M541.6 479.7h0M627.2 480.9h0M643.6 553.6h0M556.7 576.2h0M663.2 486.2h0M626.9 537.5h0M560.3 551.1h0M524.9 509.0h0M627.2 551.6h0M580.8 534.9h0M604.1 456.7h0M546.5 491.4h0M557.8 497.2h0M631.2 532.7h0M519.8 538.1h0M540.5 563.2h0M647.8 504.5h0M517.4 535.6h0M552.2 518.9h0M608.2 558.4h0M665.1 490.6h0M661.1 503.5h0M523.7 478.3h0M600.9 502.3h0M592.7 486.7h0M532.0 523.3h0M579.2 520.6h0M570.9 541.5h0M644.1 543.4h0M640.3 472.9h0M544.4 516.7h0M580.0 472.1h0M535.3 550.2h0M618.4 580.9h0M546.0 459.8h0M561.2 570.3h0M591.2 466.9h0M607.4 527.9h0M615.2 493.0h0M591.0 489.3h0M578.0 499.0h0M585.2 530.3h0M619.1 521.7h0M640.2 545.6h0M631.0 525.4h0M575.1 487.2h0M580.0 510.7h0M618.2 539.1h0M598.9 536.5h0M627.3 482.1h0M578.9 555.9h0M668.0 543.2h0M636.5 545.8h0M575.5 491.2h0M546.2 573.6h0M530.3 501.2h0M527.4 531.6h0M544.5 506.8h0M593.9 448.7h0M595.7 480.6h0M566.2 498.2h0M600.3 560.5h0M663.9 547.9h0M576.7 521.3h0M615.5 535.0h0M588.2 539.8h0M558.1 549.8h0M661.4 543.6h0M586.1 521.3h0M619.8 459.1h0M581.3 503.7h0M566.2 530.5h0M625.8 488.2h0M574.7 525.5h0M536.8 512.0h0M509.9 508.3h0M649.1 473.0h0M646.5 489.2h0M612.4 479.0h0M610.8 517.4h0M581.6 465.8h0M591.2 507.1h0M635.0 533.4h0M614.5 551.3h0M504.9 512.2h0M640.0 488.1h0M558.3 516.5h0M572.3 505.7h0M659.8 529.7h0M561.7 574.1h0M568.5 452.7h0M594.0 470.6h0M620.7 530.0h0M541.5 528.6h0M515.8 553.4h0M597.4 543.4h0M581.8 526.3h0M600.8 446.0h0M646.2 490.2h0M663.7 489.9h0M637.0 471.4h0M541.9 468.0h0M588.6 491.7h0M624.5 577.9h0M572.3 550.0h0" stroke="#f29a84" stroke-opacity="0.15" stroke-width="2.7" stroke-linecap="round" fill="none"/>
<path d="M675.4 504.6h0M590.1 489.1h0M578.6 567.3h0M658.8 556.4h0M567.8 530.8h0M628.0 538.2h0M631.4 461.8h0M654.1 552.9h0M530.7 516.3h0M593.0 530.4h0M560.4 499.2h0M606.6 549.6h0M624.6 539.3h0M595.1 562.4h0M578.1 499.9h0M654.4 484.8h0M560.2 539.5h0M567.8 448.0h0M636.1 542.3h0M545.7 509.9h0M562.5 526.4h0M516.6 542.8h0M519.9 493.3h0M584.8 552.6h0M587.1 515.3h0M575.4 500.6h0M554.6 485.7h0M539.6 556.7h0M615.5 510.6h0M500.7 516.9h0M576.7 524.7h0M606.5 573.2h0M650.3 530.0h0M564.6 576.6h0M613.2 539.5h0M584.6 491.3h0M586.1 470.9h0M633.9 513.5h0M539.5 484.2h0M539.3 533.3h0M539.0 489.6h0M574.7 568.0h0M673.2 511.9h0M566.8 521.2h0M579.6 505.6h0M577.8 561.1h0M610.4 467.7h0M667.1 500.1h0M522.9 533.2h0M647.4 485.2h0M584.4 558.2h0M535.9 507.4h0M652.3 551.0h0M600.2 561.0h0M634.5 520.3h0M679.3 502.2h0M516.2 545.7h0M665.9 529.5h0M638.9 476.4h0M583.4 519.0h0M595.1 454.7h0M595.4 531.0h0M654.1 528.8h0M658.5 470.0h0M591.1 483.2h0M625.1 545.6h0M546.0 537.1h0M645.0 521.1h0M603.8 499.0h0M505.9 494.2h0M620.0 476.0h0M621.3 505.9h0M524.3 515.3h0M639.1 566.5h0M541.9 540.5h0M597.4 500.9h0M610.3 512.8h0M653.6 550.2h0M599.6 547.7h0M576.0 527.6h0M625.4 513.7h0M559.8 549.2h0M632.3 552.6h0M653.6 535.8h0M553.1 481.2h0M656.3 490.1h0M625.3 488.0h0M580.9 564.8h0M582.8 539.1h0M536.4 488.0h0M575.3 561.7h0M613.1 479.0h0M613.5 476.4h0M537.6 494.8h0M556.9 545.2h0M564.7 480.5h0M588.3 535.0h0M547.1 470.7h0M531.4 513.3h0M577.1 450.8h0M568.9 484.9h0M627.6 474.5h0M565.2 550.6h0M656.9 502.8h0M527.3 544.6h0M645.1 495.2h0M641.3 516.9h0M579.6 484.4h0M546.6 520.7h0M595.4 536.8h0M556.9 497.9h0M614.2 554.4h0M601.8 511.8h0M627.1 488.3h0M590.2 559.3h0M585.1 541.8h0M555.8 552.4h0M622.0 496.1h0M558.2 465.9h0M669.7 537.0h0M569.8 482.7h0M572.8 527.7h0M587.5 507.6h0M604.0 524.8h0M635.2 521.9h0M598.6 505.8h0M661.3 538.2h0M559.4 490.9h0M615.4 475.8h0M550.6 520.3h0M646.6 465.3h0M644.8 529.7h0M669.6 480.6h0M530.4 496.6h0M576.2 527.1h0M533.3 517.9h0M543.3 552.6h0M611.3 510.1h0M564.4 468.1h0M553.0 516.5h0M561.4 533.9h0M593.3 460.0h0M679.2 508.7h0M670.1 526.8h0M537.4 569.7h0M641.3 530.6h0M624.7 481.2h0M595.9 503.2h0M555.8 494.5h0M549.8 563.5h0M609.3 534.6h0M630.6 522.5h0M552.6 538.0h0M556.2 549.6h0M572.8 454.8h0M542.0 560.7h0M623.8 552.3h0M657.9 508.8h0M569.4 516.3h0M652.2 564.7h0M625.2 526.2h0M604.5 473.5h0M591.6 518.3h0M522.6 555.7h0M514.6 529.2h0M619.0 506.8h0M639.5 518.9h0M647.6 471.2h0M542.3 480.9h0M619.0 567.6h0M580.5 453.8h0M539.7 530.0h0M616.4 490.9h0M612.5 513.0h0M504.5 518.4h0M525.9 548.8h0M552.1 468.0h0M655.6 521.2h0M639.4 513.7h0M617.3 451.1h0M592.4 545.3h0M566.1 471.2h0M630.1 547.0h0M669.5 506.9h0M562.1 467.9h0M546.5 521.0h0M672.7 516.3h0M556.6 553.5h0M603.5 577.1h0M641.5 543.1h0M620.6 472.7h0M566.0 486.4h0M574.9 507.6h0M624.3 559.7h0M589.6 465.8h0M584.3 508.4h0M525.0 510.6h0M637.3 514.9h0M615.2 491.2h0M567.5 534.9h0M519.3 528.5h0M638.1 494.9h0M616.0 581.1h0M644.1 474.8h0M598.1 450.1h0M650.8 502.5h0M634.9 489.2h0M537.5 494.9h0M561.4 468.6h0M520.0 534.7h0M645.4 533.6h0M602.4 524.9h0M632.1 571.0h0M628.2 511.5h0M623.1 546.9h0M567.5 457.3h0M658.8 500.1h0M607.7 528.1h0M527.6 498.7h0M608.5 456.2h0M635.3 496.6h0M553.8 521.2h0M591.6 552.5h0M654.7 514.6h0M617.5 481.9h0M560.7 536.9h0M659.2 558.6h0M537.9 544.6h0M561.4 525.2h0M584.9 524.2h0M579.6 522.7h0M596.5 577.2h0M562.2 469.1h0M539.6 520.3h0M542.0 517.0h0M526.0 536.2h0M590.4 478.9h0M647.2 509.4h0M546.1 492.7h0M532.5 532.8h0M580.3 485.0h0M582.3 549.6h0M643.9 479.2h0M645.6 487.7h0M629.3 493.3h0M592.8 496.6h0M679.9 503.5h0M608.6 518.4h0M590.8 500.4h0M562.0 564.2h0M649.7 525.5h0M526.0 505.7h0M573.7 517.4h0M588.2 535.3h0M650.9 526.8h0M620.8 516.0h0M669.8 512.5h0M608.0 474.1h0M644.1 481.2h0M557.6 543.9h0M648.7 470.4h0M679.6 520.9h0M592.4 474.1h0M626.2 491.5h0M590.3 552.4h0M618.7 552.1h0M675.3 530.0h0M556.9 557.6h0M520.8 528.4h0M609.8 513.7h0M604.0 544.3h0M634.9 535.8h0M625.7 492.0h0M552.5 543.2h0M643.5 502.7h0M607.8 542.5h0M633.3 545.2h0M616.1 548.0h0M613.8 472.2h0M545.9 571.4h0M598.6 564.7h0M608.5 577.7h0M571.2 534.3h0M590.5 586.9h0M567.6 463.4h0M508.8 520.4h0M662.5 524.6h0M559.2 489.7h0M583.2 562.2h0M548.9 559.4h0M576.7 461.6h0M584.5 481.0h0M537.1 511.7h0M622.9 502.9h0M661.1 526.8h0M627.0 508.7h0M638.4 499.2h0M565.9 530.2h0M536.1 555.9h0M529.8 511.0h0" stroke="#f29a84" stroke-opacity="0.15" stroke-width="2.7" stroke-linecap="round" fill="none"/>
<path d="M646.2 489.6h0M646.1 533.5h0M553.7 516.9h0M659.6 544.2h0M637.5 468.0h0M522.9 502.5h0M572.1 512.7h0M632.7 546.6h0M571.0 553.0h0M601.0 542.2h0M618.5 558.4h0M638.2 514.6h0M658.7 531.8h0M567.3 494.2h0M589.6 527.5h0M663.2 531.4h0M644.5 485.2h0M572.0 530.8h0M665.7 533.9h0M633.5 454.1h0M574.6 488.1h0M614.6 499.1h0M580.1 572.8h0M583.3 504.4h0M543.3 480.1h0M658.9 498.2h0M675.4 503.8h0M666.5 509.9h0M526.4 545.2h0M648.5 560.6h0M597.8 506.3h0M545.2 487.6h0M575.3 565.1h0M590.8 564.3h0M619.5 554.9h0M627.8 498.0h0M585.4 555.7h0M621.7 494.0h0M647.2 486.0h0M564.6 541.9h0M578.5 502.3h0M590.6 474.6h0M652.4 515.3h0M556.5 478.9h0M557.8 496.9h0M601.1 522.2h0M594.7 558.4h0M608.3 474.5h0M572.0 553.4h0M548.8 499.3h0M542.8 567.8h0M633.0 559.6h0M635.9 541.7h0M641.0 504.5h0M548.9 512.4h0M578.8 451.4h0M641.4 484.8h0M557.8 514.9h0M595.5 494.2h0M627.7 557.9h0M644.3 486.9h0M667.6 517.2h0M540.6 537.5h0M616.9 517.1h0M581.5 483.1h0M577.7 481.4h0M618.0 509.4h0M605.3 515.0h0M562.3 520.1h0M523.9 517.7h0M537.9 535.5h0M535.4 495.5h0M612.5 556.2h0M564.1 537.3h0M547.0 509.4h0M516.1 520.3h0M588.7 540.8h0M548.5 502.1h0M553.5 519.3h0M580.2 485.1h0M547.8 539.0h0M671.1 536.0h0M571.0 502.7h0M625.2 455.5h0M580.8 470.7h0M596.8 528.1h0M559.5 492.6h0M555.3 504.4h0M562.7 484.5h0M519.1 525.6h0M613.0 452.1h0M585.9 581.1h0M504.8 517.7h0M644.0 457.9h0M609.5 535.1h0M606.9 497.0h0M632.0 526.8h0M590.7 538.5h0M568.4 534.2h0M653.3 520.8h0M579.8 509.6h0M529.1 513.1h0M607.9 494.9h0M531.8 567.6h0M606.6 578.7h0M647.2 537.0h0M560.9 482.7h0M582.1 499.3h0M580.5 531.8h0M569.6 460.1h0M558.0 495.4h0M587.4 546.3h0M525.5 564.8h0M560.3 552.0h0M636.7 542.0h0M529.3 483.9h0M587.7 505.4h0M570.5 481.6h0M600.4 565.3h0M558.0 556.8h0M575.8 561.0h0M543.7 462.2h0M643.3 481.3h0M595.3 492.8h0M629.1 553.5h0M599.4 527.4h0M629.6 527.0h0M623.0 551.9h0M604.5 470.6h0M662.4 530.3h0M629.4 520.0h0M641.4 555.6h0M547.1 504.2h0M617.8 543.8h0M535.1 477.5h0M558.4 572.5h0M644.4 513.0h0M548.9 475.6h0M570.5 540.6h0M636.7 491.3h0M552.0 485.0h0M639.0 538.6h0M612.3 509.4h0M565.2 533.2h0M530.5 483.4h0M649.2 471.6h0M638.4 499.8h0M578.8 558.4h0M584.9 565.1h0M567.1 536.0h0M658.6 506.8h0M623.4 518.1h0M594.9 483.4h0M665.9 514.1h0M662.7 528.0h0M652.7 496.9h0M535.2 476.7h0M588.4 493.3h0M600.6 491.5h0M611.7 554.8h0M650.2 557.2h0M625.9 544.2h0M593.2 450.2h0M620.8 499.7h0M566.3 565.4h0M626.2 532.7h0M542.4 483.7h0M593.1 516.6h0M560.8 533.2h0M588.1 524.4h0M644.5 512.6h0M634.9 474.5h0M624.7 568.6h0M659.1 506.3h0M641.0 577.1h0M656.5 549.4h0M608.2 494.2h0M588.9 564.5h0M614.4 564.4h0M562.2 461.7h0M630.5 487.8h0M654.9 499.9h0M621.2 523.6h0M521.5 499.9h0M547.4 504.6h0M592.9 571.8h0M601.4 449.8h0M523.0 492.8h0M639.8 547.0h0M637.9 489.1h0M557.0 510.6h0M656.6 537.9h0M579.1 568.9h0M523.3 519.2h0M520.4 530.5h0M634.5 553.2h0M557.9 516.1h0M599.7 569.5h0M618.9 537.1h0M616.6 548.1h0M550.9 468.7h0M665.2 519.4h0M599.3 539.9h0M527.8 474.8h0M679.3 522.5h0M632.5 576.1h0M619.9 493.1h0M642.3 552.7h0M614.0 472.0h0M556.9 486.4h0M582.4 465.8h0M602.3 523.2h0M672.6 549.2h0M646.3 545.8h0M651.7 556.0h0M559.9 547.6h0M593.8 546.1h0M668.9 527.8h0M636.1 569.3h0M582.3 501.9h0M615.5 576.5h0M591.9 495.7h0M616.6 471.0h0M528.8 543.5h0M557.9 479.5h0M559.0 579.4h0M631.7 517.1h0M659.1 540.9h0M606.4 498.4h0M590.4 542.8h0M636.4 478.0h0M555.3 483.8h0M582.1 569.1h0M583.5 505.8h0M587.1 564.6h0M548.2 463.6h0M607.1 584.4h0M595.5 496.1h0M515.8 544.5h0M626.9 552.6h0M521.2 524.4h0M567.0 489.3h0M646.0 497.4h0M624.8 541.0h0M591.9 539.6h0M591.7 534.1h0M621.7 486.6h0M648.3 522.0h0M678.4 519.7h0M663.5 512.3h0M523.8 484.7h0M630.1 520.8h0M577.7 498.2h0M520.1 499.8h0M556.7 458.6h0M524.7 501.1h0M622.1 539.2h0M605.3 570.0h0M647.6 514.3h0M571.4 467.5h0M612.8 487.7h0M595.9 565.8h0M544.6 532.2h0M630.5 483.2h0M576.7 494.8h0M595.8 474.9h0M555.1 553.7h0M611.2 498.6h0M564.2 482.5h0M660.7 483.7h0M514.2 516.6h0M532.2 498.9h0M661.9 510.2h0M576.4 504.4h0M601.0 528.5h0M622.4 495.3h0M611.7 468.3h0M657.1 557.6h0M638.0 464.4h0M577.3 474.5h0M607.1 578.8h0M552.5 575.7h0M597.0 532.9h0M641.2 491.1h0M611.8 465.8h0M634.6 483.6h0M542.2 514.0h0M590.4 539.2h0M528.7 476.1h0M610.2 495.6h0M662.8 527.4h0M563.5 477.3h0M687.7 525.8h0M663.6 529.3h0M572.4 523.1h0M623.0 521.3h0M550.6 539.2h0M659.2 489.0h0M548.9 469.7h0M566.7 457.2h0" stroke="#f29a84" stroke-opacity="0.15" stroke-width="2.7" stroke-linecap="round" fill="none"/>
<path d="M574.3 494.9h0M568.2 461.8h0M630.8 496.4h0M550.1 480.2h0M584.8 498.2h0M674.4 502.6h0M592.2 477.2h0M608.3 519.3h0M567.7 513.8h0M552.8 568.0h0M657.6 555.3h0M578.4 581.9h0M556.8 506.3h0M622.2 496.8h0M642.9 523.4h0M550.6 511.9h0M659.1 516.3h0M667.3 481.0h0M614.8 480.5h0M582.5 562.2h0M541.0 553.0h0M595.9 498.9h0M565.7 492.6h0M614.3 480.1h0M560.7 564.6h0M565.6 492.2h0M575.6 576.2h0M624.8 528.4h0M563.4 480.7h0M598.9 527.4h0M628.7 541.1h0M555.2 578.5h0M516.2 479.5h0M565.3 493.3h0M626.1 543.1h0M584.3 500.7h0M649.2 498.3h0M653.3 550.4h0M565.6 565.1h0M568.4 479.6h0M635.0 541.4h0M566.9 540.9h0M594.7 478.2h0M539.5 489.5h0M607.2 533.6h0M574.0 517.1h0M593.5 560.2h0M597.1 515.4h0M549.0 540.2h0M623.2 522.7h0M615.2 486.6h0M647.6 519.5h0M609.7 483.0h0M613.4 566.8h0M558.0 571.6h0M500.8 512.3h0M632.2 470.8h0M549.0 566.0h0M607.3 464.9h0M625.4 486.9h0M567.1 498.9h0M588.1 568.1h0M578.9 500.6h0M677.4 526.5h0M593.1 453.7h0M574.2 500.8h0M647.7 547.1h0M599.0 531.3h0M522.9 541.7h0M592.1 518.5h0M548.9 567.5h0M628.1 567.0h0M601.8 532.6h0M593.7 559.6h0M562.1 521.7h0M590.1 564.5h0M535.5 480.1h0M533.4 495.4h0M578.3 545.7h0M538.5 500.9h0M554.4 515.4h0M574.4 530.0h0M578.2 471.2h0M649.9 534.3h0M632.0 539.3h0M582.9 480.6h0M564.7 530.7h0M540.0 475.5h0M604.2 521.4h0M636.0 568.0h0M586.0 481.1h0M554.5 502.4h0M626.2 486.1h0M543.6 461.3h0M596.8 489.5h0M584.8 525.0h0M568.6 530.8h0M612.1 517.9h0M556.6 513.9h0M538.7 506.3h0M630.7 544.6h0M622.7 484.0h0M528.9 540.8h0M637.2 513.6h0M647.6 519.8h0M676.7 523.2h0M546.4 483.6h0M572.3 508.8h0M655.5 494.3h0M604.7 506.2h0M615.5 478.7h0M603.2 484.4h0M557.7 534.7h0M687.1 526.9h0M560.9 456.8h0M596.2 465.6h0M646.9 516.2h0M556.0 534.8h0M568.4 503.4h0M618.7 526.2h0M612.1 546.5h0M577.5 472.1h0M607.3 507.7h0M588.5 467.3h0M650.4 498.9h0M629.7 466.4h0M597.2 552.8h0M664.0 486.9h0M580.4 530.0h0M529.6 562.8h0M658.2 548.2h0M552.0 551.0h0M607.8 458.9h0M562.5 577.0h0M666.5 548.0h0M539.3 511.4h0M627.0 496.1h0M516.2 510.8h0M629.0 557.7h0M573.4 481.5h0M541.6 520.9h0M591.8 532.6h0M542.4 502.1h0M596.7 513.8h0M676.0 501.1h0M534.9 466.6h0M573.7 523.7h0M547.0 566.4h0M594.5 493.5h0M612.6 527.2h0M594.1 542.2h0M530.0 529.0h0M608.5 539.3h0M576.9 480.0h0M624.5 539.0h0M600.5 514.4h0M563.6 484.5h0M544.1 475.3h0M624.0 463.2h0M530.9 529.2h0M575.3 516.7h0M574.3 458.7h0M567.4 466.5h0M609.9 532.7h0M507.9 534.3h0M548.9 514.2h0M616.4 482.1h0M617.0 495.9h0M572.0 484.5h0M510.5 519.7h0M588.3 555.9h0M556.1 504.8h0M593.0 506.3h0M634.8 535.4h0M595.4 517.5h0M592.1 484.9h0M517.2 522.0h0M618.7 515.6h0M599.6 556.8h0M669.8 522.4h0M556.9 531.5h0M614.0 491.4h0M541.4 519.3h0M617.7 526.1h0M596.2 461.3h0M591.2 514.4h0M601.5 512.0h0M525.0 507.4h0M563.1 504.2h0M523.2 540.5h0M578.1 554.6h0M534.1 480.9h0M574.4 468.6h0M627.4 490.2h0M625.9 520.3h0M543.7 561.2h0M623.9 474.2h0M519.8 498.4h0M593.7 533.2h0M612.9 499.7h0M653.7 497.1h0M634.9 533.4h0M560.2 523.9h0M577.8 512.3h0M643.7 476.3h0M533.2 510.1h0M649.7 535.8h0M588.7 446.7h0M614.3 512.8h0M557.3 465.2h0M584.4 525.3h0M650.4 508.5h0M632.6 560.4h0M564.0 516.1h0M648.4 556.0h0M580.9 450.7h0M563.2 531.1h0M568.7 516.5h0M534.7 561.4h0M633.1 475.1h0M572.9 509.5h0M558.9 538.7h0M582.0 490.6h0M509.7 542.9h0M578.1 492.3h0M545.3 522.8h0M549.9 474.7h0M561.9 484.2h0M670.1 518.9h0M609.2 500.2h0M531.1 501.5h0M584.0 460.5h0M556.8 508.8h0M637.9 507.9h0M541.5 524.2h0M622.3 502.8h0M575.9 534.7h0M557.5 450.0h0M650.9 517.1h0M604.7 516.8h0M584.7 498.2h0M556.2 510.4h0M545.0 571.1h0M573.3 574.9h0M572.6 494.5h0M639.1 521.4h0M574.4 511.0h0M556.4 538.0h0M604.5 485.7h0M564.1 539.2h0M569.7 531.7h0M628.6 466.8h0M556.8 460.8h0M591.0 519.3h0M604.7 560.9h0M534.1 536.7h0M547.2 524.8h0M579.4 573.9h0M637.9 530.6h0M560.7 483.1h0M641.5 542.5h0M661.7 538.4h0M565.6 476.7h0M609.2 512.1h0M570.1 540.4h0M569.8 483.9h0M541.9 480.4h0M607.5 465.0h0M604.6 532.0h0M559.9 521.4h0M555.1 557.8h0M679.2 532.5h0M536.7 553.9h0M625.5 519.3h0M632.5 568.3h0M552.1 526.2h0M598.3 474.0h0M543.0 489.0h0M636.6 508.4h0M643.5 525.4h0M525.8 482.8h0M627.4 523.8h0M635.6 503.6h0M531.2 489.2h0M558.7 551.5h0M652.2 563.4h0M526.7 563.8h0M547.7 499.1h0M514.8 517.8h0M644.4 522.6h0M554.2 554.5h0M616.8 550.7h0M562.7 502.6h0M517.4 488.6h0M538.5 512.5h0M636.9 461.1h0M599.9 535.6h0M614.1 508.2h0M522.7 543.0h0M553.1 572.2h0" stroke="#f29a84" stroke-opacity="0.15" stroke-width="2.7" stroke-linecap="round" fill="none"/>
<path d="M690.2 472.4h0M699.0 537.1h0M663.0 556.5h0M684.1 533.8h0M669.4 458.3h0M473.5 322.2h0M662.7 441.5h0M498.8 327.3h0M697.6 535.3h0M675.4 516.4h0M688.6 504.3h0M687.8 540.5h0M664.0 511.3h0" stroke="#f0a090" stroke-opacity="0.08" stroke-width="2.6" stroke-linecap="round" fill="none"/>
<path d="M678.0 501.0h0M669.3 472.1h0M672.3 357.0h0M695.9 463.0h0M672.8 504.9h0M628.4 392.4h0M674.9 556.0h0M701.8 493.6h0M659.1 531.6h0M684.0 488.8h0M659.2 457.1h0M698.0 489.0h0M535.6 313.5h0" stroke="#f0a090" stroke-opacity="0.08" stroke-width="2.6" stroke-linecap="round" fill="none"/>
<path d="M660.8 464.9h0M688.4 525.3h0M680.7 517.6h0M677.5 537.7h0M707.0 386.9h0M708.3 509.3h0M704.5 487.5h0M659.4 507.8h0M693.3 467.1h0M704.3 474.2h0M662.4 525.0h0M683.1 555.9h0M692.0 436.7h0" stroke="#f0a090" stroke-opacity="0.08" stroke-width="2.6" stroke-linecap="round" fill="none"/>
<path d="M666.7 454.2h0M660.1 445.8h0M680.2 493.1h0M693.3 474.7h0M700.0 480.6h0M667.7 537.2h0M667.4 469.7h0M703.3 520.9h0M693.0 526.0h0M680.9 531.0h0M661.7 525.6h0M714.3 521.5h0" stroke="#f0a090" stroke-opacity="0.08" stroke-width="2.6" stroke-linecap="round" fill="none"/>
<path d="M471.8 324.7h0M661.3 443.5h0M703.2 491.4h0M664.3 520.2h0M671.6 475.8h0M707.3 527.5h0M713.1 521.7h0M544.8 331.0h0M688.4 540.1h0M671.5 513.1h0M699.3 512.7h0M666.4 496.7h0" stroke="#f0a090" stroke-opacity="0.08" stroke-width="2.6" stroke-linecap="round" fill="none"/>
</g>
<g id="main">
<path d="M495.0 444.7h0M491.0 411.5h0M511.5 445.8h0M532.3 445.9h0M524.2 443.3h0M510.5 453.0h0M502.4 472.0h0M518.3 424.7h0M515.7 413.1h0M510.0 442.0h0M548.5 462.6h0M509.5 401.3h0M517.8 462.0h0M507.4 428.4h0M492.3 415.3h0M518.2 411.2h0M490.5 453.7h0M506.3 465.2h0M520.1 476.6h0M501.1 428.2h0M516.2 428.1h0M490.8 436.2h0M503.0 475.9h0M537.2 448.9h0M531.6 462.1h0M496.5 456.2h0M496.1 439.7h0M510.9 414.5h0M503.0 431.9h0M520.4 406.9h0M528.2 420.6h0M524.3 457.1h0M508.5 457.7h0M510.4 411.6h0M507.9 435.4h0M492.1 450.3h0M541.6 461.3h0M496.1 441.6h0M535.6 472.2h0M495.7 434.9h0M520.4 425.5h0M527.8 454.0h0M502.7 455.8h0M510.7 465.9h0M506.2 471.7h0M514.7 449.6h0M532.5 446.5h0M492.8 429.0h0M540.0 457.1h0M548.2 467.8h0M506.7 457.8h0M509.6 467.3h0M512.6 413.6h0M546.4 461.9h0M537.4 450.2h0M525.1 405.4h0M524.3 473.1h0M534.7 472.1h0M520.3 479.1h0M511.7 408.0h0M528.7 440.7h0M515.6 476.5h0M495.7 455.3h0M514.6 447.3h0M520.5 411.9h0M521.4 477.4h0M490.8 441.2h0M494.5 437.5h0M500.4 464.1h0M523.4 425.7h0M503.7 477.8h0M514.1 466.2h0M497.1 432.4h0M521.1 406.2h0M489.9 419.6h0M512.7 466.3h0M511.3 479.7h0M496.8 451.6h0M492.1 459.5h0M517.0 410.4h0M548.2 478.1h0M498.8 426.1h0M517.0 486.9h0M497.6 443.6h0M519.8 429.7h0M497.8 453.3h0M513.6 411.2h0M526.3 446.5h0M550.5 471.8h0M519.0 446.9h0M513.5 435.8h0M518.2 464.4h0M516.2 432.6h0M487.0 453.1h0M522.6 477.7h0M514.8 470.6h0M527.3 420.2h0M490.8 411.3h0M511.9 430.1h0M524.9 479.7h0M511.3 416.4h0M512.6 428.4h0M512.8 404.4h0M524.3 456.0h0M510.6 458.9h0M516.6 419.2h0M547.3 466.9h0M551.0 473.7h0M514.5 461.7h0M516.3 446.0h0M503.3 464.8h0M506.4 474.3h0M505.1 402.6h0M507.2 452.5h0M507.4 433.9h0M493.4 434.8h0M504.8 460.9h0M512.1 464.1h0M540.6 455.0h0M498.5 416.1h0M538.3 463.4h0M547.8 470.0h0M515.1 411.8h0M547.4 462.4h0M525.8 461.2h0M512.7 430.7h0M525.7 443.2h0M511.8 483.2h0M513.3 471.8h0M492.6 440.4h0M521.7 472.6h0M528.6 456.4h0M499.0 447.0h0M508.4 457.6h0M528.0 445.9h0M508.5 445.2h0M511.8 480.0h0M517.9 442.6h0M504.0 422.6h0M550.9 469.3h0M525.2 463.6h0M518.8 481.3h0M504.3 473.4h0M554.0 480.6h0M497.5 420.3h0M511.0 410.2h0M529.2 440.7h0M537.2 472.4h0M512.5 448.0h0M492.9 425.5h0M501.5 427.6h0M508.5 451.6h0M509.1 429.2h0M545.7 456.8h0M501.2 482.6h0M502.9 446.5h0M533.0 471.6h0M503.2 442.7h0M526.2 470.6h0M497.1 447.5h0M527.0 462.2h0M521.3 472.7h0M516.2 478.7h0M508.2 456.0h0M544.4 463.8h0M493.6 440.1h0M519.2 441.9h0M493.6 431.2h0M505.3 483.2h0M510.1 475.7h0M502.5 416.1h0M552.1 467.5h0M524.2 412.8h0M507.7 444.9h0M504.4 453.4h0M529.9 465.9h0M526.6 407.1h0M500.1 470.9h0M524.8 439.7h0M491.3 423.3h0M507.3 430.9h0M516.7 454.4h0M491.6 417.1h0M501.4 414.4h0M491.4 418.7h0M501.5 443.0h0M497.8 408.3h0M504.3 415.2h0M519.2 478.2h0M516.1 432.5h0M503.7 461.5h0M525.2 446.3h0M499.6 450.7h0M538.3 462.6h0M495.3 454.0h0M507.2 432.1h0M544.8 464.3h0M514.9 415.6h0M527.6 475.3h0M504.1 462.9h0M494.9 448.1h0M493.8 448.4h0M523.4 431.0h0M510.2 463.8h0M519.2 436.5h0M493.9 425.2h0M511.8 478.2h0M505.0 462.4h0M507.2 485.8h0M511.3 465.5h0M517.2 456.8h0M504.8 475.6h0M504.6 476.1h0M497.2 440.1h0M510.3 435.3h0M528.2 439.0h0M504.3 481.9h0M538.7 471.8h0M501.4 439.1h0M501.2 433.6h0M491.4 460.4h0M506.9 469.0h0M500.0 448.1h0M537.5 450.6h0M509.1 452.2h0M513.1 410.5h0M497.9 421.9h0M529.8 452.0h0M526.8 473.8h0M492.7 434.8h0M491.6 437.5h0M493.4 434.9h0M505.9 442.2h0M491.4 440.2h0M526.3 474.0h0M525.3 451.9h0M505.3 449.0h0M523.2 481.7h0M502.1 459.4h0M525.8 446.0h0M529.3 449.4h0M509.3 457.5h0M491.9 442.9h0M517.3 419.0h0M525.2 460.1h0M494.8 426.5h0M490.5 453.5h0M491.8 420.4h0M517.0 440.5h0M502.0 454.7h0M501.5 453.4h0M510.4 428.5h0M518.8 452.6h0M527.3 461.8h0M504.7 408.0h0M503.6 429.2h0M527.9 437.1h0M507.6 408.7h0M527.2 409.7h0M521.7 461.8h0M510.7 484.5h0M492.4 460.9h0M516.2 455.0h0M513.2 410.9h0M545.6 471.7h0M511.9 448.2h0M514.2 470.7h0M514.1 410.3h0M507.2 424.0h0M522.0 422.1h0M513.2 484.6h0M519.0 422.6h0M522.0 482.4h0M545.7 460.8h0M548.0 467.9h0M508.3 478.7h0M503.3 484.8h0M506.8 478.5h0M504.7 429.4h0M489.3 414.2h0M523.7 415.1h0M500.4 424.0h0M526.2 472.6h0M537.9 466.5h0M533.0 448.7h0M509.7 416.0h0M511.0 408.8h0M510.6 465.8h0M509.6 461.2h0M494.7 434.4h0M514.4 445.6h0M501.9 462.7h0M546.8 472.9h0M509.8 451.4h0M514.8 484.8h0M519.6 474.6h0M507.3 466.0h0M515.0 423.5h0M550.1 475.7h0M510.6 449.3h0M548.7 479.4h0M536.1 461.5h0M533.3 448.8h0M526.2 417.6h0M524.9 460.4h0M519.6 460.9h0M517.7 472.1h0M491.8 410.7h0M508.5 447.0h0M508.9 418.1h0M544.6 458.0h0M490.2 452.1h0M522.4 474.0h0M502.2 441.4h0M514.0 454.5h0M513.7 422.9h0M518.2 451.5h0M513.1 445.3h0M529.9 476.5h0M524.7 434.2h0M504.5 413.4h0M512.7 430.7h0M510.6 476.4h0M506.2 411.7h0M515.7 432.3h0M521.3 473.1h0M504.4 431.3h0M525.8 421.1h0M505.1 416.7h0M504.2 475.3h0M510.2 464.8h0M539.9 473.7h0M514.2 421.0h0M488.5 456.5h0M512.6 478.1h0M490.8 417.8h0M504.0 435.3h0M527.6 455.2h0M528.0 458.4h0M531.2 452.3h0M501.2 437.6h0M502.5 477.9h0M505.4 414.5h0M540.9 468.3h0M544.7 460.8h0M514.8 442.6h0M524.3 453.4h0M503.4 445.8h0M519.8 463.0h0M498.7 412.4h0M506.0 412.9h0M538.7 474.8h0M495.9 406.4h0M508.4 461.6h0M535.2 469.7h0M496.9 442.4h0M511.6 435.2h0M541.3 458.5h0M532.9 458.5h0M513.3 476.3h0M530.8 471.0h0M529.0 470.4h0M537.1 473.0h0M507.2 412.0h0M529.1 476.8h0M524.1 452.8h0M506.4 479.5h0M502.7 412.7h0M507.5 430.3h0M546.9 458.9h0M494.6 435.2h0M520.5 421.8h0M505.8 467.0h0M523.5 427.7h0M490.5 454.0h0M496.9 461.7h0M527.2 418.6h0M533.6 458.1h0M525.7 419.4h0M517.0 463.9h0M509.6 468.5h0M516.8 466.4h0M514.3 431.2h0M514.9 462.9h0M503.4 486.0h0M538.0 458.2h0M506.3 472.6h0M549.3 471.0h0M518.9 407.0h0M523.5 421.6h0M543.4 456.9h0M537.6 460.2h0M518.0 410.7h0M506.0 445.3h0M526.2 426.9h0M494.9 430.6h0M501.4 435.3h0M523.4 422.5h0M520.2 449.5h0M523.2 412.9h0M503.9 434.0h0M519.3 433.2h0M503.2 437.2h0M516.1 461.7h0M529.6 449.2h0M498.0 458.6h0M497.6 452.6h0M491.6 455.6h0M503.9 436.0h0M489.7 412.7h0M524.4 469.5h0M502.7 411.4h0M501.5 417.8h0M494.2 457.2h0M517.6 402.4h0M504.2 474.8h0M517.5 460.4h0M531.1 465.7h0M516.5 413.0h0M516.6 468.1h0M512.9 456.9h0M492.0 409.9h0M503.7 425.0h0M516.9 420.4h0M512.5 481.0h0M540.9 469.1h0M549.0 466.1h0M507.2 486.3h0M515.0 430.2h0M518.8 435.8h0M545.3 472.3h0M516.4 406.6h0M513.4 413.4h0M506.1 478.3h0M498.4 463.8h0M503.4 439.9h0M499.8 452.7h0M508.3 423.0h0M491.5 418.2h0M501.9 443.3h0M516.2 440.0h0M494.3 450.6h0M491.8 452.5h0M508.1 422.5h0M491.4 448.2h0M505.0 414.8h0M552.7 469.6h0M542.6 463.6h0M506.3 458.5h0M506.1 441.6h0M498.2 476.4h0M518.0 415.4h0M508.0 425.1h0M525.2 470.6h0M505.9 410.2h0M518.3 455.6h0M500.2 477.7h0M520.3 455.9h0M517.9 476.1h0M543.2 459.3h0M500.4 456.1h0M537.5 459.3h0M527.1 458.7h0M496.4 440.4h0M508.8 466.1h0M521.7 464.6h0M493.1 442.8h0M544.1 471.5h0M493.5 418.0h0M534.0 455.2h0M520.2 471.9h0M512.5 435.8h0M516.9 433.8h0M531.2 476.6h0M543.8 471.2h0M531.7 473.9h0M521.2 451.2h0M497.4 463.5h0M506.0 450.4h0M528.5 456.6h0M524.9 422.5h0M531.2 459.3h0M496.6 449.9h0M510.4 425.3h0M517.2 409.1h0M518.2 415.2h0M515.4 483.3h0M531.8 448.9h0M523.0 457.0h0M528.1 440.5h0M521.3 408.9h0M516.7 460.5h0M501.5 424.7h0M499.6 473.5h0M494.5 426.8h0M542.4 468.6h0M513.9 483.9h0M530.6 456.4h0M491.2 411.7h0M491.5 437.1h0M514.1 435.9h0M513.5 447.2h0M523.0 418.2h0M510.4 486.6h0M509.6 421.2h0M490.9 421.8h0M506.1 430.8h0M499.4 433.2h0M515.9 407.3h0M518.4 445.5h0M533.5 461.0h0M498.2 450.8h0M517.0 414.4h0M511.4 407.2h0M514.0 475.2h0M535.5 466.2h0M498.0 464.3h0M549.2 461.7h0M524.8 468.8h0M490.3 424.3h0M508.1 473.9h0M495.1 425.0h0M503.8 404.1h0M514.2 429.8h0M495.4 425.5h0M521.0 429.5h0M524.7 428.4h0M530.5 460.2h0M509.8 440.0h0M547.1 468.6h0M541.0 475.2h0M515.2 417.5h0M500.5 417.9h0M521.6 415.8h0M518.3 454.6h0M517.3 419.3h0M506.1 483.9h0M522.6 449.1h0M506.5 430.0h0M505.1 440.6h0M527.3 474.6h0M498.2 440.3h0M522.8 473.4h0M535.0 455.9h0M541.6 475.2h0M525.1 410.3h0M515.5 423.6h0M499.4 426.5h0M515.7 434.3h0M498.9 451.2h0M514.8 484.1h0M495.7 457.9h0M508.4 443.0h0M498.0 425.7h0M505.9 412.9h0M490.9 429.9h0M528.4 440.9h0M525.4 430.8h0M526.1 472.0h0M514.5 475.8h0M497.6 447.4h0M524.5 470.7h0M514.5 423.0h0M511.5 441.9h0M524.8 460.8h0M518.0 451.3h0M503.3 418.8h0M521.9 417.7h0M525.4 474.1h0M491.2 421.7h0M520.3 404.0h0M496.0 451.5h0M513.6 481.1h0M525.4 467.9h0M510.0 433.7h0M544.8 455.2h0M494.1 460.8h0M513.0 461.6h0M511.0 467.6h0M517.5 425.4h0M522.9 454.2h0M496.5 453.0h0M522.7 418.3h0M489.1 419.1h0M508.1 451.4h0M531.8 463.8h0M516.5 456.5h0M524.2 426.5h0M501.2 435.7h0M498.8 460.1h0M541.7 468.8h0M491.8 457.2h0M503.8 408.3h0M525.3 418.9h0M533.7 457.1h0M549.3 468.6h0M503.0 462.0h0M508.5 480.4h0M519.0 413.6h0M492.2 410.9h0M493.5 431.9h0M493.0 431.5h0M519.4 440.1h0M530.3 461.1h0M540.0 465.4h0M516.3 479.6h0M527.2 462.8h0M521.7 451.4h0M498.4 425.7h0M516.8 409.8h0M525.3 462.9h0M511.6 458.7h0M553.0 469.1h0M501.3 405.7h0M508.7 447.4h0M504.9 470.9h0M503.8 410.9h0M527.6 468.2h0M500.3 429.8h0M528.2 456.2h0M522.6 403.6h0M508.5 464.3h0M499.8 423.7h0M514.2 444.7h0M499.0 405.3h0M518.1 470.3h0M507.5 406.7h0M517.9 448.6h0M533.5 451.2h0M506.9 414.4h0M509.6 442.0h0M498.9 426.7h0M494.8 459.7h0M510.6 446.2h0M513.2 410.1h0M536.8 451.0h0M525.9 438.1h0M516.1 464.8h0M502.9 435.8h0M495.4 450.8h0M516.2 403.6h0M502.0 435.4h0M522.7 408.2h0M528.7 473.4h0M509.1 405.8h0M522.8 412.0h0M497.7 474.8h0M567.7 464.2h0M541.2 444.6h0M564.7 456.0h0M554.5 450.8h0M535.6 436.8h0M546.6 443.2h0M558.2 431.3h0M561.1 469.1h0M567.4 455.8h0M575.7 436.0h0M534.9 442.0h0M536.9 445.9h0M544.6 435.4h0M573.9 442.6h0M543.6 429.7h0M554.9 478.3h0M562.7 440.4h0M551.2 462.4h0M580.7 444.4h0M546.0 447.7h0M553.9 451.0h0M564.8 470.7h0M569.3 443.4h0M543.7 443.4h0M558.5 470.8h0M549.1 451.5h0M557.4 460.2h0M559.7 440.2h0M573.6 441.3h0M559.5 435.2h0M542.4 443.2h0M553.4 444.2h0M561.8 437.5h0M552.6 456.8h0M563.7 448.5h0M566.2 432.0h0M565.3 454.7h0M569.1 439.8h0M555.1 463.3h0M541.6 447.6h0M585.3 440.5h0M563.3 467.7h0M557.7 463.4h0M537.9 426.5h0M582.9 441.1h0M558.9 446.1h0M574.4 448.7h0M533.2 441.1h0M553.8 449.7h0M559.2 465.2h0M534.2 429.4h0M557.4 433.9h0M572.4 450.9h0M538.6 441.6h0M543.2 472.2h0M553.5 481.1h0M549.7 479.5h0M509.6 483.8h0M558.0 484.4h0M523.5 473.2h0M554.8 481.4h0M514.5 483.1h0M571.5 473.4h0M518.6 472.2h0M554.4 496.8h0M541.9 478.4h0M572.3 486.6h0M572.0 480.5h0M511.3 472.0h0M520.3 482.2h0M557.4 483.2h0M543.4 487.0h0M561.6 488.9h0M512.4 474.5h0M548.8 486.4h0M507.8 483.4h0M549.9 476.6h0M564.4 487.2h0M542.1 479.2h0M531.9 485.7h0M565.5 493.8h0M530.1 483.8h0M560.3 475.6h0M547.8 474.0h0M563.0 490.6h0M570.1 478.0h0M515.6 473.8h0M504.4 475.5h0M558.0 484.5h0M528.1 481.8h0M555.7 483.9h0M562.3 485.1h0M518.7 485.1h0M563.0 477.9h0M547.8 486.3h0M552.1 480.2h0M563.6 483.3h0M539.8 489.2h0M528.2 495.1h0M518.9 470.2h0M524.2 490.4h0M554.1 493.9h0M505.8 476.3h0M567.2 487.0h0M525.0 485.7h0M560.8 475.5h0M552.9 472.2h0M528.0 475.2h0M532.7 475.8h0M529.5 490.7h0M536.8 483.5h0M520.3 483.3h0M554.3 492.3h0M529.2 471.7h0M574.0 477.2h0M565.6 472.5h0M543.1 477.3h0M520.2 491.6h0M502.0 476.8h0M527.4 491.8h0M523.8 471.5h0M555.9 489.4h0M546.9 480.4h0M543.5 484.2h0M559.6 496.8h0M525.8 472.5h0M527.6 486.9h0M519.5 474.4h0M553.7 473.5h0M522.7 477.6h0M522.0 485.9h0M528.9 472.0h0M547.2 483.9h0M513.6 479.6h0M538.2 476.1h0M572.6 471.8h0M551.3 476.9h0M534.6 488.4h0M550.2 475.3h0M532.2 478.2h0M536.4 491.5h0M538.0 480.9h0M563.2 479.9h0M560.1 472.0h0M533.2 473.1h0M563.6 488.7h0M516.2 480.5h0M567.0 495.2h0M545.6 477.5h0M534.4 488.7h0M532.1 471.6h0M539.6 472.5h0M551.1 488.5h0M509.8 470.5h0M525.7 474.4h0M552.2 478.1h0M570.1 490.0h0M571.7 492.1h0M569.7 489.0h0M558.9 492.4h0M509.1 479.0h0M546.4 479.1h0M565.5 471.5h0M509.9 479.2h0M526.0 493.5h0M572.9 471.4h0M571.4 488.6h0M521.1 510.9h0M528.4 510.9h0M522.7 510.7h0M548.6 513.6h0M545.7 527.8h0M565.9 501.9h0M558.8 524.6h0M569.4 511.2h0M570.3 516.6h0M542.5 515.0h0M539.0 521.0h0M546.3 527.3h0M542.5 499.9h0M523.4 511.9h0M542.7 525.1h0M549.9 503.8h0M532.3 515.9h0M562.4 521.7h0M553.0 506.7h0M548.7 506.3h0M559.5 506.6h0M534.6 515.3h0M536.7 499.8h0M518.0 510.1h0M514.4 400.4h0M520.0 401.6h0M527.3 403.5h0M506.5 404.1h0M497.3 405.9h0M492.4 410.2h0M487.5 419.4h0M490.5 425.5h0M489.3 432.9h0M477.7 441.2h0M483.8 440.3h0M488.1 446.4h0M484.4 455.0h0M490.5 459.9h0M468.5 461.3h0M496.7 466.0h0M485.6 475.2h0M499.7 475.2h0M527.4 403.2h0M521.1 401.5h0M538.0 406.4h0M546.7 405.4h0M552.7 407.0h0M559.2 405.4h0M566.9 405.4h0M571.2 407.0h0M576.5 401.3h0M547.8 410.3h0M550.5 413.0h0M560.3 409.7h0M568.0 410.3h0M537.4 413.5h0M530.9 413.5h0M524.4 411.3h0M548.6 420.6h0M564.5 419.2h0M528.2 421.2h0M529.3 432.6h0M534.7 428.8h0M540.2 427.2h0M542.9 427.7h0M536.3 437.0h0M541.8 433.1h0M547.2 436.4h0M550.5 438.1h0M562.0 428.2h0M569.0 426.6h0M563.1 433.1h0M568.0 432.1h0M575.6 428.8h0M577.8 433.1h0M583.2 431.0h0M581.0 437.0h0M571.2 438.6h0M565.8 438.6h0M559.2 438.6h0M584.3 441.9h0M591.4 425.5h0M595.7 424.4h0M591.4 432.1h0M592.5 434.8h0M598.5 431.0h0M556.0 444.0h0M561.4 445.1h0M566.9 447.3h0M572.3 447.9h0M577.2 448.4h0M559.2 449.5h0M556.0 451.7h0M576.7 454.9h0M592.5 452.2h0M586.5 458.2h0M581.6 460.4h0M574.5 461.5h0M599.0 458.8h0M594.1 465.8h0M597.4 468.0h0M584.3 467.5h0M574.0 468.0h0M565.8 459.3h0M563.6 464.8h0M563.6 471.3h0M579.4 474.0h0M598.8 431.1h0M601.3 435.4h0M612.9 440.3h0M609.2 440.9h0M605.5 443.9h0M622.1 448.2h0M628.6 449.4h0M637.4 440.3h0M644.4 428.2h0M646.4 436.3h0M646.4 445.2h0M640.5 451.3h0M673.6 454.4h0M612.9 451.0h0M609.2 451.9h0M606.2 455.0h0M610.4 456.8h0M612.9 458.6h0M606.8 460.5h0M598.2 458.0h0M601.3 462.3h0M603.1 465.4h0M612.3 464.8h0M616.6 464.2h0M613.5 468.4h0M631.3 456.8h0M626.4 461.1h0M630.1 463.5h0M636.2 463.5h0M631.3 467.2h0M622.7 468.4h0M627.0 470.9h0M630.1 472.1h0M625.2 474.6h0M640.5 468.4h0M642.3 473.4h0M655.2 471.1h0M610.4 472.1h0M605.5 475.8h0M612.9 475.8h0M616.6 477.0h0M579.2 475.2h0M574.9 478.3h0M587.2 478.9h0M650.3 477.0h0M646.0 478.9h0M485.4 475.1h0M487.5 481.6h0M499.4 494.3h0M502.4 545.1h0M508.3 516.3h0M507.1 506.2h0M512.6 502.5h0M508.3 529.4h0M512.0 526.4h0M516.3 525.2h0M520.6 523.9h0M515.1 528.2h0M524.3 534.4h0M531.6 536.2h0M534.7 536.2h0M541.4 533.1h0M548.4 535.0h0M553.1 541.1h0M556.7 539.9h0M560.4 541.1h0M563.5 542.3h0M532.2 549.1h0M538.4 550.3h0M544.5 551.5h0M547.5 554.0h0M543.3 554.6h0M555.5 548.4h0M555.5 552.7h0M566.5 558.3h0M561.4 530.3h0M516.3 514.1h0M515.7 509.2h0M523.6 508.6h0M528.5 511.1h0M533.4 509.2h0M533.4 515.4h0M537.1 517.2h0M534.7 520.3h0M544.5 503.1h0M542.0 500.6h0M546.3 513.5h0M543.3 514.7h0M545.7 520.3h0M549.4 526.4h0M553.1 516.6h0M556.7 519.0h0M560.4 515.4h0M554.3 522.7h0M558.0 523.9h0M566.5 508.0h0M570.2 506.8h0M570.8 521.5h0M567.8 527.6h0M572.7 528.8h0M570.8 536.2h0M574.5 531.3h0M574.5 544.8h0M574.5 509.2h0M574.5 551.5h0M516.3 493.3h0M517.5 497.6h0M520.0 501.3h0M523.6 503.7h0M527.3 505.5h0M521.8 496.4h0M526.1 499.4h0M530.4 501.3h0M533.4 502.5h0M528.5 496.4h0M512.6 491.5h0M575.5 479.8h0M582.3 481.0h0M587.8 480.4h0M594.5 481.0h0M572.5 484.7h0M577.4 487.2h0M583.5 487.2h0M608.6 482.3h0M613.5 479.8h0M612.3 485.9h0M617.8 484.7h0M627.6 482.3h0M632.5 484.1h0M628.8 488.4h0M623.9 489.6h0M618.4 491.5h0M616.0 493.3h0M646.0 481.0h0M643.5 484.1h0M668.4 481.3h0M682.4 480.2h0M683.4 489.4h0M675.4 498.4h0M680.3 507.4h0M650.5 491.1h0M654.6 498.4h0M658.5 502.2h0M601.3 490.8h0M596.4 493.9h0M592.7 489.0h0M594.5 498.2h0M584.7 492.1h0M582.3 497.0h0M585.9 501.9h0M581.0 503.1h0M589.6 504.3h0M593.9 506.2h0M571.2 492.1h0M572.5 499.4h0M604.3 502.8h0M633.1 497.2h0M626.4 498.4h0M641.1 500.6h0M614.7 500.0h0M618.4 503.7h0M622.7 506.8h0M627.6 504.3h0M635.0 505.5h0M639.3 506.8h0M644.2 505.5h0M636.2 510.4h0M631.3 510.4h0M627.0 511.7h0M621.5 511.7h0M641.1 511.7h0M644.8 512.9h0M613.5 509.2h0M606.8 512.3h0M601.3 512.9h0M595.7 514.1h0M575.5 509.2h0M585.9 509.2h0M585.3 514.1h0M578.0 515.4h0M579.8 519.0h0M650.9 511.4h0M649.7 515.4h0M654.6 520.3h0M614.7 517.2h0M617.2 521.5h0M621.5 522.7h0M627.0 521.5h0M631.3 517.8h0M636.2 516.6h0M641.1 517.8h0M645.4 519.0h0M639.9 522.7h0M643.5 522.7h0M614.7 526.4h0M619.6 530.1h0M623.9 526.4h0M640.5 527.6h0M639.3 532.5h0M644.8 533.1h0M634.4 534.4h0M639.3 536.2h0M630.7 539.5h0M653.4 535.0h0M650.3 538.0h0M655.8 539.3h0M659.5 542.3h0M572.5 520.3h0M577.4 523.9h0M584.7 523.3h0M582.3 529.4h0M571.2 528.8h0M574.9 534.4h0M596.4 529.4h0M592.1 533.1h0M593.3 537.4h0M606.2 536.2h0M609.2 539.9h0M605.5 543.5h0M603.1 548.4h0M602.5 554.0h0M615.4 544.2h0M616.6 549.1h0M623.3 550.3h0M574.9 544.8h0M576.1 552.1h0M585.3 547.2h0M591.5 545.4h0M586.5 553.4h0M589.6 557.6h0M575.5 560.0h0M643.5 553.4h0M632.5 558.9h0M566.5 558.2h0M558.7 572.3h0M575.8 561.2h0M581.4 564.3h0M589.0 560.8h0M594.8 566.1h0M600.8 563.8h0M599.6 569.1h0M632.2 559.9h0M629.6 562.4h0M653.4 381.5h0M697.5 380.4h0M712.5 362.3h0M774.5 323.4h0M780.5 320.4h0M792.4 320.4h0M800.3 324.3h0M792.1 327.3h0M794.7 328.8h0M772.3 332.2h0M771.5 345.4h0M761.1 358.3h0M765.4 363.5h0M804.4 362.4h0M703.4 522.4h0M656.0 471.5h0" stroke="#74b4e2" stroke-width="7.5" stroke-linecap="round" fill="none"/>
</g>
<g id="ann">
<path d="M604.26 332.93L463.34 368.72" stroke="#000" stroke-width="2.1" fill="none"/><path d="M452.00 371.60L464.27 364.25L466.29 372.20Z" fill="#000"/>
<rect x="460.6" y="330.6" width="66.9" height="37.8" fill="#fdf8f3" fill-opacity="0.8" shape-rendering="crispEdges"/>
<text transform="matrix(0.8595 0 0 0.9202 465.90 358.00)" font-size="31" text-rendering="geometricPrecision">IL7R</text>
<path d="M604.26 332.93L558.36 380.11" stroke="#000" stroke-width="2.1" fill="none"/><path d="M550.20 388.50L556.81 375.82L562.69 381.54Z" fill="#000"/>
<rect x="569.9" y="348.8" width="65.5" height="38.0" fill="#fdf8f3" fill-opacity="0.8" shape-rendering="crispEdges"/>
<text transform="matrix(0.8616 0 0 0.9202 574.68 376.00)" font-size="31" text-rendering="geometricPrecision">FOS</text>
<path d="M604.26 332.93L547.01 380.34" stroke="#000" stroke-width="2.1" fill="none"/><path d="M538.00 387.80L545.94 375.90L551.17 382.22Z" fill="#000"/>
<rect x="554.1" y="315.6" width="84.3" height="38.3" fill="#fdf8f3" fill-opacity="0.8" shape-rendering="crispEdges"/>
<text transform="matrix(0.7954 0 0 0.9202 559.72 343.00)" font-size="31" text-rendering="geometricPrecision">CRIP1</text>
</g>
<g id="axes">
<path d="M158.1 38.9V598.9H982.7" stroke="#262626" stroke-width="1.9" fill="none" stroke-linecap="butt" stroke-linejoin="miter"/>
<path d="M158.1 109.92H148.0M158.1 184.26H148.0M158.1 258.60H148.0M158.1 332.93H148.0M158.1 407.27H148.0M158.1 481.60H148.0M158.1 555.94H148.0M205.94 598.9V608.8M305.52 598.9V608.8M405.10 598.9V608.8M504.68 598.9V608.8M604.26 598.9V608.8M703.84 598.9V608.8M803.42 598.9V608.8M903.00 598.9V608.8" stroke="#262626" stroke-width="1.8" fill="none"/>
<text transform="matrix(0.8902 0 0 1.0704 107.60 122.00)" font-size="31" text-rendering="geometricPrecision">15</text>
<text transform="matrix(0.9473 0 0 1.0704 106.13 196.00)" font-size="31" text-rendering="geometricPrecision">10</text>
<text transform="matrix(1.1093 0 0 1.0704 119.51 271.00)" font-size="31" text-rendering="geometricPrecision">5</text>
<text transform="matrix(1.2030 0 0 1.0704 118.42 345.00)" font-size="31" text-rendering="geometricPrecision">0</text>
<text transform="matrix(1.0666 0 0 1.0704 100.87 419.00)" font-size="31" text-rendering="geometricPrecision"><tspan dy="2.4" stroke="#000000" stroke-width="0.5">−</tspan><tspan dy="-2.4">5</tspan></text>
<text transform="matrix(0.9605 0 0 1.0704 87.94 494.00)" font-size="31" text-rendering="geometricPrecision"><tspan dy="2.4" stroke="#000000" stroke-width="0.5">−</tspan><tspan dy="-2.4">10</tspan></text>
<text transform="matrix(0.9283 0 0 1.0704 89.52 568.00)" font-size="31" text-rendering="geometricPrecision"><tspan dy="2.4" stroke="#000000" stroke-width="0.5">−</tspan><tspan dy="-2.4">15</tspan></text>
<text transform="matrix(1.0940 0 0 1.0704 177.50 642.00)" font-size="31" text-rendering="geometricPrecision"><tspan dy="2.4" stroke="#000000" stroke-width="0.5">−</tspan><tspan dy="-2.4">20</tspan></text>
<text transform="matrix(0.9284 0 0 1.0704 281.78 642.00)" font-size="31" text-rendering="geometricPrecision"><tspan dy="2.4" stroke="#000000" stroke-width="0.5">−</tspan><tspan dy="-2.4">15</tspan></text>
<text transform="matrix(0.9614 0 0 1.0704 380.84 642.00)" font-size="31" text-rendering="geometricPrecision"><tspan dy="2.4" stroke="#000000" stroke-width="0.5">−</tspan><tspan dy="-2.4">10</tspan></text>
<text transform="matrix(1.0570 0 0 1.0704 486.26 642.00)" font-size="31" text-rendering="geometricPrecision"><tspan dy="2.4" stroke="#000000" stroke-width="0.5">−</tspan><tspan dy="-2.4">5</tspan></text>
<text transform="matrix(1.2047 0 0 1.0704 594.17 642.00)" font-size="31" text-rendering="geometricPrecision">0</text>
<text transform="matrix(1.1143 0 0 1.0704 694.22 642.00)" font-size="31" text-rendering="geometricPrecision">5</text>
<text transform="matrix(0.9342 0 0 1.0704 785.38 642.00)" font-size="31" text-rendering="geometricPrecision">10</text>
<text transform="matrix(0.8876 0 0 1.0704 886.25 642.00)" font-size="31" text-rendering="geometricPrecision">15</text>
<text transform="matrix(0.9853 0 0 0.9742 512.79 688.00)" font-size="31" text-rendering="geometricPrecision" stroke="#000000" stroke-width="1.1" stroke-linejoin="round"><tspan>UMAP</tspan><tspan dx="-1.52"> </tspan><tspan textLength="19.04" lengthAdjust="spacingAndGlyphs">0</tspan></text>
<text transform="matrix(0 -0.9797 0.9671 0 60.20 372.77)" font-size="31" text-rendering="geometricPrecision" stroke="#000000" stroke-width="1.1" stroke-linejoin="round"><tspan>UMAP</tspan><tspan dx="-4.79"> </tspan><tspan textLength="13.14" lengthAdjust="spacingAndGlyphs">1</tspan></text>
<text transform="matrix(1.0210 0 0 1.0704 199.76 66.00)" font-size="31" text-rendering="geometricPrecision"><tspan>CD4+</tspan><tspan dx="-0.78"> </tspan><tspan textLength="17.76" lengthAdjust="spacingAndGlyphs">T</tspan><tspan dx="-2.02"> activated</tspan></text>
<circle cx="173.4" cy="54.5" r="3.7" fill="#74b4e2"/>
</g>
</g>
</svg>
</body></html>
